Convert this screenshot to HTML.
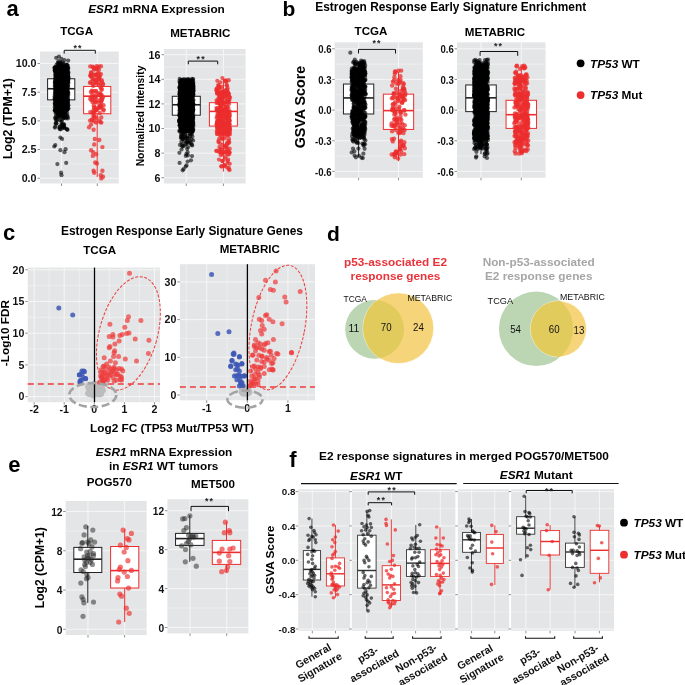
<!DOCTYPE html>
<html><head><meta charset="utf-8"><style>
html,body{margin:0;padding:0;background:#fff;width:685px;height:685px;overflow:hidden}
svg{display:block;filter:blur(0.35px);font-family:"Liberation Sans", sans-serif}
</style></head><body>
<svg width="685" height="685" viewBox="0 0 685 685" font-family="Liberation Sans, sans-serif">
<text x="12.7" y="15.9" font-size="22" font-weight="bold" text-anchor="middle" fill="#000" >a</text>
<text x="156.5" y="13" font-size="11.8" font-weight="bold" text-anchor="middle" fill="#000" ><tspan font-style="italic">ESR1</tspan> mRNA Expression</text>
<text x="76.6" y="35.3" font-size="11.6" font-weight="bold" text-anchor="middle" fill="#000" >TCGA</text>
<text x="200.3" y="37.4" font-size="11.6" font-weight="bold" text-anchor="middle" fill="#000" >METABRIC</text>
<rect x="40" y="51.5" width="78.8" height="132" fill="#e4e5e6"/>
<line x1="40" x2="118.8" y1="163.86" y2="163.86" stroke="#f6f6f6" stroke-width="0.5"/>
<line x1="40" x2="118.8" y1="135.19" y2="135.19" stroke="#f6f6f6" stroke-width="0.5"/>
<line x1="40" x2="118.8" y1="106.51" y2="106.51" stroke="#f6f6f6" stroke-width="0.5"/>
<line x1="40" x2="118.8" y1="77.84" y2="77.84" stroke="#f6f6f6" stroke-width="0.5"/>
<line x1="40" x2="118.8" y1="178.20" y2="178.20" stroke="#f6f6f6" stroke-width="1"/>
<line x1="40" x2="118.8" y1="149.52" y2="149.52" stroke="#f6f6f6" stroke-width="1"/>
<line x1="40" x2="118.8" y1="120.85" y2="120.85" stroke="#f6f6f6" stroke-width="1"/>
<line x1="40" x2="118.8" y1="92.17" y2="92.17" stroke="#f6f6f6" stroke-width="1"/>
<line x1="40" x2="118.8" y1="63.50" y2="63.50" stroke="#f6f6f6" stroke-width="1"/>
<line y1="51.5" y2="183.5" x1="61.50" x2="61.50" stroke="#f6f6f6" stroke-width="1"/>
<line y1="51.5" y2="183.5" x1="97.30" x2="97.30" stroke="#f6f6f6" stroke-width="1"/>
<line x1="37.5" x2="40" y1="178.20" y2="178.20" stroke="#444" stroke-width="0.6"/>
<line x1="37.5" x2="40" y1="149.52" y2="149.52" stroke="#444" stroke-width="0.6"/>
<line x1="37.5" x2="40" y1="120.85" y2="120.85" stroke="#444" stroke-width="0.6"/>
<line x1="37.5" x2="40" y1="92.17" y2="92.17" stroke="#444" stroke-width="0.6"/>
<line x1="37.5" x2="40" y1="63.50" y2="63.50" stroke="#444" stroke-width="0.6"/>
<line y1="183.5" y2="186" x1="61.50" x2="61.50" stroke="#444" stroke-width="0.6"/>
<line y1="183.5" y2="186" x1="97.30" x2="97.30" stroke="#444" stroke-width="0.6"/>
<text x="36.5" y="182.1" font-size="10.7" font-weight="bold" text-anchor="end" fill="#111" >0.0</text>
<text x="36.5" y="153.4" font-size="10.7" font-weight="bold" text-anchor="end" fill="#111" >2.5</text>
<text x="36.5" y="124.7" font-size="10.7" font-weight="bold" text-anchor="end" fill="#111" >5.0</text>
<text x="36.5" y="96" font-size="10.7" font-weight="bold" text-anchor="end" fill="#111" >7.5</text>
<text x="36.5" y="67.4" font-size="10.7" font-weight="bold" text-anchor="end" fill="#111" >10.0</text>
<text transform="translate(11.6 118.6) rotate(-90)" font-size="12.3" font-weight="bold" text-anchor="middle">Log2 (TPM+1)</text>
<path d="M64.2 53.6V50.3H95.3V53.6" fill="none" stroke="#111" stroke-width="1"/>
<text x="78.0" y="51.2" font-size="8.8" font-weight="bold" text-anchor="middle" letter-spacing="1.2" fill="#222">**</text>
<line x1="61.20" x2="61.20" y1="60.06" y2="78.76" stroke="#222" stroke-width="1.0"/>
<line x1="61.20" x2="61.20" y1="99.86" y2="128.88" stroke="#222" stroke-width="1.0"/>
<rect x="47.60" y="78.76" width="27.20" height="21.10" fill="#fff" stroke="#222" stroke-width="1.0"/>
<line x1="47.60" x2="74.80" y1="88.73" y2="88.73" stroke="#222" stroke-width="1.6"/>
<line x1="97.20" x2="97.20" y1="65.79" y2="86.44" stroke="#ec2e2e" stroke-width="1.0"/>
<line x1="97.20" x2="97.20" y1="113.74" y2="177.05" stroke="#ec2e2e" stroke-width="1.0"/>
<rect x="83.60" y="86.44" width="27.20" height="27.30" fill="#fff" stroke="#ec2e2e" stroke-width="1.0"/>
<line x1="83.60" x2="110.80" y1="96.19" y2="96.19" stroke="#ec2e2e" stroke-width="1.6"/>
<g fill="#000" fill-opacity="0.6"><circle cx="66.6" cy="83.0" r="2.1"/><circle cx="54.7" cy="70.5" r="2.1"/><circle cx="61.8" cy="76.1" r="2.1"/><circle cx="59.7" cy="101.3" r="2.1"/><circle cx="65.1" cy="97.9" r="2.1"/><circle cx="55.6" cy="71.6" r="2.1"/><circle cx="58.3" cy="111.4" r="2.1"/><circle cx="65.8" cy="74.0" r="2.1"/><circle cx="61.1" cy="75.1" r="2.1"/><circle cx="60.9" cy="90.2" r="2.1"/><circle cx="68.0" cy="97.8" r="2.1"/><circle cx="59.0" cy="98.9" r="2.1"/><circle cx="55.2" cy="100.0" r="2.1"/><circle cx="60.0" cy="91.3" r="2.1"/><circle cx="56.7" cy="88.5" r="2.1"/><circle cx="55.7" cy="86.3" r="2.1"/><circle cx="62.4" cy="66.0" r="2.1"/><circle cx="67.8" cy="75.3" r="2.1"/><circle cx="62.6" cy="83.1" r="2.1"/><circle cx="63.5" cy="66.3" r="2.1"/><circle cx="59.1" cy="101.8" r="2.1"/><circle cx="62.5" cy="104.3" r="2.1"/><circle cx="65.0" cy="83.6" r="2.1"/><circle cx="62.7" cy="109.7" r="2.1"/><circle cx="65.7" cy="110.0" r="2.1"/><circle cx="62.2" cy="88.1" r="2.1"/><circle cx="57.3" cy="90.3" r="2.1"/><circle cx="62.6" cy="69.6" r="2.1"/><circle cx="61.4" cy="82.8" r="2.1"/><circle cx="56.9" cy="88.1" r="2.1"/><circle cx="63.1" cy="88.9" r="2.1"/><circle cx="65.9" cy="100.3" r="2.1"/><circle cx="56.5" cy="111.1" r="2.1"/><circle cx="62.1" cy="102.8" r="2.1"/><circle cx="64.7" cy="79.9" r="2.1"/><circle cx="60.2" cy="102.5" r="2.1"/><circle cx="58.3" cy="94.7" r="2.1"/><circle cx="59.7" cy="111.5" r="2.1"/><circle cx="62.1" cy="73.6" r="2.1"/><circle cx="64.1" cy="104.6" r="2.1"/><circle cx="62.3" cy="99.4" r="2.1"/><circle cx="56.1" cy="71.3" r="2.1"/><circle cx="65.9" cy="88.3" r="2.1"/><circle cx="67.3" cy="72.8" r="2.1"/><circle cx="56.0" cy="82.3" r="2.1"/><circle cx="58.0" cy="77.6" r="2.1"/><circle cx="57.0" cy="107.5" r="2.1"/><circle cx="66.3" cy="86.8" r="2.1"/><circle cx="67.2" cy="88.4" r="2.1"/><circle cx="55.2" cy="71.7" r="2.1"/><circle cx="59.2" cy="95.1" r="2.1"/><circle cx="57.3" cy="84.2" r="2.1"/><circle cx="61.1" cy="109.0" r="2.1"/><circle cx="67.3" cy="93.9" r="2.1"/><circle cx="55.6" cy="96.9" r="2.1"/><circle cx="57.0" cy="104.8" r="2.1"/><circle cx="61.3" cy="74.2" r="2.1"/><circle cx="61.8" cy="94.3" r="2.1"/><circle cx="64.9" cy="66.8" r="2.1"/><circle cx="60.6" cy="84.6" r="2.1"/><circle cx="56.5" cy="83.9" r="2.1"/><circle cx="59.5" cy="82.4" r="2.1"/><circle cx="68.2" cy="80.6" r="2.1"/><circle cx="65.0" cy="104.8" r="2.1"/><circle cx="56.2" cy="91.5" r="2.1"/><circle cx="65.8" cy="100.7" r="2.1"/><circle cx="58.9" cy="93.2" r="2.1"/><circle cx="65.4" cy="107.2" r="2.1"/><circle cx="54.8" cy="67.3" r="2.1"/><circle cx="66.6" cy="101.8" r="2.1"/><circle cx="56.8" cy="80.9" r="2.1"/><circle cx="60.9" cy="97.9" r="2.1"/><circle cx="63.7" cy="71.6" r="2.1"/><circle cx="61.6" cy="81.3" r="2.1"/><circle cx="56.9" cy="105.6" r="2.1"/><circle cx="56.5" cy="72.9" r="2.1"/><circle cx="58.5" cy="68.3" r="2.1"/><circle cx="55.3" cy="70.2" r="2.1"/><circle cx="57.6" cy="85.5" r="2.1"/><circle cx="56.4" cy="105.0" r="2.1"/><circle cx="61.0" cy="102.8" r="2.1"/><circle cx="59.5" cy="69.1" r="2.1"/><circle cx="62.7" cy="86.3" r="2.1"/><circle cx="58.5" cy="103.4" r="2.1"/><circle cx="55.1" cy="71.1" r="2.1"/><circle cx="59.2" cy="82.2" r="2.1"/><circle cx="65.0" cy="85.5" r="2.1"/><circle cx="58.1" cy="94.4" r="2.1"/><circle cx="60.2" cy="92.8" r="2.1"/><circle cx="65.0" cy="100.7" r="2.1"/><circle cx="60.2" cy="109.9" r="2.1"/><circle cx="66.8" cy="71.5" r="2.1"/><circle cx="67.3" cy="90.2" r="2.1"/><circle cx="58.9" cy="86.5" r="2.1"/><circle cx="64.8" cy="96.9" r="2.1"/><circle cx="58.1" cy="77.2" r="2.1"/><circle cx="56.5" cy="110.5" r="2.1"/><circle cx="60.6" cy="94.6" r="2.1"/><circle cx="62.9" cy="110.3" r="2.1"/><circle cx="67.5" cy="106.0" r="2.1"/><circle cx="56.6" cy="67.3" r="2.1"/><circle cx="64.4" cy="81.5" r="2.1"/><circle cx="61.2" cy="92.0" r="2.1"/><circle cx="56.4" cy="87.6" r="2.1"/><circle cx="68.0" cy="71.6" r="2.1"/><circle cx="64.2" cy="95.9" r="2.1"/><circle cx="56.4" cy="84.6" r="2.1"/><circle cx="67.1" cy="80.3" r="2.1"/><circle cx="56.0" cy="95.4" r="2.1"/><circle cx="55.9" cy="87.9" r="2.1"/><circle cx="59.2" cy="76.6" r="2.1"/><circle cx="67.5" cy="70.0" r="2.1"/><circle cx="55.1" cy="104.7" r="2.1"/><circle cx="67.3" cy="68.8" r="2.1"/><circle cx="63.0" cy="111.4" r="2.1"/><circle cx="55.5" cy="77.1" r="2.1"/><circle cx="62.4" cy="74.5" r="2.1"/><circle cx="60.9" cy="105.4" r="2.1"/><circle cx="62.4" cy="92.5" r="2.1"/><circle cx="64.8" cy="74.3" r="2.1"/><circle cx="64.0" cy="111.0" r="2.1"/><circle cx="68.4" cy="82.8" r="2.1"/><circle cx="56.8" cy="75.3" r="2.1"/><circle cx="65.8" cy="88.1" r="2.1"/><circle cx="60.3" cy="78.4" r="2.1"/><circle cx="65.4" cy="101.3" r="2.1"/><circle cx="66.9" cy="102.6" r="2.1"/><circle cx="68.3" cy="95.0" r="2.1"/><circle cx="58.3" cy="103.4" r="2.1"/><circle cx="60.9" cy="95.8" r="2.1"/><circle cx="67.6" cy="68.2" r="2.1"/><circle cx="67.7" cy="85.4" r="2.1"/><circle cx="59.7" cy="96.1" r="2.1"/><circle cx="67.6" cy="99.2" r="2.1"/><circle cx="60.2" cy="68.0" r="2.1"/><circle cx="59.8" cy="91.3" r="2.1"/><circle cx="65.0" cy="66.7" r="2.1"/><circle cx="61.1" cy="88.0" r="2.1"/><circle cx="60.8" cy="87.8" r="2.1"/><circle cx="59.9" cy="70.5" r="2.1"/><circle cx="60.6" cy="77.6" r="2.1"/><circle cx="56.5" cy="85.0" r="2.1"/><circle cx="55.4" cy="92.1" r="2.1"/><circle cx="65.0" cy="71.4" r="2.1"/><circle cx="62.4" cy="92.8" r="2.1"/><circle cx="63.9" cy="69.3" r="2.1"/><circle cx="65.7" cy="108.5" r="2.1"/><circle cx="57.8" cy="91.9" r="2.1"/><circle cx="57.8" cy="87.8" r="2.1"/><circle cx="58.4" cy="68.0" r="2.1"/><circle cx="58.8" cy="100.2" r="2.1"/><circle cx="65.1" cy="74.7" r="2.1"/><circle cx="59.8" cy="80.6" r="2.1"/><circle cx="59.1" cy="78.8" r="2.1"/><circle cx="63.4" cy="82.8" r="2.1"/><circle cx="57.2" cy="67.1" r="2.1"/><circle cx="56.1" cy="96.4" r="2.1"/><circle cx="64.2" cy="93.4" r="2.1"/><circle cx="65.0" cy="102.4" r="2.1"/><circle cx="58.7" cy="109.3" r="2.1"/><circle cx="63.4" cy="101.9" r="2.1"/><circle cx="55.1" cy="69.7" r="2.1"/><circle cx="60.2" cy="73.1" r="2.1"/><circle cx="62.6" cy="106.5" r="2.1"/><circle cx="58.1" cy="84.0" r="2.1"/><circle cx="59.4" cy="89.7" r="2.1"/><circle cx="63.0" cy="84.4" r="2.1"/><circle cx="62.7" cy="81.4" r="2.1"/><circle cx="56.7" cy="97.6" r="2.1"/><circle cx="64.4" cy="67.6" r="2.1"/><circle cx="55.7" cy="90.3" r="2.1"/><circle cx="68.0" cy="82.9" r="2.1"/><circle cx="57.4" cy="82.5" r="2.1"/><circle cx="58.1" cy="103.2" r="2.1"/><circle cx="57.4" cy="108.8" r="2.1"/><circle cx="68.3" cy="92.8" r="2.1"/><circle cx="58.6" cy="76.6" r="2.1"/><circle cx="63.0" cy="74.3" r="2.1"/><circle cx="68.3" cy="78.2" r="2.1"/><circle cx="67.7" cy="106.5" r="2.1"/><circle cx="55.2" cy="69.8" r="2.1"/><circle cx="61.8" cy="74.9" r="2.1"/><circle cx="62.9" cy="71.4" r="2.1"/><circle cx="64.3" cy="87.7" r="2.1"/><circle cx="59.2" cy="69.7" r="2.1"/><circle cx="59.1" cy="109.5" r="2.1"/><circle cx="54.7" cy="110.3" r="2.1"/><circle cx="55.1" cy="110.7" r="2.1"/><circle cx="62.2" cy="100.1" r="2.1"/><circle cx="55.6" cy="100.3" r="2.1"/><circle cx="57.4" cy="103.1" r="2.1"/><circle cx="59.2" cy="85.7" r="2.1"/><circle cx="55.6" cy="109.9" r="2.1"/><circle cx="55.0" cy="84.6" r="2.1"/><circle cx="67.4" cy="104.1" r="2.1"/><circle cx="60.6" cy="80.6" r="2.1"/><circle cx="57.4" cy="110.7" r="2.1"/><circle cx="64.4" cy="97.4" r="2.1"/><circle cx="54.7" cy="68.6" r="2.1"/><circle cx="58.0" cy="87.0" r="2.1"/><circle cx="67.9" cy="74.4" r="2.1"/><circle cx="67.0" cy="81.5" r="2.1"/><circle cx="63.4" cy="83.7" r="2.1"/><circle cx="55.9" cy="102.9" r="2.1"/><circle cx="59.0" cy="85.3" r="2.1"/><circle cx="55.0" cy="109.9" r="2.1"/><circle cx="57.6" cy="74.9" r="2.1"/><circle cx="55.0" cy="67.6" r="2.1"/><circle cx="56.3" cy="72.5" r="2.1"/><circle cx="63.3" cy="109.3" r="2.1"/><circle cx="56.0" cy="96.1" r="2.1"/><circle cx="56.7" cy="97.1" r="2.1"/><circle cx="67.1" cy="106.5" r="2.1"/><circle cx="59.2" cy="82.9" r="2.1"/><circle cx="59.2" cy="75.1" r="2.1"/><circle cx="55.8" cy="97.3" r="2.1"/><circle cx="65.6" cy="72.1" r="2.1"/><circle cx="63.9" cy="75.1" r="2.1"/><circle cx="62.2" cy="105.7" r="2.1"/><circle cx="63.1" cy="76.5" r="2.1"/><circle cx="56.0" cy="71.2" r="2.1"/><circle cx="58.2" cy="102.6" r="2.1"/><circle cx="62.7" cy="85.4" r="2.1"/><circle cx="67.7" cy="82.4" r="2.1"/><circle cx="65.9" cy="83.7" r="2.1"/><circle cx="63.4" cy="107.3" r="2.1"/><circle cx="61.8" cy="81.3" r="2.1"/><circle cx="54.8" cy="82.7" r="2.1"/><circle cx="66.9" cy="73.9" r="2.1"/><circle cx="55.5" cy="74.8" r="2.1"/><circle cx="56.4" cy="96.7" r="2.1"/><circle cx="64.2" cy="78.5" r="2.1"/><circle cx="65.8" cy="71.9" r="2.1"/><circle cx="65.5" cy="70.7" r="2.1"/><circle cx="60.8" cy="104.3" r="2.1"/><circle cx="57.0" cy="110.4" r="2.1"/><circle cx="55.1" cy="81.8" r="2.1"/><circle cx="66.3" cy="101.8" r="2.1"/><circle cx="68.1" cy="85.8" r="2.1"/><circle cx="58.0" cy="68.3" r="2.1"/><circle cx="66.6" cy="94.3" r="2.1"/><circle cx="60.2" cy="100.1" r="2.1"/><circle cx="58.9" cy="90.7" r="2.1"/><circle cx="61.6" cy="81.5" r="2.1"/><circle cx="54.7" cy="107.0" r="2.1"/><circle cx="60.7" cy="94.2" r="2.1"/><circle cx="57.4" cy="105.5" r="2.1"/><circle cx="64.4" cy="81.3" r="2.1"/><circle cx="61.5" cy="73.6" r="2.1"/><circle cx="66.6" cy="94.4" r="2.1"/><circle cx="67.0" cy="94.6" r="2.1"/><circle cx="59.0" cy="86.9" r="2.1"/><circle cx="58.5" cy="101.8" r="2.1"/><circle cx="67.6" cy="100.3" r="2.1"/><circle cx="61.6" cy="96.5" r="2.1"/><circle cx="55.9" cy="90.7" r="2.1"/><circle cx="55.2" cy="107.9" r="2.1"/><circle cx="68.3" cy="77.1" r="2.1"/><circle cx="62.6" cy="85.1" r="2.1"/><circle cx="55.4" cy="97.9" r="2.1"/><circle cx="61.7" cy="108.1" r="2.1"/><circle cx="61.6" cy="76.7" r="2.1"/><circle cx="60.6" cy="105.7" r="2.1"/><circle cx="67.7" cy="105.6" r="2.1"/><circle cx="67.7" cy="105.7" r="2.1"/><circle cx="56.3" cy="107.9" r="2.1"/><circle cx="56.7" cy="70.1" r="2.1"/><circle cx="60.2" cy="99.3" r="2.1"/><circle cx="66.1" cy="97.6" r="2.1"/><circle cx="63.2" cy="73.5" r="2.1"/><circle cx="64.7" cy="83.2" r="2.1"/><circle cx="62.5" cy="103.1" r="2.1"/><circle cx="57.5" cy="91.7" r="2.1"/><circle cx="65.9" cy="71.1" r="2.1"/><circle cx="54.8" cy="94.5" r="2.1"/><circle cx="64.2" cy="79.1" r="2.1"/><circle cx="57.3" cy="107.2" r="2.1"/><circle cx="61.1" cy="78.3" r="2.1"/><circle cx="68.1" cy="76.0" r="2.1"/><circle cx="62.0" cy="73.8" r="2.1"/><circle cx="55.4" cy="80.7" r="2.1"/><circle cx="60.5" cy="94.7" r="2.1"/><circle cx="63.7" cy="108.7" r="2.1"/><circle cx="55.4" cy="87.9" r="2.1"/><circle cx="58.1" cy="76.9" r="2.1"/><circle cx="54.9" cy="102.9" r="2.1"/><circle cx="62.1" cy="99.5" r="2.1"/><circle cx="59.9" cy="87.1" r="2.1"/><circle cx="61.6" cy="77.3" r="2.1"/><circle cx="58.7" cy="70.5" r="2.1"/><circle cx="63.7" cy="105.9" r="2.1"/><circle cx="57.0" cy="103.2" r="2.1"/><circle cx="67.1" cy="75.0" r="2.1"/><circle cx="67.8" cy="82.1" r="2.1"/><circle cx="61.4" cy="78.6" r="2.1"/><circle cx="61.0" cy="65.9" r="2.1"/><circle cx="66.5" cy="68.6" r="2.1"/><circle cx="58.6" cy="73.0" r="2.1"/><circle cx="65.7" cy="76.0" r="2.1"/><circle cx="58.6" cy="93.6" r="2.1"/><circle cx="64.5" cy="82.3" r="2.1"/><circle cx="59.2" cy="103.2" r="2.1"/><circle cx="62.9" cy="76.8" r="2.1"/><circle cx="67.4" cy="76.9" r="2.1"/><circle cx="55.3" cy="78.6" r="2.1"/><circle cx="65.7" cy="91.3" r="2.1"/><circle cx="62.1" cy="94.3" r="2.1"/><circle cx="59.8" cy="92.4" r="2.1"/><circle cx="59.4" cy="110.1" r="2.1"/><circle cx="55.6" cy="72.9" r="2.1"/><circle cx="58.2" cy="86.8" r="2.1"/><circle cx="63.2" cy="93.9" r="2.1"/><circle cx="55.9" cy="86.5" r="2.1"/><circle cx="63.8" cy="78.6" r="2.1"/><circle cx="67.9" cy="94.2" r="2.1"/><circle cx="68.1" cy="73.6" r="2.1"/><circle cx="66.9" cy="69.5" r="2.1"/><circle cx="65.7" cy="93.9" r="2.1"/><circle cx="57.1" cy="105.4" r="2.1"/><circle cx="68.0" cy="76.8" r="2.1"/><circle cx="57.4" cy="66.1" r="2.1"/><circle cx="66.6" cy="104.9" r="2.1"/><circle cx="66.7" cy="79.0" r="2.1"/><circle cx="63.2" cy="73.8" r="2.1"/><circle cx="61.8" cy="69.4" r="2.1"/><circle cx="57.4" cy="106.0" r="2.1"/><circle cx="61.8" cy="107.5" r="2.1"/><circle cx="58.6" cy="66.4" r="2.1"/><circle cx="56.3" cy="106.3" r="2.1"/><circle cx="56.4" cy="103.6" r="2.1"/><circle cx="65.7" cy="85.3" r="2.1"/><circle cx="67.3" cy="91.2" r="2.1"/><circle cx="56.6" cy="77.2" r="2.1"/><circle cx="54.8" cy="102.9" r="2.1"/><circle cx="58.2" cy="69.7" r="2.1"/><circle cx="56.5" cy="101.7" r="2.1"/><circle cx="57.2" cy="76.4" r="2.1"/><circle cx="62.6" cy="108.6" r="2.1"/><circle cx="60.4" cy="90.0" r="2.1"/><circle cx="60.5" cy="110.2" r="2.1"/><circle cx="57.4" cy="97.3" r="2.1"/><circle cx="63.8" cy="97.3" r="2.1"/><circle cx="58.6" cy="78.7" r="2.1"/><circle cx="60.1" cy="90.8" r="2.1"/><circle cx="61.0" cy="109.1" r="2.1"/><circle cx="67.1" cy="66.0" r="2.1"/><circle cx="58.0" cy="70.9" r="2.1"/><circle cx="64.5" cy="69.6" r="2.1"/><circle cx="58.9" cy="100.4" r="2.1"/><circle cx="66.9" cy="93.6" r="2.1"/><circle cx="60.0" cy="101.3" r="2.1"/><circle cx="61.6" cy="105.9" r="2.1"/><circle cx="66.7" cy="110.2" r="2.1"/><circle cx="63.9" cy="88.6" r="2.1"/><circle cx="55.9" cy="106.0" r="2.1"/><circle cx="56.5" cy="103.6" r="2.1"/><circle cx="68.3" cy="72.2" r="2.1"/><circle cx="55.0" cy="89.5" r="2.1"/><circle cx="58.8" cy="103.2" r="2.1"/><circle cx="67.8" cy="80.9" r="2.1"/><circle cx="54.8" cy="99.5" r="2.1"/><circle cx="56.8" cy="87.5" r="2.1"/><circle cx="57.5" cy="98.7" r="2.1"/><circle cx="55.8" cy="88.0" r="2.1"/><circle cx="61.1" cy="82.8" r="2.1"/><circle cx="62.8" cy="87.1" r="2.1"/><circle cx="59.0" cy="93.5" r="2.1"/><circle cx="56.1" cy="75.4" r="2.1"/><circle cx="65.8" cy="71.6" r="2.1"/><circle cx="65.7" cy="103.4" r="2.1"/><circle cx="62.4" cy="105.4" r="2.1"/><circle cx="56.5" cy="106.5" r="2.1"/><circle cx="62.1" cy="66.7" r="2.1"/><circle cx="63.3" cy="68.5" r="2.1"/><circle cx="60.5" cy="101.1" r="2.1"/><circle cx="66.5" cy="67.2" r="2.1"/><circle cx="60.0" cy="102.1" r="2.1"/><circle cx="61.7" cy="88.4" r="2.1"/><circle cx="56.2" cy="88.9" r="2.1"/><circle cx="62.4" cy="69.7" r="2.1"/><circle cx="65.2" cy="109.8" r="2.1"/><circle cx="64.7" cy="97.2" r="2.1"/><circle cx="58.1" cy="84.1" r="2.1"/><circle cx="68.3" cy="108.6" r="2.1"/><circle cx="64.5" cy="100.8" r="2.1"/><circle cx="60.4" cy="90.3" r="2.1"/><circle cx="60.3" cy="71.3" r="2.1"/><circle cx="65.4" cy="76.8" r="2.1"/><circle cx="57.0" cy="73.6" r="2.1"/><circle cx="63.4" cy="76.8" r="2.1"/><circle cx="64.5" cy="79.2" r="2.1"/><circle cx="61.7" cy="72.7" r="2.1"/><circle cx="66.7" cy="80.4" r="2.1"/><circle cx="61.1" cy="77.9" r="2.1"/><circle cx="61.0" cy="97.8" r="2.1"/><circle cx="58.5" cy="104.0" r="2.1"/><circle cx="67.3" cy="77.0" r="2.1"/><circle cx="59.0" cy="104.1" r="2.1"/><circle cx="64.2" cy="69.5" r="2.1"/><circle cx="60.2" cy="84.3" r="2.1"/><circle cx="67.5" cy="96.6" r="2.1"/><circle cx="67.7" cy="68.7" r="2.1"/><circle cx="55.0" cy="104.6" r="2.1"/><circle cx="68.3" cy="88.1" r="2.1"/><circle cx="62.9" cy="107.5" r="2.1"/><circle cx="55.6" cy="67.4" r="2.1"/><circle cx="61.5" cy="85.3" r="2.1"/><circle cx="55.3" cy="74.8" r="2.1"/><circle cx="62.2" cy="98.7" r="2.1"/><circle cx="57.2" cy="74.9" r="2.1"/><circle cx="59.7" cy="79.4" r="2.1"/><circle cx="58.8" cy="82.1" r="2.1"/><circle cx="62.9" cy="68.1" r="2.1"/><circle cx="65.9" cy="91.8" r="2.1"/><circle cx="67.5" cy="92.6" r="2.1"/><circle cx="59.1" cy="79.9" r="2.1"/><circle cx="62.5" cy="73.4" r="2.1"/><circle cx="54.7" cy="96.3" r="2.1"/><circle cx="59.7" cy="81.0" r="2.1"/><circle cx="67.9" cy="102.1" r="2.1"/><circle cx="56.2" cy="86.4" r="2.1"/><circle cx="66.6" cy="76.4" r="2.1"/><circle cx="63.6" cy="108.7" r="2.1"/><circle cx="58.7" cy="78.3" r="2.1"/><circle cx="65.3" cy="111.0" r="2.1"/><circle cx="58.6" cy="67.7" r="2.1"/><circle cx="66.9" cy="90.2" r="2.1"/><circle cx="55.7" cy="92.9" r="2.1"/><circle cx="56.2" cy="78.6" r="2.1"/><circle cx="65.0" cy="87.7" r="2.1"/><circle cx="60.8" cy="78.1" r="2.1"/><circle cx="56.6" cy="107.8" r="2.1"/><circle cx="61.7" cy="85.9" r="2.1"/><circle cx="58.7" cy="86.1" r="2.1"/><circle cx="62.2" cy="68.9" r="2.1"/><circle cx="64.9" cy="109.9" r="2.1"/><circle cx="66.4" cy="90.9" r="2.1"/><circle cx="55.4" cy="82.7" r="2.1"/><circle cx="62.8" cy="86.4" r="2.1"/><circle cx="68.2" cy="108.3" r="2.1"/><circle cx="60.9" cy="84.5" r="2.1"/><circle cx="65.2" cy="101.5" r="2.1"/><circle cx="55.9" cy="102.7" r="2.1"/><circle cx="66.7" cy="71.4" r="2.1"/><circle cx="62.6" cy="102.6" r="2.1"/><circle cx="66.9" cy="90.8" r="2.1"/><circle cx="65.5" cy="77.3" r="2.1"/><circle cx="66.6" cy="79.2" r="2.1"/><circle cx="55.4" cy="86.3" r="2.1"/><circle cx="64.5" cy="74.6" r="2.1"/><circle cx="57.3" cy="90.3" r="2.1"/><circle cx="58.3" cy="83.2" r="2.1"/><circle cx="59.1" cy="74.1" r="2.1"/><circle cx="62.8" cy="80.6" r="2.1"/><circle cx="63.3" cy="82.2" r="2.1"/><circle cx="67.5" cy="93.0" r="2.1"/><circle cx="54.8" cy="86.1" r="2.1"/><circle cx="57.3" cy="93.5" r="2.1"/><circle cx="59.6" cy="77.5" r="2.1"/><circle cx="65.9" cy="94.2" r="2.1"/><circle cx="62.2" cy="90.3" r="2.1"/><circle cx="61.7" cy="77.0" r="2.1"/><circle cx="65.1" cy="88.6" r="2.1"/><circle cx="63.6" cy="96.2" r="2.1"/><circle cx="58.6" cy="73.7" r="2.1"/><circle cx="55.8" cy="94.2" r="2.1"/><circle cx="61.0" cy="72.9" r="2.1"/><circle cx="66.7" cy="75.6" r="2.1"/><circle cx="62.9" cy="91.2" r="2.1"/><circle cx="55.3" cy="79.0" r="2.1"/><circle cx="60.7" cy="110.1" r="2.1"/><circle cx="59.9" cy="93.8" r="2.1"/><circle cx="62.6" cy="72.2" r="2.1"/><circle cx="62.7" cy="85.1" r="2.1"/><circle cx="67.7" cy="86.1" r="2.1"/><circle cx="59.3" cy="81.2" r="2.1"/><circle cx="60.2" cy="80.6" r="2.1"/><circle cx="63.1" cy="84.9" r="2.1"/><circle cx="66.8" cy="92.4" r="2.1"/><circle cx="64.3" cy="103.3" r="2.1"/><circle cx="61.1" cy="98.2" r="2.1"/><circle cx="65.8" cy="98.2" r="2.1"/><circle cx="61.3" cy="91.9" r="2.1"/><circle cx="67.9" cy="65.8" r="2.1"/><circle cx="58.5" cy="95.5" r="2.1"/><circle cx="56.4" cy="91.1" r="2.1"/><circle cx="66.1" cy="94.6" r="2.1"/><circle cx="58.7" cy="85.0" r="2.1"/><circle cx="66.3" cy="68.2" r="2.1"/><circle cx="63.0" cy="70.9" r="2.1"/><circle cx="61.6" cy="94.4" r="2.1"/><circle cx="55.8" cy="99.4" r="2.1"/><circle cx="65.5" cy="71.1" r="2.1"/><circle cx="55.5" cy="89.0" r="2.1"/><circle cx="67.9" cy="80.2" r="2.1"/><circle cx="66.7" cy="108.3" r="2.1"/><circle cx="58.8" cy="71.9" r="2.1"/><circle cx="56.4" cy="97.3" r="2.1"/><circle cx="66.8" cy="89.0" r="2.1"/><circle cx="61.2" cy="102.6" r="2.1"/><circle cx="56.3" cy="92.4" r="2.1"/><circle cx="61.5" cy="73.7" r="2.1"/><circle cx="58.0" cy="73.7" r="2.1"/><circle cx="60.2" cy="89.9" r="2.1"/><circle cx="63.4" cy="76.4" r="2.1"/><circle cx="67.2" cy="90.7" r="2.1"/><circle cx="65.7" cy="94.5" r="2.1"/><circle cx="56.8" cy="86.6" r="2.1"/><circle cx="61.2" cy="102.4" r="2.1"/><circle cx="61.4" cy="97.2" r="2.1"/><circle cx="68.3" cy="79.3" r="2.1"/><circle cx="55.8" cy="76.3" r="2.1"/><circle cx="61.6" cy="109.1" r="2.1"/><circle cx="67.2" cy="78.1" r="2.1"/><circle cx="60.1" cy="74.2" r="2.1"/><circle cx="58.2" cy="91.2" r="2.1"/><circle cx="62.3" cy="108.8" r="2.1"/><circle cx="59.0" cy="80.3" r="2.1"/><circle cx="67.4" cy="100.4" r="2.1"/><circle cx="55.8" cy="82.2" r="2.1"/><circle cx="57.5" cy="94.4" r="2.1"/><circle cx="55.8" cy="82.4" r="2.1"/><circle cx="64.4" cy="99.8" r="2.1"/><circle cx="58.6" cy="89.8" r="2.1"/><circle cx="67.0" cy="87.6" r="2.1"/><circle cx="66.9" cy="82.7" r="2.1"/><circle cx="67.5" cy="102.4" r="2.1"/><circle cx="58.1" cy="67.5" r="2.1"/><circle cx="54.6" cy="98.4" r="2.1"/><circle cx="59.9" cy="97.6" r="2.1"/><circle cx="67.9" cy="99.9" r="2.1"/><circle cx="65.1" cy="108.6" r="2.1"/><circle cx="55.4" cy="92.3" r="2.1"/><circle cx="64.3" cy="76.3" r="2.1"/><circle cx="67.3" cy="79.1" r="2.1"/><circle cx="68.0" cy="102.7" r="2.1"/><circle cx="64.5" cy="105.4" r="2.1"/><circle cx="66.5" cy="96.9" r="2.1"/><circle cx="66.2" cy="76.4" r="2.1"/><circle cx="59.5" cy="89.3" r="2.1"/><circle cx="56.0" cy="69.3" r="2.1"/><circle cx="64.6" cy="81.6" r="2.1"/><circle cx="56.5" cy="83.2" r="2.1"/><circle cx="59.9" cy="76.5" r="2.1"/><circle cx="68.3" cy="77.3" r="2.1"/><circle cx="62.3" cy="95.9" r="2.1"/><circle cx="61.8" cy="99.9" r="2.1"/><circle cx="67.7" cy="91.6" r="2.1"/><circle cx="58.5" cy="89.2" r="2.1"/><circle cx="68.4" cy="105.2" r="2.1"/><circle cx="67.2" cy="91.4" r="2.1"/><circle cx="59.6" cy="82.3" r="2.1"/><circle cx="59.1" cy="105.4" r="2.1"/><circle cx="56.3" cy="105.3" r="2.1"/><circle cx="67.2" cy="103.7" r="2.1"/><circle cx="57.2" cy="98.7" r="2.1"/><circle cx="54.7" cy="67.6" r="2.1"/><circle cx="66.9" cy="110.5" r="2.1"/><circle cx="62.9" cy="103.2" r="2.1"/><circle cx="63.9" cy="104.1" r="2.1"/><circle cx="64.7" cy="89.9" r="2.1"/><circle cx="55.2" cy="111.0" r="2.1"/><circle cx="55.9" cy="90.7" r="2.1"/><circle cx="61.5" cy="104.2" r="2.1"/><circle cx="55.3" cy="99.3" r="2.1"/><circle cx="61.6" cy="75.3" r="2.1"/><circle cx="64.8" cy="103.2" r="2.1"/><circle cx="63.7" cy="83.4" r="2.1"/><circle cx="63.1" cy="93.0" r="2.1"/><circle cx="55.2" cy="92.5" r="2.1"/><circle cx="57.9" cy="74.2" r="2.1"/><circle cx="67.0" cy="104.3" r="2.1"/><circle cx="56.3" cy="69.3" r="2.1"/><circle cx="62.0" cy="70.7" r="2.1"/><circle cx="55.3" cy="81.0" r="2.1"/><circle cx="67.6" cy="109.4" r="2.1"/><circle cx="57.0" cy="81.2" r="2.1"/><circle cx="60.3" cy="84.1" r="2.1"/><circle cx="62.1" cy="76.2" r="2.1"/><circle cx="64.5" cy="101.9" r="2.1"/><circle cx="67.5" cy="67.9" r="2.1"/><circle cx="64.8" cy="71.0" r="2.1"/><circle cx="59.4" cy="106.4" r="2.1"/><circle cx="55.6" cy="97.2" r="2.1"/><circle cx="64.4" cy="110.2" r="2.1"/><circle cx="68.0" cy="73.6" r="2.1"/><circle cx="54.8" cy="69.7" r="2.1"/><circle cx="65.3" cy="66.3" r="2.1"/><circle cx="57.0" cy="83.6" r="2.1"/><circle cx="60.9" cy="81.1" r="2.1"/><circle cx="61.8" cy="80.5" r="2.1"/><circle cx="63.1" cy="85.5" r="2.1"/><circle cx="68.3" cy="68.0" r="2.1"/><circle cx="64.1" cy="83.8" r="2.1"/><circle cx="60.0" cy="96.3" r="2.1"/><circle cx="64.5" cy="88.1" r="2.1"/><circle cx="61.0" cy="110.8" r="2.1"/><circle cx="60.3" cy="78.5" r="2.1"/><circle cx="59.6" cy="79.8" r="2.1"/><circle cx="61.4" cy="92.4" r="2.1"/><circle cx="58.5" cy="62.9" r="2.1"/><circle cx="57.9" cy="63.2" r="2.1"/><circle cx="56.6" cy="64.6" r="2.1"/><circle cx="60.7" cy="65.5" r="2.1"/><circle cx="58.6" cy="65.3" r="2.1"/><circle cx="66.1" cy="65.2" r="2.1"/><circle cx="66.3" cy="64.7" r="2.1"/><circle cx="59.3" cy="64.3" r="2.1"/><circle cx="63.1" cy="62.6" r="2.1"/><circle cx="67.1" cy="64.8" r="2.1"/><circle cx="59.6" cy="62.7" r="2.1"/><circle cx="62.3" cy="63.5" r="2.1"/><circle cx="60.7" cy="62.9" r="2.1"/><circle cx="63.6" cy="64.4" r="2.1"/><circle cx="67.8" cy="118.5" r="2.1"/><circle cx="56.5" cy="113.1" r="2.1"/><circle cx="67.9" cy="116.9" r="2.1"/><circle cx="63.8" cy="117.6" r="2.1"/><circle cx="65.6" cy="113.1" r="2.1"/><circle cx="63.4" cy="113.8" r="2.1"/><circle cx="66.6" cy="117.1" r="2.1"/><circle cx="59.1" cy="116.7" r="2.1"/><circle cx="64.4" cy="112.1" r="2.1"/><circle cx="58.2" cy="116.7" r="2.1"/><circle cx="61.6" cy="113.7" r="2.1"/><circle cx="64.0" cy="117.7" r="2.1"/><circle cx="57.4" cy="112.9" r="2.1"/><circle cx="55.4" cy="117.7" r="2.1"/><circle cx="65.5" cy="115.0" r="2.1"/><circle cx="65.8" cy="118.3" r="2.1"/><circle cx="63.8" cy="114.8" r="2.1"/><circle cx="59.0" cy="112.7" r="2.1"/><circle cx="63.7" cy="118.0" r="2.1"/><circle cx="55.8" cy="116.7" r="2.1"/><circle cx="63.7" cy="113.3" r="2.1"/><circle cx="62.6" cy="114.4" r="2.1"/><circle cx="63.1" cy="116.4" r="2.1"/><circle cx="60.8" cy="114.2" r="2.1"/><circle cx="57.7" cy="115.4" r="2.1"/><circle cx="64.6" cy="112.6" r="2.1"/><circle cx="61.0" cy="116.5" r="2.1"/><circle cx="64.9" cy="113.3" r="2.1"/><circle cx="59.6" cy="114.2" r="2.1"/><circle cx="55.8" cy="113.5" r="2.1"/><circle cx="62.1" cy="116.0" r="2.1"/><circle cx="63.2" cy="113.6" r="2.1"/><circle cx="67.3" cy="113.7" r="2.1"/><circle cx="66.9" cy="115.9" r="2.1"/><circle cx="55.4" cy="118.4" r="2.1"/><circle cx="65.3" cy="111.9" r="2.1"/><circle cx="58.2" cy="113.6" r="2.1"/><circle cx="64.2" cy="117.1" r="2.1"/><circle cx="59.8" cy="113.5" r="2.1"/><circle cx="59.0" cy="116.6" r="2.1"/><circle cx="61.3" cy="124.6" r="2.1"/><circle cx="61.9" cy="120.2" r="2.1"/><circle cx="64.2" cy="124.9" r="2.1"/><circle cx="63.4" cy="126.7" r="2.1"/><circle cx="64.0" cy="126.5" r="2.1"/><circle cx="59.9" cy="129.1" r="2.1"/><circle cx="63.9" cy="127.5" r="2.1"/><circle cx="59.4" cy="126.9" r="2.1"/><circle cx="63.0" cy="128.0" r="2.1"/><circle cx="60.9" cy="129.3" r="2.1"/><circle cx="62.4" cy="124.7" r="2.1"/><circle cx="54.8" cy="127.6" r="2.1"/><circle cx="61.5" cy="121.6" r="2.1"/><circle cx="57.6" cy="119.4" r="2.1"/><circle cx="59.9" cy="126.9" r="2.1"/><circle cx="55.6" cy="123.5" r="2.1"/><circle cx="63.7" cy="124.2" r="2.1"/><circle cx="66.9" cy="129.2" r="2.1"/><circle cx="59.5" cy="128.6" r="2.1"/><circle cx="56.0" cy="119.9" r="2.1"/><circle cx="63.2" cy="124.6" r="2.1"/><circle cx="56.4" cy="120.8" r="2.1"/><circle cx="66.9" cy="129.3" r="2.1"/><circle cx="56.3" cy="123.2" r="2.1"/><circle cx="59.6" cy="120.1" r="2.1"/><circle cx="61.4" cy="58.9" r="2.1"/><circle cx="56.2" cy="57.8" r="2.1"/><circle cx="59.0" cy="56.6" r="2.1"/><circle cx="58.4" cy="61.2" r="2.1"/><circle cx="64.4" cy="60.1" r="2.1"/><circle cx="68.2" cy="60.6" r="2.1"/></g>
<g fill="#000" fill-opacity="0.6"><circle cx="60.4" cy="137.5" r="2.1"/><circle cx="62.1" cy="139.0" r="2.1"/><circle cx="55.3" cy="145.1" r="2.1"/><circle cx="54.3" cy="146.5" r="2.1"/><circle cx="60.4" cy="150.2" r="2.1"/><circle cx="65.6" cy="149.2" r="2.1"/><circle cx="64.5" cy="152.2" r="2.1"/><circle cx="57.4" cy="164.1" r="2.1"/><circle cx="66.2" cy="162.9" r="2.1"/><circle cx="61.1" cy="172.7" r="2.1"/><circle cx="61.5" cy="175.2" r="2.1"/><circle cx="67.6" cy="129.8" r="2.1"/><circle cx="64.5" cy="127.7" r="2.1"/><circle cx="55.3" cy="126.7" r="2.1"/><circle cx="56.4" cy="123.6" r="2.1"/></g>
<g fill="#ec2e2e" fill-opacity="0.75"><circle cx="90.2" cy="98.7" r="2.2"/><circle cx="99.7" cy="76.6" r="2.2"/><circle cx="93.5" cy="110.2" r="2.2"/><circle cx="100.6" cy="87.5" r="2.2"/><circle cx="96.6" cy="95.1" r="2.2"/><circle cx="97.3" cy="102.5" r="2.2"/><circle cx="96.2" cy="75.0" r="2.2"/><circle cx="99.2" cy="78.9" r="2.2"/><circle cx="103.5" cy="110.5" r="2.2"/><circle cx="100.9" cy="102.3" r="2.2"/><circle cx="90.9" cy="75.1" r="2.2"/><circle cx="96.7" cy="66.2" r="2.2"/><circle cx="93.2" cy="85.8" r="2.2"/><circle cx="91.4" cy="72.4" r="2.2"/><circle cx="92.7" cy="66.6" r="2.2"/><circle cx="93.4" cy="79.2" r="2.2"/><circle cx="103.1" cy="84.1" r="2.2"/><circle cx="100.1" cy="106.0" r="2.2"/><circle cx="101.6" cy="98.3" r="2.2"/><circle cx="99.5" cy="85.2" r="2.2"/><circle cx="94.3" cy="69.6" r="2.2"/><circle cx="95.3" cy="101.8" r="2.2"/><circle cx="96.0" cy="97.0" r="2.2"/><circle cx="94.0" cy="116.3" r="2.2"/><circle cx="95.7" cy="81.4" r="2.2"/><circle cx="100.5" cy="94.5" r="2.2"/><circle cx="91.0" cy="76.2" r="2.2"/><circle cx="93.8" cy="105.3" r="2.2"/><circle cx="96.5" cy="83.4" r="2.2"/><circle cx="99.2" cy="82.7" r="2.2"/><circle cx="98.8" cy="93.4" r="2.2"/><circle cx="99.9" cy="107.7" r="2.2"/><circle cx="91.4" cy="96.6" r="2.2"/><circle cx="92.5" cy="79.0" r="2.2"/><circle cx="94.2" cy="107.6" r="2.2"/><circle cx="93.8" cy="112.8" r="2.2"/><circle cx="100.3" cy="93.5" r="2.2"/><circle cx="103.5" cy="105.3" r="2.2"/><circle cx="99.3" cy="76.1" r="2.2"/><circle cx="90.4" cy="75.2" r="2.2"/><circle cx="94.0" cy="68.6" r="2.2"/><circle cx="100.9" cy="74.1" r="2.2"/><circle cx="102.6" cy="84.0" r="2.2"/><circle cx="98.1" cy="107.8" r="2.2"/><circle cx="94.7" cy="74.9" r="2.2"/><circle cx="94.8" cy="79.8" r="2.2"/><circle cx="98.6" cy="78.9" r="2.2"/><circle cx="101.8" cy="81.4" r="2.2"/><circle cx="94.6" cy="74.6" r="2.2"/><circle cx="92.6" cy="102.0" r="2.2"/><circle cx="90.0" cy="82.7" r="2.2"/><circle cx="91.9" cy="90.7" r="2.2"/><circle cx="101.6" cy="100.0" r="2.2"/><circle cx="98.5" cy="100.5" r="2.2"/><circle cx="103.5" cy="109.4" r="2.2"/><circle cx="90.9" cy="92.0" r="2.2"/><circle cx="95.0" cy="98.4" r="2.2"/><circle cx="100.8" cy="95.7" r="2.2"/><circle cx="99.0" cy="73.5" r="2.2"/><circle cx="90.9" cy="82.2" r="2.2"/><circle cx="95.5" cy="82.3" r="2.2"/><circle cx="98.7" cy="66.6" r="2.2"/><circle cx="99.4" cy="106.2" r="2.2"/><circle cx="96.1" cy="91.2" r="2.2"/><circle cx="92.6" cy="112.6" r="2.2"/><circle cx="103.1" cy="97.1" r="2.2"/><circle cx="96.3" cy="68.4" r="2.2"/><circle cx="99.8" cy="113.0" r="2.2"/><circle cx="97.3" cy="78.3" r="2.2"/><circle cx="91.1" cy="72.7" r="2.2"/><circle cx="93.2" cy="91.1" r="2.2"/><circle cx="90.9" cy="76.2" r="2.2"/><circle cx="92.6" cy="94.6" r="2.2"/><circle cx="92.7" cy="99.2" r="2.2"/><circle cx="95.6" cy="91.3" r="2.2"/><circle cx="94.4" cy="107.4" r="2.2"/><circle cx="94.9" cy="101.5" r="2.2"/><circle cx="101.1" cy="101.6" r="2.2"/><circle cx="90.3" cy="66.4" r="2.2"/><circle cx="91.4" cy="100.1" r="2.2"/><circle cx="101.0" cy="105.6" r="2.2"/><circle cx="97.3" cy="68.9" r="2.2"/><circle cx="96.0" cy="110.3" r="2.2"/><circle cx="93.6" cy="67.6" r="2.2"/><circle cx="97.4" cy="73.4" r="2.2"/><circle cx="93.0" cy="84.0" r="2.2"/><circle cx="101.7" cy="95.3" r="2.2"/><circle cx="101.2" cy="107.2" r="2.2"/><circle cx="94.4" cy="111.9" r="2.2"/><circle cx="90.3" cy="112.1" r="2.2"/><circle cx="102.1" cy="99.4" r="2.2"/><circle cx="94.1" cy="96.4" r="2.2"/><circle cx="98.9" cy="69.7" r="2.2"/><circle cx="101.7" cy="89.7" r="2.2"/><circle cx="100.9" cy="66.3" r="2.2"/><circle cx="101.7" cy="80.2" r="2.2"/><circle cx="96.7" cy="109.9" r="2.2"/><circle cx="101.5" cy="88.8" r="2.2"/><circle cx="96.3" cy="109.2" r="2.2"/><circle cx="93.6" cy="115.4" r="2.2"/><circle cx="96.5" cy="117.7" r="2.2"/><circle cx="94.6" cy="121.2" r="2.2"/><circle cx="100.4" cy="122.1" r="2.2"/><circle cx="101.3" cy="122.6" r="2.2"/><circle cx="91.9" cy="119.4" r="2.2"/><circle cx="92.2" cy="120.5" r="2.2"/></g>
<g fill="#ec2e2e" fill-opacity="0.75"><circle cx="94.8" cy="139.0" r="2.2"/><circle cx="99.3" cy="140.0" r="2.2"/><circle cx="94.2" cy="144.5" r="2.2"/><circle cx="102.4" cy="147.1" r="2.2"/><circle cx="91.1" cy="150.2" r="2.2"/><circle cx="93.2" cy="152.2" r="2.2"/><circle cx="96.2" cy="154.3" r="2.2"/><circle cx="92.8" cy="155.9" r="2.2"/><circle cx="95.2" cy="162.5" r="2.2"/><circle cx="96.9" cy="163.5" r="2.2"/><circle cx="93.6" cy="170.7" r="2.2"/><circle cx="102.4" cy="170.7" r="2.2"/><circle cx="94.2" cy="172.7" r="2.2"/><circle cx="100.9" cy="175.2" r="2.2"/><circle cx="103.0" cy="176.8" r="2.2"/><circle cx="101.3" cy="178.4" r="2.2"/><circle cx="89.1" cy="127.3" r="2.2"/><circle cx="91.1" cy="124.6" r="2.2"/><circle cx="93.6" cy="129.8" r="2.2"/><circle cx="96.2" cy="122.6" r="2.2"/><circle cx="99.3" cy="120.6" r="2.2"/><circle cx="101.3" cy="117.5" r="2.2"/><circle cx="94.2" cy="117.5" r="2.2"/><circle cx="90.1" cy="120.6" r="2.2"/></g>
<rect x="164" y="49" width="81.6" height="134.5" fill="#e4e5e6"/>
<line x1="164" x2="245.6" y1="165.40" y2="165.40" stroke="#f6f6f6" stroke-width="0.5"/>
<line x1="164" x2="245.6" y1="140.80" y2="140.80" stroke="#f6f6f6" stroke-width="0.5"/>
<line x1="164" x2="245.6" y1="116.20" y2="116.20" stroke="#f6f6f6" stroke-width="0.5"/>
<line x1="164" x2="245.6" y1="91.60" y2="91.60" stroke="#f6f6f6" stroke-width="0.5"/>
<line x1="164" x2="245.6" y1="67.00" y2="67.00" stroke="#f6f6f6" stroke-width="0.5"/>
<line x1="164" x2="245.6" y1="177.70" y2="177.70" stroke="#f6f6f6" stroke-width="1"/>
<line x1="164" x2="245.6" y1="153.10" y2="153.10" stroke="#f6f6f6" stroke-width="1"/>
<line x1="164" x2="245.6" y1="128.50" y2="128.50" stroke="#f6f6f6" stroke-width="1"/>
<line x1="164" x2="245.6" y1="103.90" y2="103.90" stroke="#f6f6f6" stroke-width="1"/>
<line x1="164" x2="245.6" y1="79.30" y2="79.30" stroke="#f6f6f6" stroke-width="1"/>
<line x1="164" x2="245.6" y1="54.70" y2="54.70" stroke="#f6f6f6" stroke-width="1"/>
<line y1="49" y2="183.5" x1="186.30" x2="186.30" stroke="#f6f6f6" stroke-width="1"/>
<line y1="49" y2="183.5" x1="223.40" x2="223.40" stroke="#f6f6f6" stroke-width="1"/>
<line x1="161.5" x2="164" y1="177.70" y2="177.70" stroke="#444" stroke-width="0.6"/>
<line x1="161.5" x2="164" y1="153.10" y2="153.10" stroke="#444" stroke-width="0.6"/>
<line x1="161.5" x2="164" y1="128.50" y2="128.50" stroke="#444" stroke-width="0.6"/>
<line x1="161.5" x2="164" y1="103.90" y2="103.90" stroke="#444" stroke-width="0.6"/>
<line x1="161.5" x2="164" y1="79.30" y2="79.30" stroke="#444" stroke-width="0.6"/>
<line x1="161.5" x2="164" y1="54.70" y2="54.70" stroke="#444" stroke-width="0.6"/>
<line y1="183.5" y2="186" x1="186.30" x2="186.30" stroke="#444" stroke-width="0.6"/>
<line y1="183.5" y2="186" x1="223.40" x2="223.40" stroke="#444" stroke-width="0.6"/>
<text x="160.5" y="181.6" font-size="10.7" font-weight="bold" text-anchor="end" fill="#111" >6</text>
<text x="160.5" y="157" font-size="10.7" font-weight="bold" text-anchor="end" fill="#111" >8</text>
<text x="160.5" y="132.4" font-size="10.7" font-weight="bold" text-anchor="end" fill="#111" >10</text>
<text x="160.5" y="107.8" font-size="10.7" font-weight="bold" text-anchor="end" fill="#111" >12</text>
<text x="160.5" y="83.2" font-size="10.7" font-weight="bold" text-anchor="end" fill="#111" >14</text>
<text x="160.5" y="58.6" font-size="10.7" font-weight="bold" text-anchor="end" fill="#111" >16</text>
<text transform="translate(143.5 116) rotate(-90)" font-size="10.3" font-weight="bold" text-anchor="middle">Normalized Intensity</text>
<path d="M188.3 64.3V61.1H217.7V64.3" fill="none" stroke="#111" stroke-width="1"/>
<text x="201.2" y="62.0" font-size="8.8" font-weight="bold" text-anchor="middle" letter-spacing="1.2" fill="#222">**</text>
<line x1="186.30" x2="186.30" y1="79.30" y2="96.27" stroke="#222" stroke-width="1.0"/>
<line x1="186.30" x2="186.30" y1="115.22" y2="145.72" stroke="#222" stroke-width="1.0"/>
<rect x="172.30" y="96.27" width="28.00" height="18.94" fill="#fff" stroke="#222" stroke-width="1.0"/>
<line x1="172.30" x2="200.30" y1="104.76" y2="104.76" stroke="#222" stroke-width="1.6"/>
<line x1="223.40" x2="223.40" y1="79.30" y2="102.67" stroke="#ec2e2e" stroke-width="1.0"/>
<line x1="223.40" x2="223.40" y1="126.04" y2="171.55" stroke="#ec2e2e" stroke-width="1.0"/>
<rect x="209.40" y="102.67" width="28.00" height="23.37" fill="#fff" stroke="#ec2e2e" stroke-width="1.0"/>
<line x1="209.40" x2="237.40" y1="111.40" y2="111.40" stroke="#ec2e2e" stroke-width="1.6"/>
<g fill="#000" fill-opacity="0.6"><circle cx="185.0" cy="108.6" r="2.1"/><circle cx="185.6" cy="105.0" r="2.1"/><circle cx="188.2" cy="82.5" r="2.1"/><circle cx="181.0" cy="83.2" r="2.1"/><circle cx="186.8" cy="82.0" r="2.1"/><circle cx="180.7" cy="92.8" r="2.1"/><circle cx="182.5" cy="95.2" r="2.1"/><circle cx="188.1" cy="113.7" r="2.1"/><circle cx="193.0" cy="109.1" r="2.1"/><circle cx="193.4" cy="125.9" r="2.1"/><circle cx="183.0" cy="88.1" r="2.1"/><circle cx="181.4" cy="113.5" r="2.1"/><circle cx="186.7" cy="122.4" r="2.1"/><circle cx="185.6" cy="111.7" r="2.1"/><circle cx="184.7" cy="111.3" r="2.1"/><circle cx="190.2" cy="93.1" r="2.1"/><circle cx="189.3" cy="125.8" r="2.1"/><circle cx="187.3" cy="115.6" r="2.1"/><circle cx="188.1" cy="85.2" r="2.1"/><circle cx="187.5" cy="87.1" r="2.1"/><circle cx="188.9" cy="97.4" r="2.1"/><circle cx="192.4" cy="100.6" r="2.1"/><circle cx="192.7" cy="115.9" r="2.1"/><circle cx="193.1" cy="86.2" r="2.1"/><circle cx="191.4" cy="91.4" r="2.1"/><circle cx="180.9" cy="102.7" r="2.1"/><circle cx="185.7" cy="118.7" r="2.1"/><circle cx="190.3" cy="116.2" r="2.1"/><circle cx="183.5" cy="108.8" r="2.1"/><circle cx="187.9" cy="111.0" r="2.1"/><circle cx="180.2" cy="123.3" r="2.1"/><circle cx="182.3" cy="107.5" r="2.1"/><circle cx="185.0" cy="105.6" r="2.1"/><circle cx="180.4" cy="113.0" r="2.1"/><circle cx="185.3" cy="108.6" r="2.1"/><circle cx="182.6" cy="110.9" r="2.1"/><circle cx="191.5" cy="108.9" r="2.1"/><circle cx="183.9" cy="97.9" r="2.1"/><circle cx="184.7" cy="103.4" r="2.1"/><circle cx="190.6" cy="117.0" r="2.1"/><circle cx="187.2" cy="89.8" r="2.1"/><circle cx="180.1" cy="102.7" r="2.1"/><circle cx="182.4" cy="105.2" r="2.1"/><circle cx="188.0" cy="93.6" r="2.1"/><circle cx="182.2" cy="91.8" r="2.1"/><circle cx="182.9" cy="87.4" r="2.1"/><circle cx="188.1" cy="89.1" r="2.1"/><circle cx="186.3" cy="95.6" r="2.1"/><circle cx="183.2" cy="93.2" r="2.1"/><circle cx="187.2" cy="118.9" r="2.1"/><circle cx="188.3" cy="94.2" r="2.1"/><circle cx="180.0" cy="114.5" r="2.1"/><circle cx="183.2" cy="114.3" r="2.1"/><circle cx="183.7" cy="120.6" r="2.1"/><circle cx="191.7" cy="108.0" r="2.1"/><circle cx="180.1" cy="125.1" r="2.1"/><circle cx="184.3" cy="96.1" r="2.1"/><circle cx="182.1" cy="92.0" r="2.1"/><circle cx="189.1" cy="90.7" r="2.1"/><circle cx="190.8" cy="120.2" r="2.1"/><circle cx="180.2" cy="96.9" r="2.1"/><circle cx="191.5" cy="87.9" r="2.1"/><circle cx="189.1" cy="124.4" r="2.1"/><circle cx="182.4" cy="117.2" r="2.1"/><circle cx="192.2" cy="113.9" r="2.1"/><circle cx="183.5" cy="105.0" r="2.1"/><circle cx="190.4" cy="118.2" r="2.1"/><circle cx="180.4" cy="101.5" r="2.1"/><circle cx="185.8" cy="110.4" r="2.1"/><circle cx="186.5" cy="96.2" r="2.1"/><circle cx="192.0" cy="101.9" r="2.1"/><circle cx="191.1" cy="94.8" r="2.1"/><circle cx="187.0" cy="114.8" r="2.1"/><circle cx="180.1" cy="93.9" r="2.1"/><circle cx="185.4" cy="92.6" r="2.1"/><circle cx="184.7" cy="93.2" r="2.1"/><circle cx="193.3" cy="122.9" r="2.1"/><circle cx="188.9" cy="83.0" r="2.1"/><circle cx="185.1" cy="99.8" r="2.1"/><circle cx="184.5" cy="113.6" r="2.1"/><circle cx="190.1" cy="106.3" r="2.1"/><circle cx="180.7" cy="102.5" r="2.1"/><circle cx="190.8" cy="102.5" r="2.1"/><circle cx="188.8" cy="114.8" r="2.1"/><circle cx="185.5" cy="114.0" r="2.1"/><circle cx="189.3" cy="109.5" r="2.1"/><circle cx="185.0" cy="90.5" r="2.1"/><circle cx="181.4" cy="106.1" r="2.1"/><circle cx="185.2" cy="124.3" r="2.1"/><circle cx="180.1" cy="105.5" r="2.1"/><circle cx="180.6" cy="116.9" r="2.1"/><circle cx="185.5" cy="125.5" r="2.1"/><circle cx="191.0" cy="81.6" r="2.1"/><circle cx="182.3" cy="112.7" r="2.1"/><circle cx="186.4" cy="101.6" r="2.1"/><circle cx="193.1" cy="109.7" r="2.1"/><circle cx="191.0" cy="123.6" r="2.1"/><circle cx="192.0" cy="85.0" r="2.1"/><circle cx="188.8" cy="83.5" r="2.1"/><circle cx="187.6" cy="117.6" r="2.1"/><circle cx="187.5" cy="107.0" r="2.1"/><circle cx="187.8" cy="109.0" r="2.1"/><circle cx="185.9" cy="118.4" r="2.1"/><circle cx="184.4" cy="95.9" r="2.1"/><circle cx="182.7" cy="90.5" r="2.1"/><circle cx="180.3" cy="91.5" r="2.1"/><circle cx="184.6" cy="95.3" r="2.1"/><circle cx="190.2" cy="125.2" r="2.1"/><circle cx="187.1" cy="115.6" r="2.1"/><circle cx="181.7" cy="102.6" r="2.1"/><circle cx="190.8" cy="94.1" r="2.1"/><circle cx="180.0" cy="108.5" r="2.1"/><circle cx="192.4" cy="105.6" r="2.1"/><circle cx="188.5" cy="87.8" r="2.1"/><circle cx="187.2" cy="125.0" r="2.1"/><circle cx="185.2" cy="113.8" r="2.1"/><circle cx="191.0" cy="112.8" r="2.1"/><circle cx="179.5" cy="80.9" r="2.1"/><circle cx="179.6" cy="115.7" r="2.1"/><circle cx="186.7" cy="123.9" r="2.1"/><circle cx="183.6" cy="107.1" r="2.1"/><circle cx="185.0" cy="96.5" r="2.1"/><circle cx="186.9" cy="119.1" r="2.1"/><circle cx="180.0" cy="87.8" r="2.1"/><circle cx="193.2" cy="117.1" r="2.1"/><circle cx="188.9" cy="94.0" r="2.1"/><circle cx="180.8" cy="118.7" r="2.1"/><circle cx="189.7" cy="85.9" r="2.1"/><circle cx="186.9" cy="116.9" r="2.1"/><circle cx="189.0" cy="92.8" r="2.1"/><circle cx="189.7" cy="87.9" r="2.1"/><circle cx="193.3" cy="114.4" r="2.1"/><circle cx="181.1" cy="121.8" r="2.1"/><circle cx="193.3" cy="99.4" r="2.1"/><circle cx="186.1" cy="103.3" r="2.1"/><circle cx="182.2" cy="104.2" r="2.1"/><circle cx="184.6" cy="90.5" r="2.1"/><circle cx="184.5" cy="105.0" r="2.1"/><circle cx="191.9" cy="103.4" r="2.1"/><circle cx="186.7" cy="103.9" r="2.1"/><circle cx="180.3" cy="105.4" r="2.1"/><circle cx="189.4" cy="107.6" r="2.1"/><circle cx="186.4" cy="118.7" r="2.1"/><circle cx="190.8" cy="112.6" r="2.1"/><circle cx="180.1" cy="114.0" r="2.1"/><circle cx="191.5" cy="114.7" r="2.1"/><circle cx="191.9" cy="90.4" r="2.1"/><circle cx="179.5" cy="120.9" r="2.1"/><circle cx="186.1" cy="116.7" r="2.1"/><circle cx="181.1" cy="102.1" r="2.1"/><circle cx="186.8" cy="111.8" r="2.1"/><circle cx="180.6" cy="115.1" r="2.1"/><circle cx="191.8" cy="109.0" r="2.1"/><circle cx="182.0" cy="103.2" r="2.1"/><circle cx="188.8" cy="95.4" r="2.1"/><circle cx="188.6" cy="81.8" r="2.1"/><circle cx="183.9" cy="87.2" r="2.1"/><circle cx="182.4" cy="106.5" r="2.1"/><circle cx="192.2" cy="105.5" r="2.1"/><circle cx="180.0" cy="107.1" r="2.1"/><circle cx="183.0" cy="115.2" r="2.1"/><circle cx="184.0" cy="82.7" r="2.1"/><circle cx="187.6" cy="122.9" r="2.1"/><circle cx="184.6" cy="116.7" r="2.1"/><circle cx="181.0" cy="95.9" r="2.1"/><circle cx="187.4" cy="99.2" r="2.1"/><circle cx="189.5" cy="113.4" r="2.1"/><circle cx="189.3" cy="83.4" r="2.1"/><circle cx="186.3" cy="107.4" r="2.1"/><circle cx="183.7" cy="98.9" r="2.1"/><circle cx="179.5" cy="121.9" r="2.1"/><circle cx="186.9" cy="85.5" r="2.1"/><circle cx="188.2" cy="121.4" r="2.1"/><circle cx="185.6" cy="108.1" r="2.1"/><circle cx="192.8" cy="85.7" r="2.1"/><circle cx="182.2" cy="83.0" r="2.1"/><circle cx="190.8" cy="84.9" r="2.1"/><circle cx="189.5" cy="88.4" r="2.1"/><circle cx="192.0" cy="115.4" r="2.1"/><circle cx="192.3" cy="124.6" r="2.1"/><circle cx="182.7" cy="105.5" r="2.1"/><circle cx="192.3" cy="123.2" r="2.1"/><circle cx="185.0" cy="82.3" r="2.1"/><circle cx="188.9" cy="125.7" r="2.1"/><circle cx="192.7" cy="111.2" r="2.1"/><circle cx="187.7" cy="116.8" r="2.1"/><circle cx="187.6" cy="125.4" r="2.1"/><circle cx="180.4" cy="103.3" r="2.1"/><circle cx="187.8" cy="122.6" r="2.1"/><circle cx="182.8" cy="85.1" r="2.1"/><circle cx="184.8" cy="94.7" r="2.1"/><circle cx="184.7" cy="109.2" r="2.1"/><circle cx="193.0" cy="87.7" r="2.1"/><circle cx="188.3" cy="89.8" r="2.1"/><circle cx="189.5" cy="111.2" r="2.1"/><circle cx="181.8" cy="87.5" r="2.1"/><circle cx="183.7" cy="83.7" r="2.1"/><circle cx="191.7" cy="97.8" r="2.1"/><circle cx="181.1" cy="110.0" r="2.1"/><circle cx="192.7" cy="85.1" r="2.1"/><circle cx="185.4" cy="83.1" r="2.1"/><circle cx="184.9" cy="110.2" r="2.1"/><circle cx="186.6" cy="122.1" r="2.1"/><circle cx="185.6" cy="86.5" r="2.1"/><circle cx="186.0" cy="95.8" r="2.1"/><circle cx="185.3" cy="115.5" r="2.1"/><circle cx="189.2" cy="100.2" r="2.1"/><circle cx="183.3" cy="112.0" r="2.1"/><circle cx="181.7" cy="84.2" r="2.1"/><circle cx="185.5" cy="110.5" r="2.1"/><circle cx="180.6" cy="117.1" r="2.1"/><circle cx="185.7" cy="124.1" r="2.1"/><circle cx="186.3" cy="110.5" r="2.1"/><circle cx="190.4" cy="81.0" r="2.1"/><circle cx="180.9" cy="116.1" r="2.1"/><circle cx="185.0" cy="105.2" r="2.1"/><circle cx="190.3" cy="81.8" r="2.1"/><circle cx="184.1" cy="125.7" r="2.1"/><circle cx="191.1" cy="112.6" r="2.1"/><circle cx="189.5" cy="88.7" r="2.1"/><circle cx="180.0" cy="121.7" r="2.1"/><circle cx="184.8" cy="83.8" r="2.1"/><circle cx="190.1" cy="88.1" r="2.1"/><circle cx="186.8" cy="119.5" r="2.1"/><circle cx="188.8" cy="99.1" r="2.1"/><circle cx="193.3" cy="100.8" r="2.1"/><circle cx="188.9" cy="94.5" r="2.1"/><circle cx="187.0" cy="112.1" r="2.1"/><circle cx="191.2" cy="108.6" r="2.1"/><circle cx="185.4" cy="115.1" r="2.1"/><circle cx="179.5" cy="112.8" r="2.1"/><circle cx="183.2" cy="118.0" r="2.1"/><circle cx="187.7" cy="84.9" r="2.1"/><circle cx="192.7" cy="85.7" r="2.1"/><circle cx="187.9" cy="109.7" r="2.1"/><circle cx="183.4" cy="94.5" r="2.1"/><circle cx="193.3" cy="103.7" r="2.1"/><circle cx="185.0" cy="113.3" r="2.1"/><circle cx="182.6" cy="110.1" r="2.1"/><circle cx="187.1" cy="82.1" r="2.1"/><circle cx="184.2" cy="110.5" r="2.1"/><circle cx="181.0" cy="99.7" r="2.1"/><circle cx="189.4" cy="83.0" r="2.1"/><circle cx="189.1" cy="112.5" r="2.1"/><circle cx="193.0" cy="89.2" r="2.1"/><circle cx="181.3" cy="120.8" r="2.1"/><circle cx="192.1" cy="92.7" r="2.1"/><circle cx="190.6" cy="89.3" r="2.1"/><circle cx="182.9" cy="87.9" r="2.1"/><circle cx="186.1" cy="81.7" r="2.1"/><circle cx="188.2" cy="93.7" r="2.1"/><circle cx="183.8" cy="81.6" r="2.1"/><circle cx="180.9" cy="113.4" r="2.1"/><circle cx="191.1" cy="102.3" r="2.1"/><circle cx="181.7" cy="116.3" r="2.1"/><circle cx="186.3" cy="122.2" r="2.1"/><circle cx="185.5" cy="106.1" r="2.1"/><circle cx="192.0" cy="93.3" r="2.1"/><circle cx="187.2" cy="90.6" r="2.1"/><circle cx="185.3" cy="125.3" r="2.1"/><circle cx="193.1" cy="83.2" r="2.1"/><circle cx="184.3" cy="114.8" r="2.1"/><circle cx="189.6" cy="112.7" r="2.1"/><circle cx="182.7" cy="88.2" r="2.1"/><circle cx="190.0" cy="85.3" r="2.1"/><circle cx="189.9" cy="92.5" r="2.1"/><circle cx="191.0" cy="110.9" r="2.1"/><circle cx="186.2" cy="105.0" r="2.1"/><circle cx="182.5" cy="88.1" r="2.1"/><circle cx="188.2" cy="109.8" r="2.1"/><circle cx="192.1" cy="89.4" r="2.1"/><circle cx="183.7" cy="90.5" r="2.1"/><circle cx="179.7" cy="104.7" r="2.1"/><circle cx="182.0" cy="85.2" r="2.1"/><circle cx="192.5" cy="108.5" r="2.1"/><circle cx="179.5" cy="91.9" r="2.1"/><circle cx="180.2" cy="96.9" r="2.1"/><circle cx="180.8" cy="111.0" r="2.1"/><circle cx="191.9" cy="101.8" r="2.1"/><circle cx="184.8" cy="98.5" r="2.1"/><circle cx="189.1" cy="101.6" r="2.1"/><circle cx="189.3" cy="121.0" r="2.1"/><circle cx="185.5" cy="80.9" r="2.1"/><circle cx="189.7" cy="82.0" r="2.1"/><circle cx="185.9" cy="124.3" r="2.1"/><circle cx="187.0" cy="83.1" r="2.1"/><circle cx="183.7" cy="101.9" r="2.1"/><circle cx="179.4" cy="120.3" r="2.1"/><circle cx="187.7" cy="88.7" r="2.1"/><circle cx="183.1" cy="106.3" r="2.1"/><circle cx="183.3" cy="93.6" r="2.1"/><circle cx="191.7" cy="88.4" r="2.1"/><circle cx="184.5" cy="101.6" r="2.1"/><circle cx="180.8" cy="123.8" r="2.1"/><circle cx="188.2" cy="88.6" r="2.1"/><circle cx="186.9" cy="94.5" r="2.1"/><circle cx="180.2" cy="84.6" r="2.1"/><circle cx="184.3" cy="113.7" r="2.1"/><circle cx="188.0" cy="90.3" r="2.1"/><circle cx="183.3" cy="86.3" r="2.1"/><circle cx="193.2" cy="109.9" r="2.1"/><circle cx="190.6" cy="107.4" r="2.1"/><circle cx="186.5" cy="110.8" r="2.1"/><circle cx="192.2" cy="125.8" r="2.1"/><circle cx="179.9" cy="115.5" r="2.1"/><circle cx="182.5" cy="111.0" r="2.1"/><circle cx="192.2" cy="121.1" r="2.1"/><circle cx="186.5" cy="91.2" r="2.1"/><circle cx="181.8" cy="106.6" r="2.1"/><circle cx="187.4" cy="100.2" r="2.1"/><circle cx="189.6" cy="113.1" r="2.1"/><circle cx="187.8" cy="109.6" r="2.1"/><circle cx="180.0" cy="91.8" r="2.1"/><circle cx="179.9" cy="104.7" r="2.1"/><circle cx="185.1" cy="98.9" r="2.1"/><circle cx="179.6" cy="106.8" r="2.1"/><circle cx="180.6" cy="100.7" r="2.1"/><circle cx="188.4" cy="85.2" r="2.1"/><circle cx="185.5" cy="113.9" r="2.1"/><circle cx="180.6" cy="102.4" r="2.1"/><circle cx="191.7" cy="94.8" r="2.1"/><circle cx="184.6" cy="122.1" r="2.1"/><circle cx="191.8" cy="82.3" r="2.1"/><circle cx="187.9" cy="103.3" r="2.1"/><circle cx="188.1" cy="114.9" r="2.1"/><circle cx="185.3" cy="91.4" r="2.1"/><circle cx="188.8" cy="88.9" r="2.1"/><circle cx="182.8" cy="97.3" r="2.1"/><circle cx="183.0" cy="84.3" r="2.1"/><circle cx="191.6" cy="122.0" r="2.1"/><circle cx="182.3" cy="102.0" r="2.1"/><circle cx="184.8" cy="92.2" r="2.1"/><circle cx="189.8" cy="84.3" r="2.1"/><circle cx="184.0" cy="96.8" r="2.1"/><circle cx="184.5" cy="98.6" r="2.1"/><circle cx="192.1" cy="108.4" r="2.1"/><circle cx="182.3" cy="100.0" r="2.1"/><circle cx="182.8" cy="100.8" r="2.1"/><circle cx="191.8" cy="84.9" r="2.1"/><circle cx="183.3" cy="88.4" r="2.1"/><circle cx="184.0" cy="92.5" r="2.1"/><circle cx="191.7" cy="84.0" r="2.1"/><circle cx="183.9" cy="123.0" r="2.1"/><circle cx="193.4" cy="91.0" r="2.1"/><circle cx="190.9" cy="104.9" r="2.1"/><circle cx="191.3" cy="91.8" r="2.1"/><circle cx="182.6" cy="112.6" r="2.1"/><circle cx="182.4" cy="104.8" r="2.1"/><circle cx="189.9" cy="88.5" r="2.1"/><circle cx="191.0" cy="124.4" r="2.1"/><circle cx="182.5" cy="112.8" r="2.1"/><circle cx="182.3" cy="103.8" r="2.1"/><circle cx="182.8" cy="87.3" r="2.1"/><circle cx="181.3" cy="113.8" r="2.1"/><circle cx="185.3" cy="88.6" r="2.1"/><circle cx="186.4" cy="114.9" r="2.1"/><circle cx="188.2" cy="112.2" r="2.1"/><circle cx="180.2" cy="100.8" r="2.1"/><circle cx="182.1" cy="96.3" r="2.1"/><circle cx="181.0" cy="86.0" r="2.1"/><circle cx="183.2" cy="86.0" r="2.1"/><circle cx="182.0" cy="114.7" r="2.1"/><circle cx="192.5" cy="92.1" r="2.1"/><circle cx="184.6" cy="97.1" r="2.1"/><circle cx="181.3" cy="108.5" r="2.1"/><circle cx="188.7" cy="90.7" r="2.1"/><circle cx="193.0" cy="85.2" r="2.1"/><circle cx="190.5" cy="104.2" r="2.1"/><circle cx="188.5" cy="84.3" r="2.1"/><circle cx="184.7" cy="120.2" r="2.1"/><circle cx="185.0" cy="118.5" r="2.1"/><circle cx="183.6" cy="91.3" r="2.1"/><circle cx="190.7" cy="112.1" r="2.1"/><circle cx="190.6" cy="99.4" r="2.1"/><circle cx="186.3" cy="103.4" r="2.1"/><circle cx="191.5" cy="119.4" r="2.1"/><circle cx="188.5" cy="91.7" r="2.1"/><circle cx="189.0" cy="92.3" r="2.1"/><circle cx="183.2" cy="119.4" r="2.1"/><circle cx="182.8" cy="114.2" r="2.1"/><circle cx="182.6" cy="89.6" r="2.1"/><circle cx="192.2" cy="84.5" r="2.1"/><circle cx="190.6" cy="86.4" r="2.1"/><circle cx="192.0" cy="103.2" r="2.1"/><circle cx="190.9" cy="109.3" r="2.1"/><circle cx="190.7" cy="105.8" r="2.1"/><circle cx="185.5" cy="118.0" r="2.1"/><circle cx="190.1" cy="103.5" r="2.1"/><circle cx="181.7" cy="115.5" r="2.1"/><circle cx="188.6" cy="118.7" r="2.1"/><circle cx="180.0" cy="108.7" r="2.1"/><circle cx="192.9" cy="123.1" r="2.1"/><circle cx="191.7" cy="104.6" r="2.1"/><circle cx="181.7" cy="94.4" r="2.1"/><circle cx="190.2" cy="96.4" r="2.1"/><circle cx="190.9" cy="81.7" r="2.1"/><circle cx="180.0" cy="85.7" r="2.1"/><circle cx="187.3" cy="97.2" r="2.1"/><circle cx="185.3" cy="85.2" r="2.1"/><circle cx="188.1" cy="105.8" r="2.1"/><circle cx="191.8" cy="89.7" r="2.1"/><circle cx="189.5" cy="113.1" r="2.1"/><circle cx="182.4" cy="102.1" r="2.1"/><circle cx="187.2" cy="81.4" r="2.1"/><circle cx="187.3" cy="98.8" r="2.1"/><circle cx="179.6" cy="103.0" r="2.1"/><circle cx="181.2" cy="90.2" r="2.1"/><circle cx="184.4" cy="111.8" r="2.1"/><circle cx="181.9" cy="88.2" r="2.1"/><circle cx="182.7" cy="125.2" r="2.1"/><circle cx="188.9" cy="115.2" r="2.1"/><circle cx="192.9" cy="118.0" r="2.1"/><circle cx="185.8" cy="114.3" r="2.1"/><circle cx="188.4" cy="83.0" r="2.1"/><circle cx="190.1" cy="125.0" r="2.1"/><circle cx="188.8" cy="112.4" r="2.1"/><circle cx="188.6" cy="99.9" r="2.1"/><circle cx="179.4" cy="94.0" r="2.1"/><circle cx="191.6" cy="90.8" r="2.1"/><circle cx="181.7" cy="108.6" r="2.1"/><circle cx="181.9" cy="116.0" r="2.1"/><circle cx="186.5" cy="87.2" r="2.1"/><circle cx="187.6" cy="120.5" r="2.1"/><circle cx="190.0" cy="123.1" r="2.1"/><circle cx="183.5" cy="115.5" r="2.1"/><circle cx="192.6" cy="103.6" r="2.1"/><circle cx="188.2" cy="83.2" r="2.1"/><circle cx="191.2" cy="92.9" r="2.1"/><circle cx="186.1" cy="100.4" r="2.1"/><circle cx="180.4" cy="102.3" r="2.1"/><circle cx="179.6" cy="94.5" r="2.1"/><circle cx="188.4" cy="97.5" r="2.1"/><circle cx="185.4" cy="110.7" r="2.1"/><circle cx="185.6" cy="121.8" r="2.1"/><circle cx="184.0" cy="116.9" r="2.1"/><circle cx="181.9" cy="90.4" r="2.1"/><circle cx="186.0" cy="97.2" r="2.1"/><circle cx="183.0" cy="89.8" r="2.1"/><circle cx="191.9" cy="124.0" r="2.1"/><circle cx="181.9" cy="85.0" r="2.1"/><circle cx="192.9" cy="108.6" r="2.1"/><circle cx="191.4" cy="83.9" r="2.1"/><circle cx="184.8" cy="99.0" r="2.1"/><circle cx="190.2" cy="101.1" r="2.1"/><circle cx="187.5" cy="88.8" r="2.1"/><circle cx="185.9" cy="97.6" r="2.1"/><circle cx="190.8" cy="95.3" r="2.1"/><circle cx="191.0" cy="118.9" r="2.1"/><circle cx="182.2" cy="98.5" r="2.1"/><circle cx="192.1" cy="109.8" r="2.1"/><circle cx="179.8" cy="122.6" r="2.1"/><circle cx="179.5" cy="120.0" r="2.1"/><circle cx="186.2" cy="104.2" r="2.1"/><circle cx="183.6" cy="114.1" r="2.1"/><circle cx="185.3" cy="91.2" r="2.1"/><circle cx="186.1" cy="120.5" r="2.1"/><circle cx="186.0" cy="125.4" r="2.1"/><circle cx="192.1" cy="80.7" r="2.1"/><circle cx="192.3" cy="111.8" r="2.1"/><circle cx="184.2" cy="102.8" r="2.1"/><circle cx="183.4" cy="116.5" r="2.1"/><circle cx="188.6" cy="116.5" r="2.1"/><circle cx="182.2" cy="107.7" r="2.1"/><circle cx="185.0" cy="90.1" r="2.1"/><circle cx="189.5" cy="124.3" r="2.1"/><circle cx="179.5" cy="87.9" r="2.1"/><circle cx="190.2" cy="81.0" r="2.1"/><circle cx="189.7" cy="100.6" r="2.1"/><circle cx="184.8" cy="109.7" r="2.1"/><circle cx="182.9" cy="115.4" r="2.1"/><circle cx="187.0" cy="117.7" r="2.1"/><circle cx="183.5" cy="111.3" r="2.1"/><circle cx="190.9" cy="87.3" r="2.1"/><circle cx="187.7" cy="125.9" r="2.1"/><circle cx="183.7" cy="90.3" r="2.1"/><circle cx="190.7" cy="95.7" r="2.1"/><circle cx="187.9" cy="125.2" r="2.1"/><circle cx="181.2" cy="122.9" r="2.1"/><circle cx="185.2" cy="92.6" r="2.1"/><circle cx="186.3" cy="95.4" r="2.1"/><circle cx="192.6" cy="111.8" r="2.1"/><circle cx="183.9" cy="86.8" r="2.1"/><circle cx="185.7" cy="116.5" r="2.1"/><circle cx="193.1" cy="106.6" r="2.1"/><circle cx="185.4" cy="120.8" r="2.1"/><circle cx="191.0" cy="96.7" r="2.1"/><circle cx="180.8" cy="122.1" r="2.1"/><circle cx="184.9" cy="117.9" r="2.1"/><circle cx="182.0" cy="91.2" r="2.1"/><circle cx="191.8" cy="103.3" r="2.1"/><circle cx="187.1" cy="95.9" r="2.1"/><circle cx="182.5" cy="92.6" r="2.1"/><circle cx="180.7" cy="98.4" r="2.1"/><circle cx="185.3" cy="117.0" r="2.1"/><circle cx="180.7" cy="94.3" r="2.1"/><circle cx="186.2" cy="120.8" r="2.1"/><circle cx="189.6" cy="113.8" r="2.1"/><circle cx="183.7" cy="105.6" r="2.1"/><circle cx="181.7" cy="120.8" r="2.1"/><circle cx="184.5" cy="121.2" r="2.1"/><circle cx="181.7" cy="96.4" r="2.1"/><circle cx="191.2" cy="92.3" r="2.1"/><circle cx="180.7" cy="109.2" r="2.1"/><circle cx="189.8" cy="108.3" r="2.1"/><circle cx="184.1" cy="116.6" r="2.1"/><circle cx="189.6" cy="102.3" r="2.1"/><circle cx="190.2" cy="99.6" r="2.1"/><circle cx="181.3" cy="83.6" r="2.1"/><circle cx="190.0" cy="124.2" r="2.1"/><circle cx="192.6" cy="84.7" r="2.1"/><circle cx="187.3" cy="81.0" r="2.1"/><circle cx="188.4" cy="110.3" r="2.1"/><circle cx="183.9" cy="93.0" r="2.1"/><circle cx="181.8" cy="88.5" r="2.1"/><circle cx="189.8" cy="96.4" r="2.1"/><circle cx="190.9" cy="112.9" r="2.1"/><circle cx="182.3" cy="97.7" r="2.1"/><circle cx="181.0" cy="86.1" r="2.1"/><circle cx="184.3" cy="121.2" r="2.1"/><circle cx="188.2" cy="104.2" r="2.1"/><circle cx="184.5" cy="125.0" r="2.1"/><circle cx="192.9" cy="87.6" r="2.1"/><circle cx="190.5" cy="90.6" r="2.1"/><circle cx="192.2" cy="123.9" r="2.1"/><circle cx="187.8" cy="92.1" r="2.1"/><circle cx="190.0" cy="94.6" r="2.1"/><circle cx="192.7" cy="120.3" r="2.1"/><circle cx="179.9" cy="102.1" r="2.1"/><circle cx="187.4" cy="94.7" r="2.1"/><circle cx="182.0" cy="110.8" r="2.1"/><circle cx="190.5" cy="103.1" r="2.1"/><circle cx="182.7" cy="81.6" r="2.1"/><circle cx="189.8" cy="97.1" r="2.1"/><circle cx="184.1" cy="103.2" r="2.1"/><circle cx="188.5" cy="123.0" r="2.1"/><circle cx="188.9" cy="120.5" r="2.1"/><circle cx="192.1" cy="87.3" r="2.1"/><circle cx="191.6" cy="92.2" r="2.1"/><circle cx="185.5" cy="88.0" r="2.1"/><circle cx="189.0" cy="99.7" r="2.1"/><circle cx="182.0" cy="99.8" r="2.1"/><circle cx="180.8" cy="101.9" r="2.1"/><circle cx="189.4" cy="92.6" r="2.1"/><circle cx="192.1" cy="111.0" r="2.1"/><circle cx="189.9" cy="103.4" r="2.1"/><circle cx="186.6" cy="104.7" r="2.1"/><circle cx="188.2" cy="95.9" r="2.1"/><circle cx="189.6" cy="116.2" r="2.1"/><circle cx="187.4" cy="124.9" r="2.1"/><circle cx="184.5" cy="122.0" r="2.1"/><circle cx="191.3" cy="117.9" r="2.1"/><circle cx="184.6" cy="87.0" r="2.1"/><circle cx="192.1" cy="93.4" r="2.1"/><circle cx="190.6" cy="91.9" r="2.1"/><circle cx="190.5" cy="105.8" r="2.1"/><circle cx="191.1" cy="121.4" r="2.1"/><circle cx="193.2" cy="104.9" r="2.1"/><circle cx="193.3" cy="86.8" r="2.1"/><circle cx="186.4" cy="102.9" r="2.1"/><circle cx="184.7" cy="97.3" r="2.1"/><circle cx="189.7" cy="109.0" r="2.1"/><circle cx="193.0" cy="119.2" r="2.1"/><circle cx="188.2" cy="97.5" r="2.1"/><circle cx="179.8" cy="104.0" r="2.1"/><circle cx="179.9" cy="110.3" r="2.1"/><circle cx="185.9" cy="114.3" r="2.1"/><circle cx="190.4" cy="94.4" r="2.1"/><circle cx="191.8" cy="111.6" r="2.1"/><circle cx="184.7" cy="99.8" r="2.1"/><circle cx="186.6" cy="114.2" r="2.1"/><circle cx="186.6" cy="91.8" r="2.1"/><circle cx="180.7" cy="109.0" r="2.1"/><circle cx="179.4" cy="104.3" r="2.1"/><circle cx="186.7" cy="83.8" r="2.1"/><circle cx="186.5" cy="93.3" r="2.1"/><circle cx="191.5" cy="92.5" r="2.1"/><circle cx="181.9" cy="110.6" r="2.1"/><circle cx="191.3" cy="87.8" r="2.1"/><circle cx="183.2" cy="108.5" r="2.1"/><circle cx="186.9" cy="81.1" r="2.1"/><circle cx="189.3" cy="85.3" r="2.1"/><circle cx="181.4" cy="96.0" r="2.1"/><circle cx="192.6" cy="88.2" r="2.1"/><circle cx="192.8" cy="101.3" r="2.1"/><circle cx="193.0" cy="92.7" r="2.1"/><circle cx="179.4" cy="120.4" r="2.1"/><circle cx="188.4" cy="81.0" r="2.1"/><circle cx="188.8" cy="89.6" r="2.1"/><circle cx="191.7" cy="119.6" r="2.1"/><circle cx="182.2" cy="115.0" r="2.1"/><circle cx="181.1" cy="99.9" r="2.1"/><circle cx="190.7" cy="91.3" r="2.1"/><circle cx="183.1" cy="119.3" r="2.1"/><circle cx="180.3" cy="82.3" r="2.1"/><circle cx="180.7" cy="110.3" r="2.1"/><circle cx="188.4" cy="80.8" r="2.1"/><circle cx="186.9" cy="91.8" r="2.1"/><circle cx="189.9" cy="103.9" r="2.1"/><circle cx="190.7" cy="109.5" r="2.1"/><circle cx="179.4" cy="121.6" r="2.1"/><circle cx="192.5" cy="122.0" r="2.1"/><circle cx="191.7" cy="97.4" r="2.1"/><circle cx="192.5" cy="90.8" r="2.1"/><circle cx="190.2" cy="84.7" r="2.1"/><circle cx="184.8" cy="109.4" r="2.1"/><circle cx="182.9" cy="83.4" r="2.1"/><circle cx="192.2" cy="112.5" r="2.1"/><circle cx="185.3" cy="83.3" r="2.1"/><circle cx="186.2" cy="84.2" r="2.1"/><circle cx="189.2" cy="119.0" r="2.1"/><circle cx="189.0" cy="86.9" r="2.1"/><circle cx="189.1" cy="94.0" r="2.1"/><circle cx="188.1" cy="94.1" r="2.1"/><circle cx="186.5" cy="87.8" r="2.1"/><circle cx="190.1" cy="101.6" r="2.1"/><circle cx="184.9" cy="103.0" r="2.1"/><circle cx="183.1" cy="109.3" r="2.1"/><circle cx="192.1" cy="86.7" r="2.1"/><circle cx="191.2" cy="85.0" r="2.1"/><circle cx="189.5" cy="118.7" r="2.1"/><circle cx="181.8" cy="90.9" r="2.1"/><circle cx="180.0" cy="113.5" r="2.1"/><circle cx="192.3" cy="117.7" r="2.1"/><circle cx="192.6" cy="117.1" r="2.1"/><circle cx="183.2" cy="99.9" r="2.1"/><circle cx="188.2" cy="113.3" r="2.1"/><circle cx="179.7" cy="115.0" r="2.1"/><circle cx="184.9" cy="121.6" r="2.1"/><circle cx="189.3" cy="111.3" r="2.1"/><circle cx="184.5" cy="90.8" r="2.1"/><circle cx="190.7" cy="125.1" r="2.1"/><circle cx="192.2" cy="104.1" r="2.1"/><circle cx="181.3" cy="98.6" r="2.1"/><circle cx="189.0" cy="123.8" r="2.1"/><circle cx="184.7" cy="112.7" r="2.1"/><circle cx="181.8" cy="84.8" r="2.1"/><circle cx="184.3" cy="80.8" r="2.1"/><circle cx="186.1" cy="87.3" r="2.1"/><circle cx="191.9" cy="118.3" r="2.1"/><circle cx="190.1" cy="91.3" r="2.1"/><circle cx="179.5" cy="105.5" r="2.1"/><circle cx="180.2" cy="118.3" r="2.1"/><circle cx="193.3" cy="104.2" r="2.1"/><circle cx="187.2" cy="84.0" r="2.1"/><circle cx="187.9" cy="86.1" r="2.1"/><circle cx="184.3" cy="108.2" r="2.1"/><circle cx="191.0" cy="123.2" r="2.1"/><circle cx="187.2" cy="85.1" r="2.1"/><circle cx="187.7" cy="81.2" r="2.1"/><circle cx="182.9" cy="102.8" r="2.1"/><circle cx="190.3" cy="115.8" r="2.1"/><circle cx="182.4" cy="101.3" r="2.1"/><circle cx="181.3" cy="94.4" r="2.1"/><circle cx="187.8" cy="104.1" r="2.1"/><circle cx="191.1" cy="110.0" r="2.1"/><circle cx="183.5" cy="114.8" r="2.1"/><circle cx="183.6" cy="112.5" r="2.1"/><circle cx="181.5" cy="123.8" r="2.1"/><circle cx="187.8" cy="114.4" r="2.1"/><circle cx="190.2" cy="82.7" r="2.1"/><circle cx="181.2" cy="125.7" r="2.1"/><circle cx="186.9" cy="92.9" r="2.1"/><circle cx="187.0" cy="90.1" r="2.1"/><circle cx="180.9" cy="107.6" r="2.1"/><circle cx="186.8" cy="99.0" r="2.1"/><circle cx="183.2" cy="116.0" r="2.1"/><circle cx="182.2" cy="95.6" r="2.1"/><circle cx="193.2" cy="93.8" r="2.1"/><circle cx="180.7" cy="92.6" r="2.1"/><circle cx="184.2" cy="103.7" r="2.1"/><circle cx="188.1" cy="81.9" r="2.1"/><circle cx="185.1" cy="86.6" r="2.1"/><circle cx="179.7" cy="100.0" r="2.1"/><circle cx="191.5" cy="95.0" r="2.1"/><circle cx="182.7" cy="113.5" r="2.1"/><circle cx="185.2" cy="83.1" r="2.1"/><circle cx="192.1" cy="96.7" r="2.1"/><circle cx="193.0" cy="85.3" r="2.1"/><circle cx="192.2" cy="112.9" r="2.1"/><circle cx="185.2" cy="81.3" r="2.1"/><circle cx="189.8" cy="121.2" r="2.1"/><circle cx="191.3" cy="101.9" r="2.1"/><circle cx="182.2" cy="121.0" r="2.1"/><circle cx="193.0" cy="117.4" r="2.1"/><circle cx="180.8" cy="91.3" r="2.1"/><circle cx="188.6" cy="123.0" r="2.1"/><circle cx="182.7" cy="108.6" r="2.1"/><circle cx="182.4" cy="117.3" r="2.1"/><circle cx="181.3" cy="87.3" r="2.1"/><circle cx="192.6" cy="122.3" r="2.1"/><circle cx="181.2" cy="110.7" r="2.1"/><circle cx="192.2" cy="87.1" r="2.1"/><circle cx="181.7" cy="94.8" r="2.1"/><circle cx="184.0" cy="94.0" r="2.1"/><circle cx="182.4" cy="80.9" r="2.1"/><circle cx="193.2" cy="125.0" r="2.1"/><circle cx="180.7" cy="95.8" r="2.1"/><circle cx="191.5" cy="92.1" r="2.1"/><circle cx="183.6" cy="92.0" r="2.1"/><circle cx="192.7" cy="93.5" r="2.1"/><circle cx="189.9" cy="122.8" r="2.1"/><circle cx="183.1" cy="122.2" r="2.1"/><circle cx="186.5" cy="90.9" r="2.1"/><circle cx="181.7" cy="98.2" r="2.1"/><circle cx="185.1" cy="114.1" r="2.1"/><circle cx="179.8" cy="125.6" r="2.1"/><circle cx="188.9" cy="101.8" r="2.1"/><circle cx="187.7" cy="121.9" r="2.1"/><circle cx="183.2" cy="92.0" r="2.1"/><circle cx="179.6" cy="110.5" r="2.1"/><circle cx="192.5" cy="89.3" r="2.1"/><circle cx="181.1" cy="121.7" r="2.1"/><circle cx="184.0" cy="103.6" r="2.1"/><circle cx="179.8" cy="121.5" r="2.1"/><circle cx="184.8" cy="90.5" r="2.1"/><circle cx="185.0" cy="100.6" r="2.1"/><circle cx="186.9" cy="115.4" r="2.1"/><circle cx="183.9" cy="82.2" r="2.1"/><circle cx="182.9" cy="95.0" r="2.1"/><circle cx="190.4" cy="110.7" r="2.1"/><circle cx="183.3" cy="87.1" r="2.1"/><circle cx="184.0" cy="108.7" r="2.1"/><circle cx="186.3" cy="83.1" r="2.1"/><circle cx="183.2" cy="112.5" r="2.1"/><circle cx="189.6" cy="81.2" r="2.1"/><circle cx="180.6" cy="123.2" r="2.1"/><circle cx="183.9" cy="92.6" r="2.1"/><circle cx="185.3" cy="112.8" r="2.1"/><circle cx="183.0" cy="106.7" r="2.1"/><circle cx="191.2" cy="97.1" r="2.1"/><circle cx="184.4" cy="124.0" r="2.1"/><circle cx="185.3" cy="115.9" r="2.1"/><circle cx="186.0" cy="121.3" r="2.1"/><circle cx="191.0" cy="92.4" r="2.1"/><circle cx="182.5" cy="116.0" r="2.1"/><circle cx="191.0" cy="103.4" r="2.1"/><circle cx="192.7" cy="111.1" r="2.1"/><circle cx="183.1" cy="115.3" r="2.1"/><circle cx="181.8" cy="83.5" r="2.1"/><circle cx="190.4" cy="102.9" r="2.1"/><circle cx="183.8" cy="96.4" r="2.1"/><circle cx="182.6" cy="94.0" r="2.1"/><circle cx="180.5" cy="88.7" r="2.1"/><circle cx="188.0" cy="114.1" r="2.1"/><circle cx="192.5" cy="122.5" r="2.1"/><circle cx="191.7" cy="104.8" r="2.1"/><circle cx="187.6" cy="118.3" r="2.1"/><circle cx="185.5" cy="125.1" r="2.1"/><circle cx="193.1" cy="84.2" r="2.1"/><circle cx="188.6" cy="97.5" r="2.1"/><circle cx="192.8" cy="107.2" r="2.1"/><circle cx="189.0" cy="119.8" r="2.1"/><circle cx="189.2" cy="91.4" r="2.1"/><circle cx="189.2" cy="101.8" r="2.1"/><circle cx="181.2" cy="118.1" r="2.1"/><circle cx="182.9" cy="81.3" r="2.1"/><circle cx="180.3" cy="82.8" r="2.1"/><circle cx="192.5" cy="83.8" r="2.1"/><circle cx="193.3" cy="88.4" r="2.1"/><circle cx="187.9" cy="101.8" r="2.1"/><circle cx="181.6" cy="112.4" r="2.1"/><circle cx="181.1" cy="96.4" r="2.1"/><circle cx="185.6" cy="119.2" r="2.1"/><circle cx="184.9" cy="98.0" r="2.1"/><circle cx="182.1" cy="123.0" r="2.1"/><circle cx="180.6" cy="125.4" r="2.1"/><circle cx="188.5" cy="93.5" r="2.1"/><circle cx="190.5" cy="110.4" r="2.1"/><circle cx="180.3" cy="94.3" r="2.1"/><circle cx="183.7" cy="90.5" r="2.1"/><circle cx="183.6" cy="88.0" r="2.1"/><circle cx="187.0" cy="98.0" r="2.1"/><circle cx="187.9" cy="87.5" r="2.1"/><circle cx="185.1" cy="96.1" r="2.1"/><circle cx="191.5" cy="83.8" r="2.1"/><circle cx="184.9" cy="85.2" r="2.1"/><circle cx="183.6" cy="124.1" r="2.1"/><circle cx="190.1" cy="113.9" r="2.1"/><circle cx="191.2" cy="108.3" r="2.1"/><circle cx="191.7" cy="114.6" r="2.1"/><circle cx="181.8" cy="118.0" r="2.1"/><circle cx="182.2" cy="86.3" r="2.1"/><circle cx="185.9" cy="124.9" r="2.1"/><circle cx="192.9" cy="117.8" r="2.1"/><circle cx="188.1" cy="91.4" r="2.1"/><circle cx="188.1" cy="115.9" r="2.1"/><circle cx="184.0" cy="114.3" r="2.1"/><circle cx="193.3" cy="82.0" r="2.1"/><circle cx="182.0" cy="91.3" r="2.1"/><circle cx="187.2" cy="105.6" r="2.1"/><circle cx="188.8" cy="119.8" r="2.1"/><circle cx="190.7" cy="113.8" r="2.1"/><circle cx="190.8" cy="81.4" r="2.1"/><circle cx="184.8" cy="90.0" r="2.1"/><circle cx="183.2" cy="122.9" r="2.1"/><circle cx="193.1" cy="93.9" r="2.1"/><circle cx="187.1" cy="108.9" r="2.1"/><circle cx="183.3" cy="93.3" r="2.1"/><circle cx="181.3" cy="112.6" r="2.1"/><circle cx="190.6" cy="120.1" r="2.1"/><circle cx="191.3" cy="125.1" r="2.1"/><circle cx="187.4" cy="112.6" r="2.1"/><circle cx="184.8" cy="86.9" r="2.1"/><circle cx="188.6" cy="85.5" r="2.1"/><circle cx="193.1" cy="94.9" r="2.1"/><circle cx="187.5" cy="92.0" r="2.1"/><circle cx="190.4" cy="117.2" r="2.1"/><circle cx="191.7" cy="109.9" r="2.1"/><circle cx="190.0" cy="85.1" r="2.1"/><circle cx="186.2" cy="81.2" r="2.1"/><circle cx="181.9" cy="105.9" r="2.1"/><circle cx="189.2" cy="90.7" r="2.1"/><circle cx="191.0" cy="83.6" r="2.1"/><circle cx="192.9" cy="80.7" r="2.1"/><circle cx="181.5" cy="112.6" r="2.1"/><circle cx="181.0" cy="96.3" r="2.1"/><circle cx="188.3" cy="108.3" r="2.1"/><circle cx="191.0" cy="104.9" r="2.1"/><circle cx="180.5" cy="105.0" r="2.1"/><circle cx="188.0" cy="113.4" r="2.1"/><circle cx="183.1" cy="125.2" r="2.1"/><circle cx="193.4" cy="91.2" r="2.1"/><circle cx="184.5" cy="94.4" r="2.1"/><circle cx="180.5" cy="87.8" r="2.1"/><circle cx="190.4" cy="119.1" r="2.1"/><circle cx="183.6" cy="115.3" r="2.1"/><circle cx="185.3" cy="98.9" r="2.1"/><circle cx="181.2" cy="83.4" r="2.1"/><circle cx="184.0" cy="104.6" r="2.1"/><circle cx="181.3" cy="116.9" r="2.1"/><circle cx="183.0" cy="99.0" r="2.1"/><circle cx="187.5" cy="82.5" r="2.1"/><circle cx="183.6" cy="86.5" r="2.1"/><circle cx="188.7" cy="85.1" r="2.1"/><circle cx="192.0" cy="107.4" r="2.1"/><circle cx="187.5" cy="114.1" r="2.1"/><circle cx="179.8" cy="86.4" r="2.1"/><circle cx="192.8" cy="90.2" r="2.1"/><circle cx="182.2" cy="87.3" r="2.1"/><circle cx="184.2" cy="108.2" r="2.1"/><circle cx="186.8" cy="113.0" r="2.1"/><circle cx="188.1" cy="115.1" r="2.1"/><circle cx="184.2" cy="86.4" r="2.1"/><circle cx="185.6" cy="84.2" r="2.1"/><circle cx="188.2" cy="109.3" r="2.1"/><circle cx="185.8" cy="86.2" r="2.1"/><circle cx="183.4" cy="108.7" r="2.1"/><circle cx="185.2" cy="105.7" r="2.1"/><circle cx="184.8" cy="100.3" r="2.1"/><circle cx="183.5" cy="116.0" r="2.1"/><circle cx="187.8" cy="113.9" r="2.1"/><circle cx="186.6" cy="113.9" r="2.1"/><circle cx="185.2" cy="114.2" r="2.1"/><circle cx="189.3" cy="102.6" r="2.1"/><circle cx="190.8" cy="121.5" r="2.1"/><circle cx="188.5" cy="90.5" r="2.1"/><circle cx="184.2" cy="118.1" r="2.1"/><circle cx="192.5" cy="105.8" r="2.1"/><circle cx="180.9" cy="96.8" r="2.1"/><circle cx="190.7" cy="119.8" r="2.1"/><circle cx="185.3" cy="107.4" r="2.1"/><circle cx="185.0" cy="100.4" r="2.1"/><circle cx="191.2" cy="101.0" r="2.1"/><circle cx="188.6" cy="85.4" r="2.1"/><circle cx="193.0" cy="90.3" r="2.1"/><circle cx="191.7" cy="120.5" r="2.1"/><circle cx="181.0" cy="88.1" r="2.1"/><circle cx="186.4" cy="101.0" r="2.1"/><circle cx="190.1" cy="95.2" r="2.1"/><circle cx="180.6" cy="118.8" r="2.1"/><circle cx="187.0" cy="104.6" r="2.1"/><circle cx="193.3" cy="94.2" r="2.1"/><circle cx="182.7" cy="89.7" r="2.1"/><circle cx="181.0" cy="89.4" r="2.1"/><circle cx="183.5" cy="116.2" r="2.1"/><circle cx="184.2" cy="88.1" r="2.1"/><circle cx="183.4" cy="100.2" r="2.1"/><circle cx="185.4" cy="95.6" r="2.1"/><circle cx="191.1" cy="87.3" r="2.1"/><circle cx="186.6" cy="107.6" r="2.1"/><circle cx="187.6" cy="84.2" r="2.1"/><circle cx="180.9" cy="85.9" r="2.1"/><circle cx="180.3" cy="89.3" r="2.1"/><circle cx="192.7" cy="108.7" r="2.1"/><circle cx="184.3" cy="102.0" r="2.1"/><circle cx="192.7" cy="118.2" r="2.1"/><circle cx="184.1" cy="91.5" r="2.1"/><circle cx="188.4" cy="85.5" r="2.1"/><circle cx="188.7" cy="118.7" r="2.1"/><circle cx="180.7" cy="92.1" r="2.1"/><circle cx="180.4" cy="94.4" r="2.1"/><circle cx="185.6" cy="124.4" r="2.1"/><circle cx="181.2" cy="84.3" r="2.1"/><circle cx="183.5" cy="104.2" r="2.1"/><circle cx="182.1" cy="113.8" r="2.1"/><circle cx="183.8" cy="124.7" r="2.1"/><circle cx="185.8" cy="90.5" r="2.1"/><circle cx="183.8" cy="110.7" r="2.1"/><circle cx="184.1" cy="102.7" r="2.1"/><circle cx="186.2" cy="117.2" r="2.1"/><circle cx="189.0" cy="98.4" r="2.1"/><circle cx="180.0" cy="108.0" r="2.1"/><circle cx="193.4" cy="89.3" r="2.1"/><circle cx="185.4" cy="95.7" r="2.1"/><circle cx="192.3" cy="93.2" r="2.1"/><circle cx="179.5" cy="114.6" r="2.1"/><circle cx="180.2" cy="123.1" r="2.1"/><circle cx="180.8" cy="86.0" r="2.1"/><circle cx="192.2" cy="83.5" r="2.1"/><circle cx="185.2" cy="96.8" r="2.1"/><circle cx="191.2" cy="84.1" r="2.1"/><circle cx="189.1" cy="93.9" r="2.1"/><circle cx="180.6" cy="98.5" r="2.1"/><circle cx="184.5" cy="107.0" r="2.1"/><circle cx="184.0" cy="109.9" r="2.1"/><circle cx="185.7" cy="103.8" r="2.1"/><circle cx="190.0" cy="115.9" r="2.1"/><circle cx="180.6" cy="106.6" r="2.1"/><circle cx="192.4" cy="102.9" r="2.1"/><circle cx="186.1" cy="124.6" r="2.1"/><circle cx="184.5" cy="108.1" r="2.1"/><circle cx="189.2" cy="113.1" r="2.1"/><circle cx="183.3" cy="97.2" r="2.1"/><circle cx="189.4" cy="89.1" r="2.1"/><circle cx="185.2" cy="98.1" r="2.1"/><circle cx="186.1" cy="95.8" r="2.1"/><circle cx="182.0" cy="98.1" r="2.1"/><circle cx="182.2" cy="114.4" r="2.1"/><circle cx="191.5" cy="108.9" r="2.1"/><circle cx="187.5" cy="87.6" r="2.1"/><circle cx="185.3" cy="83.0" r="2.1"/><circle cx="190.2" cy="117.8" r="2.1"/><circle cx="192.2" cy="125.6" r="2.1"/><circle cx="181.6" cy="82.3" r="2.1"/><circle cx="193.4" cy="86.9" r="2.1"/><circle cx="179.6" cy="98.4" r="2.1"/><circle cx="188.0" cy="88.9" r="2.1"/><circle cx="183.1" cy="99.0" r="2.1"/><circle cx="182.9" cy="84.9" r="2.1"/><circle cx="186.3" cy="115.0" r="2.1"/><circle cx="187.9" cy="105.8" r="2.1"/><circle cx="185.5" cy="95.5" r="2.1"/><circle cx="189.4" cy="116.2" r="2.1"/><circle cx="192.7" cy="93.5" r="2.1"/><circle cx="181.8" cy="114.1" r="2.1"/><circle cx="182.7" cy="93.7" r="2.1"/><circle cx="187.9" cy="89.4" r="2.1"/><circle cx="185.1" cy="106.7" r="2.1"/><circle cx="183.8" cy="81.0" r="2.1"/><circle cx="186.5" cy="97.3" r="2.1"/><circle cx="189.2" cy="91.6" r="2.1"/><circle cx="192.1" cy="125.1" r="2.1"/><circle cx="192.6" cy="120.9" r="2.1"/><circle cx="190.9" cy="93.7" r="2.1"/><circle cx="184.3" cy="83.1" r="2.1"/><circle cx="191.8" cy="97.4" r="2.1"/><circle cx="189.3" cy="84.5" r="2.1"/><circle cx="181.8" cy="123.3" r="2.1"/><circle cx="192.7" cy="85.5" r="2.1"/><circle cx="182.9" cy="86.1" r="2.1"/><circle cx="188.9" cy="97.4" r="2.1"/><circle cx="189.1" cy="106.5" r="2.1"/><circle cx="192.1" cy="94.0" r="2.1"/><circle cx="188.7" cy="114.9" r="2.1"/><circle cx="193.2" cy="95.7" r="2.1"/><circle cx="180.2" cy="94.4" r="2.1"/><circle cx="179.9" cy="101.5" r="2.1"/><circle cx="182.1" cy="114.2" r="2.1"/><circle cx="187.5" cy="125.9" r="2.1"/><circle cx="185.3" cy="117.1" r="2.1"/><circle cx="180.6" cy="88.1" r="2.1"/><circle cx="182.2" cy="116.4" r="2.1"/><circle cx="187.5" cy="122.7" r="2.1"/><circle cx="185.0" cy="114.8" r="2.1"/><circle cx="190.1" cy="102.4" r="2.1"/><circle cx="185.9" cy="99.4" r="2.1"/><circle cx="191.7" cy="86.1" r="2.1"/><circle cx="190.0" cy="87.1" r="2.1"/><circle cx="186.3" cy="82.0" r="2.1"/><circle cx="184.4" cy="85.8" r="2.1"/><circle cx="182.4" cy="105.5" r="2.1"/><circle cx="183.5" cy="119.6" r="2.1"/><circle cx="184.4" cy="82.5" r="2.1"/><circle cx="184.5" cy="115.6" r="2.1"/><circle cx="181.9" cy="97.7" r="2.1"/><circle cx="186.0" cy="114.0" r="2.1"/><circle cx="181.0" cy="88.9" r="2.1"/><circle cx="191.6" cy="116.9" r="2.1"/><circle cx="187.1" cy="106.9" r="2.1"/><circle cx="180.7" cy="116.0" r="2.1"/><circle cx="184.0" cy="86.9" r="2.1"/><circle cx="183.0" cy="97.9" r="2.1"/><circle cx="181.6" cy="97.3" r="2.1"/><circle cx="186.1" cy="111.7" r="2.1"/><circle cx="182.0" cy="118.0" r="2.1"/><circle cx="181.5" cy="87.0" r="2.1"/><circle cx="189.2" cy="91.2" r="2.1"/><circle cx="185.4" cy="92.6" r="2.1"/><circle cx="188.8" cy="80.7" r="2.1"/><circle cx="186.0" cy="100.6" r="2.1"/><circle cx="186.5" cy="117.9" r="2.1"/><circle cx="183.7" cy="98.3" r="2.1"/><circle cx="185.4" cy="113.0" r="2.1"/><circle cx="186.1" cy="102.7" r="2.1"/><circle cx="184.2" cy="105.1" r="2.1"/><circle cx="191.0" cy="100.4" r="2.1"/><circle cx="182.8" cy="84.1" r="2.1"/><circle cx="182.5" cy="89.2" r="2.1"/><circle cx="184.2" cy="107.1" r="2.1"/><circle cx="190.4" cy="88.8" r="2.1"/><circle cx="191.3" cy="86.9" r="2.1"/><circle cx="187.3" cy="90.8" r="2.1"/><circle cx="184.4" cy="100.9" r="2.1"/><circle cx="188.5" cy="85.1" r="2.1"/><circle cx="191.0" cy="103.7" r="2.1"/><circle cx="182.8" cy="121.2" r="2.1"/><circle cx="188.7" cy="113.7" r="2.1"/><circle cx="189.3" cy="96.1" r="2.1"/><circle cx="184.9" cy="108.8" r="2.1"/><circle cx="181.4" cy="106.8" r="2.1"/><circle cx="187.9" cy="107.7" r="2.1"/><circle cx="182.3" cy="117.3" r="2.1"/><circle cx="184.6" cy="121.8" r="2.1"/><circle cx="187.0" cy="123.8" r="2.1"/><circle cx="192.9" cy="95.4" r="2.1"/><circle cx="181.5" cy="111.3" r="2.1"/><circle cx="180.4" cy="105.2" r="2.1"/><circle cx="186.9" cy="83.5" r="2.1"/><circle cx="192.6" cy="97.5" r="2.1"/><circle cx="180.0" cy="89.1" r="2.1"/><circle cx="188.4" cy="91.3" r="2.1"/><circle cx="179.8" cy="82.6" r="2.1"/><circle cx="187.1" cy="123.0" r="2.1"/><circle cx="181.1" cy="108.6" r="2.1"/><circle cx="188.6" cy="82.8" r="2.1"/><circle cx="184.5" cy="104.9" r="2.1"/><circle cx="188.6" cy="82.9" r="2.1"/><circle cx="183.0" cy="117.6" r="2.1"/><circle cx="180.4" cy="123.3" r="2.1"/><circle cx="181.9" cy="85.3" r="2.1"/><circle cx="183.2" cy="107.3" r="2.1"/><circle cx="181.7" cy="102.9" r="2.1"/><circle cx="182.2" cy="83.4" r="2.1"/><circle cx="187.0" cy="116.1" r="2.1"/><circle cx="185.5" cy="82.0" r="2.1"/><circle cx="191.0" cy="108.0" r="2.1"/><circle cx="186.4" cy="114.8" r="2.1"/><circle cx="187.0" cy="115.4" r="2.1"/><circle cx="189.3" cy="102.4" r="2.1"/><circle cx="191.3" cy="104.8" r="2.1"/><circle cx="187.6" cy="85.7" r="2.1"/><circle cx="179.9" cy="123.7" r="2.1"/><circle cx="185.8" cy="124.0" r="2.1"/><circle cx="179.9" cy="119.1" r="2.1"/><circle cx="187.9" cy="98.5" r="2.1"/><circle cx="180.3" cy="90.5" r="2.1"/><circle cx="187.0" cy="104.2" r="2.1"/><circle cx="181.5" cy="98.1" r="2.1"/><circle cx="191.4" cy="96.8" r="2.1"/><circle cx="180.7" cy="125.2" r="2.1"/><circle cx="188.6" cy="114.8" r="2.1"/><circle cx="189.3" cy="80.6" r="2.1"/><circle cx="183.3" cy="111.0" r="2.1"/><circle cx="187.7" cy="83.0" r="2.1"/><circle cx="184.0" cy="103.6" r="2.1"/><circle cx="183.0" cy="115.9" r="2.1"/><circle cx="183.0" cy="125.9" r="2.1"/><circle cx="179.6" cy="116.1" r="2.1"/><circle cx="188.8" cy="111.4" r="2.1"/><circle cx="180.4" cy="106.0" r="2.1"/><circle cx="182.2" cy="105.7" r="2.1"/><circle cx="180.6" cy="101.1" r="2.1"/><circle cx="190.7" cy="104.5" r="2.1"/><circle cx="186.8" cy="124.5" r="2.1"/><circle cx="185.9" cy="113.9" r="2.1"/><circle cx="187.6" cy="82.3" r="2.1"/><circle cx="190.7" cy="124.8" r="2.1"/><circle cx="188.1" cy="92.6" r="2.1"/><circle cx="186.6" cy="104.4" r="2.1"/><circle cx="183.8" cy="93.9" r="2.1"/><circle cx="186.6" cy="110.9" r="2.1"/><circle cx="193.2" cy="109.2" r="2.1"/><circle cx="187.4" cy="102.5" r="2.1"/><circle cx="186.1" cy="84.6" r="2.1"/><circle cx="191.8" cy="111.1" r="2.1"/><circle cx="180.2" cy="122.1" r="2.1"/><circle cx="180.3" cy="124.3" r="2.1"/><circle cx="190.5" cy="85.9" r="2.1"/><circle cx="192.6" cy="111.8" r="2.1"/><circle cx="180.1" cy="120.6" r="2.1"/><circle cx="179.7" cy="98.9" r="2.1"/><circle cx="179.5" cy="87.6" r="2.1"/><circle cx="187.5" cy="98.8" r="2.1"/><circle cx="181.3" cy="119.1" r="2.1"/><circle cx="187.3" cy="107.6" r="2.1"/><circle cx="188.7" cy="113.9" r="2.1"/><circle cx="179.6" cy="125.3" r="2.1"/><circle cx="191.6" cy="82.1" r="2.1"/><circle cx="182.9" cy="105.1" r="2.1"/><circle cx="187.2" cy="119.9" r="2.1"/><circle cx="184.4" cy="126.7" r="2.1"/><circle cx="184.2" cy="126.1" r="2.1"/><circle cx="185.0" cy="127.2" r="2.1"/><circle cx="179.5" cy="130.6" r="2.1"/><circle cx="185.4" cy="131.0" r="2.1"/><circle cx="183.1" cy="129.0" r="2.1"/><circle cx="184.4" cy="128.6" r="2.1"/><circle cx="181.7" cy="126.8" r="2.1"/><circle cx="184.1" cy="126.2" r="2.1"/><circle cx="189.2" cy="126.6" r="2.1"/><circle cx="193.2" cy="130.1" r="2.1"/><circle cx="182.2" cy="128.6" r="2.1"/><circle cx="191.5" cy="131.4" r="2.1"/><circle cx="188.0" cy="129.0" r="2.1"/><circle cx="180.8" cy="131.8" r="2.1"/><circle cx="179.6" cy="131.5" r="2.1"/><circle cx="191.8" cy="131.4" r="2.1"/><circle cx="182.7" cy="130.3" r="2.1"/><circle cx="180.9" cy="130.3" r="2.1"/><circle cx="188.6" cy="127.9" r="2.1"/><circle cx="189.3" cy="131.7" r="2.1"/><circle cx="191.9" cy="131.5" r="2.1"/><circle cx="186.4" cy="128.2" r="2.1"/><circle cx="183.8" cy="128.1" r="2.1"/><circle cx="183.9" cy="127.8" r="2.1"/><circle cx="182.3" cy="127.8" r="2.1"/><circle cx="188.3" cy="128.1" r="2.1"/><circle cx="192.6" cy="128.8" r="2.1"/><circle cx="180.6" cy="127.6" r="2.1"/><circle cx="184.8" cy="131.7" r="2.1"/><circle cx="184.3" cy="130.9" r="2.1"/><circle cx="180.5" cy="127.6" r="2.1"/><circle cx="187.7" cy="131.0" r="2.1"/><circle cx="193.2" cy="128.9" r="2.1"/><circle cx="183.3" cy="130.6" r="2.1"/><circle cx="189.6" cy="129.5" r="2.1"/><circle cx="192.0" cy="127.1" r="2.1"/><circle cx="183.2" cy="128.1" r="2.1"/><circle cx="192.3" cy="129.5" r="2.1"/><circle cx="189.9" cy="130.5" r="2.1"/><circle cx="188.4" cy="127.2" r="2.1"/><circle cx="182.1" cy="128.1" r="2.1"/><circle cx="183.3" cy="129.5" r="2.1"/><circle cx="180.8" cy="126.8" r="2.1"/><circle cx="191.9" cy="127.9" r="2.1"/><circle cx="190.7" cy="126.2" r="2.1"/><circle cx="180.6" cy="128.1" r="2.1"/><circle cx="186.8" cy="126.7" r="2.1"/><circle cx="182.4" cy="128.8" r="2.1"/><circle cx="190.1" cy="127.8" r="2.1"/><circle cx="187.4" cy="127.0" r="2.1"/><circle cx="192.6" cy="131.6" r="2.1"/><circle cx="189.6" cy="129.3" r="2.1"/><circle cx="180.8" cy="128.5" r="2.1"/><circle cx="184.6" cy="131.8" r="2.1"/><circle cx="187.5" cy="127.3" r="2.1"/><circle cx="192.2" cy="127.8" r="2.1"/><circle cx="184.6" cy="126.4" r="2.1"/><circle cx="182.0" cy="129.9" r="2.1"/><circle cx="183.4" cy="129.3" r="2.1"/><circle cx="182.9" cy="126.6" r="2.1"/><circle cx="181.6" cy="129.7" r="2.1"/><circle cx="184.2" cy="127.1" r="2.1"/><circle cx="182.9" cy="129.6" r="2.1"/><circle cx="186.5" cy="130.1" r="2.1"/><circle cx="191.9" cy="130.5" r="2.1"/><circle cx="192.8" cy="130.9" r="2.1"/><circle cx="181.6" cy="129.5" r="2.1"/><circle cx="187.4" cy="131.2" r="2.1"/><circle cx="188.8" cy="127.1" r="2.1"/><circle cx="181.5" cy="126.2" r="2.1"/><circle cx="186.8" cy="131.6" r="2.1"/><circle cx="182.2" cy="131.9" r="2.1"/><circle cx="184.5" cy="132.2" r="2.1"/><circle cx="183.9" cy="126.5" r="2.1"/><circle cx="190.8" cy="131.7" r="2.1"/><circle cx="182.7" cy="128.0" r="2.1"/><circle cx="187.0" cy="130.3" r="2.1"/><circle cx="187.6" cy="131.0" r="2.1"/><circle cx="184.0" cy="130.7" r="2.1"/><circle cx="192.4" cy="136.4" r="2.1"/><circle cx="184.0" cy="145.5" r="2.1"/><circle cx="184.0" cy="134.0" r="2.1"/><circle cx="189.1" cy="138.0" r="2.1"/><circle cx="186.2" cy="142.5" r="2.1"/><circle cx="189.5" cy="142.9" r="2.1"/><circle cx="181.5" cy="136.9" r="2.1"/><circle cx="181.5" cy="137.2" r="2.1"/><circle cx="189.7" cy="141.4" r="2.1"/><circle cx="184.8" cy="141.2" r="2.1"/><circle cx="191.4" cy="139.4" r="2.1"/><circle cx="182.7" cy="133.4" r="2.1"/><circle cx="182.8" cy="138.4" r="2.1"/><circle cx="191.5" cy="134.4" r="2.1"/><circle cx="184.5" cy="137.0" r="2.1"/><circle cx="180.9" cy="138.1" r="2.1"/><circle cx="182.5" cy="139.1" r="2.1"/><circle cx="190.2" cy="136.5" r="2.1"/><circle cx="183.1" cy="139.1" r="2.1"/><circle cx="187.2" cy="135.9" r="2.1"/><circle cx="191.1" cy="143.3" r="2.1"/><circle cx="187.9" cy="141.4" r="2.1"/><circle cx="189.9" cy="133.9" r="2.1"/><circle cx="193.1" cy="140.4" r="2.1"/><circle cx="183.6" cy="134.3" r="2.1"/><circle cx="191.7" cy="133.0" r="2.1"/><circle cx="187.1" cy="137.9" r="2.1"/><circle cx="182.2" cy="144.3" r="2.1"/><circle cx="181.2" cy="135.5" r="2.1"/><circle cx="184.0" cy="136.7" r="2.1"/><circle cx="181.3" cy="141.8" r="2.1"/><circle cx="190.2" cy="134.0" r="2.1"/><circle cx="187.2" cy="139.2" r="2.1"/><circle cx="180.0" cy="144.9" r="2.1"/><circle cx="191.7" cy="144.8" r="2.1"/><circle cx="187.7" cy="142.6" r="2.1"/><circle cx="185.6" cy="137.5" r="2.1"/><circle cx="181.4" cy="134.7" r="2.1"/><circle cx="186.0" cy="144.4" r="2.1"/><circle cx="192.2" cy="145.4" r="2.1"/><circle cx="187.6" cy="152.2" r="2.1"/><circle cx="185.8" cy="155.9" r="2.1"/><circle cx="187.9" cy="155.3" r="2.1"/><circle cx="187.1" cy="148.8" r="2.1"/><circle cx="188.1" cy="147.1" r="2.1"/><circle cx="182.2" cy="146.3" r="2.1"/><circle cx="181.5" cy="149.5" r="2.1"/><circle cx="179.6" cy="162.9" r="2.1"/><circle cx="191.0" cy="160.3" r="2.1"/><circle cx="179.4" cy="152.8" r="2.1"/><circle cx="183.0" cy="146.5" r="2.1"/><circle cx="187.6" cy="161.5" r="2.1"/><circle cx="186.4" cy="154.1" r="2.1"/><circle cx="192.0" cy="156.1" r="2.1"/><circle cx="182.4" cy="79.8" r="2.1"/><circle cx="181.0" cy="80.0" r="2.1"/><circle cx="181.6" cy="80.0" r="2.1"/><circle cx="186.4" cy="80.1" r="2.1"/><circle cx="183.5" cy="80.3" r="2.1"/><circle cx="185.8" cy="79.5" r="2.1"/><circle cx="189.0" cy="79.7" r="2.1"/><circle cx="183.9" cy="79.2" r="2.1"/><circle cx="188.7" cy="79.3" r="2.1"/><circle cx="179.7" cy="78.8" r="2.1"/><circle cx="187.0" cy="79.9" r="2.1"/><circle cx="192.1" cy="78.9" r="2.1"/><circle cx="192.5" cy="79.8" r="2.1"/><circle cx="187.4" cy="79.3" r="2.1"/><circle cx="193.2" cy="79.0" r="2.1"/><circle cx="182.7" cy="170.3" r="2.1"/><circle cx="183.6" cy="169.1" r="2.1"/><circle cx="185.7" cy="166.6" r="2.1"/><circle cx="186.5" cy="165.4" r="2.1"/></g>
<g fill="#ec2e2e" fill-opacity="0.75"><circle cx="221.5" cy="96.3" r="2.1"/><circle cx="223.8" cy="113.7" r="2.1"/><circle cx="221.8" cy="132.4" r="2.1"/><circle cx="217.4" cy="101.9" r="2.1"/><circle cx="228.4" cy="124.2" r="2.1"/><circle cx="225.8" cy="93.4" r="2.1"/><circle cx="229.5" cy="124.7" r="2.1"/><circle cx="220.5" cy="120.8" r="2.1"/><circle cx="220.2" cy="128.2" r="2.1"/><circle cx="218.2" cy="120.5" r="2.1"/><circle cx="220.5" cy="106.6" r="2.1"/><circle cx="220.8" cy="122.2" r="2.1"/><circle cx="218.8" cy="132.4" r="2.1"/><circle cx="220.0" cy="107.2" r="2.1"/><circle cx="220.4" cy="100.3" r="2.1"/><circle cx="228.1" cy="129.6" r="2.1"/><circle cx="222.5" cy="114.8" r="2.1"/><circle cx="227.6" cy="131.5" r="2.1"/><circle cx="217.0" cy="133.9" r="2.1"/><circle cx="218.9" cy="117.1" r="2.1"/><circle cx="229.4" cy="121.3" r="2.1"/><circle cx="217.0" cy="93.7" r="2.1"/><circle cx="217.3" cy="134.0" r="2.1"/><circle cx="223.4" cy="104.4" r="2.1"/><circle cx="220.3" cy="100.4" r="2.1"/><circle cx="219.0" cy="115.2" r="2.1"/><circle cx="224.7" cy="111.2" r="2.1"/><circle cx="224.7" cy="123.1" r="2.1"/><circle cx="218.9" cy="122.9" r="2.1"/><circle cx="223.7" cy="132.2" r="2.1"/><circle cx="222.6" cy="92.3" r="2.1"/><circle cx="228.0" cy="133.3" r="2.1"/><circle cx="217.2" cy="128.2" r="2.1"/><circle cx="219.5" cy="100.8" r="2.1"/><circle cx="224.1" cy="113.3" r="2.1"/><circle cx="216.8" cy="110.7" r="2.1"/><circle cx="228.0" cy="120.9" r="2.1"/><circle cx="229.7" cy="127.1" r="2.1"/><circle cx="220.8" cy="97.3" r="2.1"/><circle cx="227.0" cy="128.9" r="2.1"/><circle cx="219.7" cy="120.8" r="2.1"/><circle cx="229.4" cy="99.5" r="2.1"/><circle cx="219.2" cy="120.7" r="2.1"/><circle cx="216.4" cy="90.2" r="2.1"/><circle cx="217.2" cy="126.5" r="2.1"/><circle cx="222.6" cy="110.0" r="2.1"/><circle cx="216.8" cy="109.5" r="2.1"/><circle cx="229.8" cy="111.3" r="2.1"/><circle cx="225.0" cy="98.5" r="2.1"/><circle cx="224.1" cy="132.5" r="2.1"/><circle cx="224.9" cy="109.1" r="2.1"/><circle cx="222.1" cy="97.7" r="2.1"/><circle cx="228.5" cy="132.3" r="2.1"/><circle cx="226.1" cy="109.1" r="2.1"/><circle cx="222.2" cy="114.1" r="2.1"/><circle cx="220.2" cy="115.7" r="2.1"/><circle cx="218.3" cy="109.5" r="2.1"/><circle cx="220.6" cy="105.5" r="2.1"/><circle cx="221.2" cy="101.8" r="2.1"/><circle cx="217.4" cy="92.7" r="2.1"/><circle cx="229.1" cy="104.0" r="2.1"/><circle cx="219.9" cy="88.0" r="2.1"/><circle cx="223.8" cy="103.6" r="2.1"/><circle cx="217.2" cy="122.1" r="2.1"/><circle cx="223.9" cy="127.8" r="2.1"/><circle cx="225.2" cy="131.3" r="2.1"/><circle cx="217.4" cy="122.1" r="2.1"/><circle cx="229.8" cy="129.1" r="2.1"/><circle cx="218.6" cy="102.7" r="2.1"/><circle cx="219.9" cy="102.4" r="2.1"/><circle cx="226.5" cy="106.0" r="2.1"/><circle cx="220.9" cy="116.8" r="2.1"/><circle cx="228.4" cy="113.0" r="2.1"/><circle cx="219.6" cy="122.5" r="2.1"/><circle cx="220.6" cy="91.7" r="2.1"/><circle cx="225.9" cy="133.9" r="2.1"/><circle cx="228.2" cy="119.7" r="2.1"/><circle cx="228.5" cy="107.9" r="2.1"/><circle cx="220.3" cy="126.2" r="2.1"/><circle cx="223.6" cy="94.7" r="2.1"/><circle cx="222.0" cy="112.2" r="2.1"/><circle cx="225.6" cy="117.3" r="2.1"/><circle cx="219.4" cy="131.7" r="2.1"/><circle cx="227.9" cy="121.5" r="2.1"/><circle cx="226.1" cy="107.1" r="2.1"/><circle cx="218.7" cy="121.5" r="2.1"/><circle cx="220.6" cy="132.5" r="2.1"/><circle cx="220.9" cy="107.6" r="2.1"/><circle cx="229.1" cy="120.4" r="2.1"/><circle cx="222.6" cy="95.1" r="2.1"/><circle cx="224.8" cy="102.3" r="2.1"/><circle cx="229.1" cy="100.9" r="2.1"/><circle cx="221.8" cy="93.0" r="2.1"/><circle cx="229.4" cy="96.8" r="2.1"/><circle cx="220.3" cy="119.3" r="2.1"/><circle cx="216.5" cy="108.1" r="2.1"/><circle cx="217.7" cy="122.6" r="2.1"/><circle cx="225.9" cy="125.2" r="2.1"/><circle cx="221.6" cy="125.0" r="2.1"/><circle cx="227.8" cy="129.5" r="2.1"/><circle cx="223.7" cy="123.5" r="2.1"/><circle cx="225.8" cy="124.1" r="2.1"/><circle cx="221.2" cy="103.2" r="2.1"/><circle cx="224.4" cy="122.9" r="2.1"/><circle cx="225.9" cy="132.5" r="2.1"/><circle cx="221.5" cy="114.9" r="2.1"/><circle cx="223.1" cy="125.3" r="2.1"/><circle cx="227.9" cy="102.4" r="2.1"/><circle cx="229.1" cy="124.3" r="2.1"/><circle cx="221.1" cy="108.6" r="2.1"/><circle cx="217.2" cy="126.4" r="2.1"/><circle cx="227.9" cy="112.1" r="2.1"/><circle cx="222.5" cy="94.1" r="2.1"/><circle cx="229.7" cy="120.5" r="2.1"/><circle cx="226.8" cy="110.0" r="2.1"/><circle cx="221.4" cy="114.1" r="2.1"/><circle cx="228.0" cy="131.4" r="2.1"/><circle cx="223.9" cy="133.7" r="2.1"/><circle cx="226.1" cy="95.3" r="2.1"/><circle cx="228.5" cy="118.7" r="2.1"/><circle cx="224.3" cy="102.6" r="2.1"/><circle cx="229.4" cy="115.4" r="2.1"/><circle cx="221.8" cy="95.5" r="2.1"/><circle cx="221.5" cy="125.5" r="2.1"/><circle cx="225.1" cy="112.0" r="2.1"/><circle cx="221.9" cy="109.0" r="2.1"/><circle cx="226.1" cy="97.6" r="2.1"/><circle cx="223.6" cy="133.3" r="2.1"/><circle cx="226.5" cy="117.7" r="2.1"/><circle cx="227.7" cy="112.4" r="2.1"/><circle cx="224.1" cy="107.1" r="2.1"/><circle cx="228.9" cy="128.0" r="2.1"/><circle cx="227.1" cy="109.2" r="2.1"/><circle cx="228.1" cy="102.2" r="2.1"/><circle cx="216.6" cy="100.4" r="2.1"/><circle cx="216.5" cy="124.2" r="2.1"/><circle cx="225.1" cy="114.0" r="2.1"/><circle cx="220.9" cy="120.7" r="2.1"/><circle cx="228.3" cy="116.5" r="2.1"/><circle cx="221.7" cy="117.7" r="2.1"/><circle cx="226.6" cy="90.5" r="2.1"/><circle cx="219.7" cy="134.0" r="2.1"/><circle cx="225.0" cy="90.4" r="2.1"/><circle cx="228.7" cy="133.1" r="2.1"/><circle cx="228.2" cy="131.0" r="2.1"/><circle cx="221.4" cy="125.0" r="2.1"/><circle cx="222.9" cy="121.2" r="2.1"/><circle cx="223.7" cy="94.6" r="2.1"/><circle cx="221.1" cy="95.3" r="2.1"/><circle cx="223.0" cy="91.0" r="2.1"/><circle cx="229.6" cy="116.4" r="2.1"/><circle cx="228.4" cy="133.9" r="2.1"/><circle cx="220.6" cy="105.4" r="2.1"/><circle cx="225.7" cy="92.6" r="2.1"/><circle cx="229.4" cy="129.6" r="2.1"/><circle cx="221.3" cy="96.0" r="2.1"/><circle cx="228.0" cy="134.6" r="2.1"/><circle cx="227.3" cy="100.4" r="2.1"/><circle cx="228.5" cy="111.6" r="2.1"/><circle cx="217.5" cy="92.2" r="2.1"/><circle cx="229.0" cy="93.8" r="2.1"/><circle cx="229.8" cy="132.5" r="2.1"/><circle cx="219.6" cy="111.4" r="2.1"/><circle cx="225.0" cy="123.3" r="2.1"/><circle cx="217.5" cy="114.1" r="2.1"/><circle cx="224.6" cy="131.6" r="2.1"/><circle cx="226.1" cy="117.8" r="2.1"/><circle cx="226.6" cy="115.6" r="2.1"/><circle cx="228.1" cy="134.5" r="2.1"/><circle cx="220.3" cy="112.5" r="2.1"/><circle cx="217.9" cy="92.8" r="2.1"/><circle cx="227.6" cy="131.8" r="2.1"/><circle cx="216.7" cy="90.5" r="2.1"/><circle cx="219.5" cy="111.8" r="2.1"/><circle cx="219.6" cy="124.8" r="2.1"/><circle cx="227.0" cy="89.4" r="2.1"/><circle cx="222.4" cy="112.5" r="2.1"/><circle cx="227.9" cy="114.2" r="2.1"/><circle cx="225.5" cy="117.1" r="2.1"/><circle cx="227.9" cy="93.5" r="2.1"/><circle cx="227.1" cy="128.6" r="2.1"/><circle cx="228.4" cy="124.8" r="2.1"/><circle cx="220.1" cy="121.4" r="2.1"/><circle cx="221.2" cy="131.7" r="2.1"/><circle cx="225.0" cy="95.2" r="2.1"/><circle cx="224.3" cy="111.8" r="2.1"/><circle cx="227.0" cy="106.5" r="2.1"/><circle cx="227.5" cy="93.3" r="2.1"/><circle cx="220.5" cy="111.5" r="2.1"/><circle cx="218.0" cy="121.7" r="2.1"/><circle cx="226.5" cy="109.8" r="2.1"/><circle cx="225.8" cy="111.3" r="2.1"/><circle cx="220.1" cy="120.7" r="2.1"/><circle cx="217.1" cy="123.8" r="2.1"/><circle cx="216.6" cy="117.9" r="2.1"/><circle cx="219.7" cy="100.3" r="2.1"/><circle cx="220.1" cy="126.9" r="2.1"/><circle cx="219.2" cy="88.1" r="2.1"/><circle cx="217.0" cy="123.7" r="2.1"/><circle cx="218.7" cy="121.9" r="2.1"/><circle cx="221.1" cy="128.9" r="2.1"/><circle cx="217.6" cy="116.3" r="2.1"/><circle cx="219.2" cy="117.3" r="2.1"/><circle cx="222.3" cy="102.8" r="2.1"/><circle cx="228.0" cy="92.8" r="2.1"/><circle cx="228.3" cy="123.1" r="2.1"/><circle cx="221.9" cy="96.8" r="2.1"/><circle cx="218.0" cy="120.2" r="2.1"/><circle cx="220.0" cy="115.6" r="2.1"/><circle cx="225.6" cy="128.7" r="2.1"/><circle cx="221.9" cy="92.9" r="2.1"/><circle cx="224.2" cy="117.2" r="2.1"/><circle cx="226.5" cy="101.9" r="2.1"/><circle cx="225.4" cy="133.4" r="2.1"/><circle cx="228.2" cy="102.1" r="2.1"/><circle cx="217.5" cy="124.1" r="2.1"/><circle cx="220.4" cy="113.5" r="2.1"/><circle cx="216.8" cy="103.2" r="2.1"/><circle cx="223.5" cy="126.7" r="2.1"/><circle cx="224.8" cy="110.0" r="2.1"/><circle cx="219.8" cy="95.6" r="2.1"/><circle cx="217.1" cy="127.0" r="2.1"/><circle cx="222.7" cy="112.8" r="2.1"/><circle cx="218.6" cy="126.0" r="2.1"/><circle cx="219.0" cy="128.0" r="2.1"/><circle cx="221.6" cy="111.7" r="2.1"/><circle cx="229.3" cy="113.3" r="2.1"/><circle cx="221.3" cy="104.6" r="2.1"/><circle cx="226.1" cy="94.6" r="2.1"/><circle cx="221.4" cy="101.6" r="2.1"/><circle cx="221.9" cy="118.9" r="2.1"/><circle cx="218.2" cy="111.9" r="2.1"/><circle cx="218.8" cy="103.2" r="2.1"/><circle cx="226.9" cy="95.4" r="2.1"/><circle cx="222.2" cy="102.7" r="2.1"/><circle cx="220.2" cy="111.2" r="2.1"/><circle cx="229.9" cy="128.4" r="2.1"/><circle cx="228.4" cy="94.1" r="2.1"/><circle cx="219.9" cy="121.5" r="2.1"/><circle cx="222.3" cy="115.7" r="2.1"/><circle cx="224.1" cy="93.3" r="2.1"/><circle cx="218.6" cy="125.0" r="2.1"/><circle cx="222.2" cy="91.9" r="2.1"/><circle cx="220.2" cy="123.9" r="2.1"/><circle cx="227.5" cy="130.6" r="2.1"/><circle cx="217.6" cy="110.6" r="2.1"/><circle cx="230.0" cy="97.5" r="2.1"/><circle cx="219.6" cy="115.8" r="2.1"/><circle cx="220.9" cy="95.3" r="2.1"/><circle cx="217.3" cy="116.1" r="2.1"/><circle cx="228.9" cy="96.6" r="2.1"/><circle cx="227.7" cy="129.4" r="2.1"/><circle cx="217.2" cy="121.4" r="2.1"/><circle cx="223.6" cy="128.9" r="2.1"/><circle cx="221.7" cy="100.1" r="2.1"/><circle cx="224.7" cy="112.7" r="2.1"/><circle cx="220.9" cy="104.0" r="2.1"/><circle cx="229.5" cy="123.5" r="2.1"/><circle cx="219.3" cy="100.3" r="2.1"/><circle cx="227.6" cy="88.2" r="2.1"/><circle cx="220.0" cy="131.0" r="2.1"/><circle cx="225.3" cy="119.7" r="2.1"/><circle cx="222.2" cy="94.0" r="2.1"/><circle cx="223.6" cy="94.8" r="2.1"/><circle cx="223.5" cy="93.9" r="2.1"/><circle cx="224.9" cy="124.1" r="2.1"/><circle cx="217.2" cy="108.3" r="2.1"/><circle cx="217.1" cy="130.6" r="2.1"/><circle cx="229.7" cy="114.5" r="2.1"/><circle cx="219.8" cy="107.7" r="2.1"/><circle cx="221.2" cy="122.6" r="2.1"/><circle cx="219.6" cy="114.9" r="2.1"/><circle cx="225.2" cy="117.5" r="2.1"/><circle cx="229.9" cy="130.7" r="2.1"/><circle cx="221.9" cy="131.4" r="2.1"/><circle cx="220.7" cy="98.1" r="2.1"/><circle cx="221.1" cy="134.5" r="2.1"/><circle cx="216.7" cy="88.6" r="2.1"/><circle cx="217.5" cy="92.7" r="2.1"/><circle cx="217.0" cy="88.5" r="2.1"/><circle cx="220.8" cy="97.9" r="2.1"/><circle cx="229.9" cy="134.5" r="2.1"/><circle cx="218.2" cy="129.2" r="2.1"/><circle cx="223.9" cy="119.8" r="2.1"/><circle cx="219.2" cy="126.2" r="2.1"/><circle cx="216.8" cy="131.8" r="2.1"/><circle cx="227.9" cy="91.8" r="2.1"/><circle cx="218.1" cy="92.1" r="2.1"/><circle cx="218.2" cy="98.8" r="2.1"/><circle cx="227.6" cy="122.8" r="2.1"/><circle cx="219.7" cy="94.8" r="2.1"/><circle cx="219.0" cy="96.4" r="2.1"/><circle cx="229.3" cy="119.5" r="2.1"/><circle cx="219.0" cy="128.7" r="2.1"/><circle cx="227.8" cy="128.3" r="2.1"/><circle cx="220.5" cy="115.5" r="2.1"/><circle cx="224.1" cy="95.8" r="2.1"/><circle cx="220.6" cy="131.1" r="2.1"/><circle cx="221.0" cy="114.6" r="2.1"/><circle cx="229.2" cy="118.1" r="2.1"/><circle cx="228.8" cy="80.2" r="2.1"/><circle cx="218.7" cy="86.6" r="2.1"/><circle cx="226.3" cy="82.3" r="2.1"/><circle cx="218.2" cy="85.1" r="2.1"/><circle cx="220.4" cy="82.3" r="2.1"/><circle cx="217.3" cy="80.8" r="2.1"/><circle cx="225.2" cy="80.8" r="2.1"/><circle cx="226.3" cy="80.6" r="2.1"/><circle cx="226.6" cy="85.4" r="2.1"/><circle cx="227.0" cy="85.5" r="2.1"/><circle cx="221.7" cy="86.9" r="2.1"/><circle cx="218.7" cy="85.7" r="2.1"/><circle cx="216.4" cy="150.9" r="2.1"/><circle cx="222.4" cy="138.6" r="2.1"/><circle cx="229.2" cy="152.2" r="2.1"/><circle cx="222.5" cy="149.6" r="2.1"/><circle cx="224.8" cy="138.5" r="2.1"/><circle cx="229.0" cy="138.9" r="2.1"/><circle cx="228.2" cy="135.1" r="2.1"/><circle cx="226.5" cy="146.0" r="2.1"/><circle cx="224.5" cy="152.3" r="2.1"/><circle cx="219.5" cy="138.2" r="2.1"/><circle cx="226.6" cy="147.8" r="2.1"/><circle cx="222.1" cy="138.8" r="2.1"/><circle cx="226.0" cy="152.7" r="2.1"/><circle cx="219.4" cy="152.5" r="2.1"/><circle cx="229.3" cy="142.1" r="2.1"/><circle cx="218.6" cy="140.5" r="2.1"/><circle cx="227.2" cy="142.7" r="2.1"/><circle cx="228.6" cy="143.3" r="2.1"/><circle cx="218.4" cy="142.1" r="2.1"/><circle cx="228.2" cy="150.7" r="2.1"/><circle cx="225.2" cy="151.9" r="2.1"/><circle cx="224.6" cy="146.7" r="2.1"/><circle cx="219.8" cy="143.0" r="2.1"/><circle cx="220.8" cy="148.5" r="2.1"/><circle cx="219.5" cy="149.8" r="2.1"/><circle cx="222.4" cy="144.9" r="2.1"/><circle cx="225.2" cy="145.5" r="2.1"/><circle cx="226.4" cy="148.1" r="2.1"/><circle cx="226.0" cy="136.0" r="2.1"/><circle cx="221.1" cy="135.7" r="2.1"/><circle cx="220.9" cy="152.2" r="2.1"/><circle cx="226.8" cy="144.2" r="2.1"/><circle cx="229.7" cy="148.7" r="2.1"/><circle cx="219.4" cy="146.9" r="2.1"/><circle cx="222.0" cy="152.6" r="2.1"/><circle cx="220.1" cy="151.6" r="2.1"/><circle cx="229.7" cy="152.5" r="2.1"/><circle cx="216.5" cy="150.8" r="2.1"/><circle cx="228.6" cy="141.1" r="2.1"/><circle cx="226.9" cy="151.7" r="2.1"/><circle cx="220.9" cy="155.2" r="2.1"/><circle cx="225.7" cy="156.7" r="2.1"/><circle cx="221.4" cy="166.6" r="2.1"/><circle cx="225.1" cy="158.8" r="2.1"/><circle cx="222.2" cy="154.0" r="2.1"/><circle cx="228.9" cy="169.4" r="2.1"/><circle cx="222.6" cy="161.2" r="2.1"/><circle cx="227.5" cy="163.0" r="2.1"/><circle cx="224.3" cy="165.8" r="2.1"/><circle cx="221.4" cy="166.2" r="2.1"/><circle cx="229.6" cy="170.0" r="2.1"/><circle cx="219.0" cy="159.6" r="2.1"/><circle cx="228.8" cy="167.9" r="2.1"/><circle cx="229.8" cy="163.8" r="2.1"/><circle cx="228.0" cy="154.4" r="2.1"/><circle cx="224.7" cy="165.1" r="2.1"/><circle cx="224.9" cy="165.7" r="2.1"/><circle cx="229.1" cy="154.3" r="2.1"/><circle cx="222.3" cy="160.8" r="2.1"/><circle cx="227.7" cy="161.0" r="2.1"/><circle cx="227.0" cy="167.4" r="2.1"/><circle cx="228.1" cy="159.7" r="2.1"/><circle cx="222.4" cy="78.1" r="2.1"/><circle cx="225.3" cy="80.5" r="2.1"/></g>
<text x="289" y="16" font-size="21" font-weight="bold" text-anchor="middle" fill="#000" >b</text>
<text x="315.3" y="10.8" font-size="11.9" font-weight="bold" text-anchor="start" fill="#000" >Estrogen Response Early Signature Enrichment</text>
<text x="371" y="34.5" font-size="11.6" font-weight="bold" text-anchor="middle" fill="#000" >TCGA</text>
<text x="495" y="36.2" font-size="11.6" font-weight="bold" text-anchor="middle" fill="#000" >METABRIC</text>
<rect x="334.7" y="42.3" width="88.1" height="135.5" fill="#e4e5e6"/>
<line x1="334.7" x2="422.8" y1="156.09" y2="156.09" stroke="#f6f6f6" stroke-width="0.5"/>
<line x1="334.7" x2="422.8" y1="125.43" y2="125.43" stroke="#f6f6f6" stroke-width="0.5"/>
<line x1="334.7" x2="422.8" y1="94.77" y2="94.77" stroke="#f6f6f6" stroke-width="0.5"/>
<line x1="334.7" x2="422.8" y1="64.11" y2="64.11" stroke="#f6f6f6" stroke-width="0.5"/>
<line x1="334.7" x2="422.8" y1="171.42" y2="171.42" stroke="#f6f6f6" stroke-width="1"/>
<line x1="334.7" x2="422.8" y1="140.76" y2="140.76" stroke="#f6f6f6" stroke-width="1"/>
<line x1="334.7" x2="422.8" y1="110.10" y2="110.10" stroke="#f6f6f6" stroke-width="1"/>
<line x1="334.7" x2="422.8" y1="79.44" y2="79.44" stroke="#f6f6f6" stroke-width="1"/>
<line x1="334.7" x2="422.8" y1="48.78" y2="48.78" stroke="#f6f6f6" stroke-width="1"/>
<line y1="42.3" y2="177.8" x1="358.60" x2="358.60" stroke="#f6f6f6" stroke-width="1"/>
<line y1="42.3" y2="177.8" x1="398.50" x2="398.50" stroke="#f6f6f6" stroke-width="1"/>
<line x1="332.2" x2="334.7" y1="171.42" y2="171.42" stroke="#444" stroke-width="0.6"/>
<line x1="332.2" x2="334.7" y1="140.76" y2="140.76" stroke="#444" stroke-width="0.6"/>
<line x1="332.2" x2="334.7" y1="110.10" y2="110.10" stroke="#444" stroke-width="0.6"/>
<line x1="332.2" x2="334.7" y1="79.44" y2="79.44" stroke="#444" stroke-width="0.6"/>
<line x1="332.2" x2="334.7" y1="48.78" y2="48.78" stroke="#444" stroke-width="0.6"/>
<line y1="177.8" y2="180.3" x1="358.60" x2="358.60" stroke="#444" stroke-width="0.6"/>
<line y1="177.8" y2="180.3" x1="398.50" x2="398.50" stroke="#444" stroke-width="0.6"/>
<text transform="translate(331.50 175.63) scale(0.82 1)" font-size="11.7" font-weight="bold" text-anchor="end" fill="#111">-0.6</text>
<text transform="translate(331.50 144.97) scale(0.82 1)" font-size="11.7" font-weight="bold" text-anchor="end" fill="#111">-0.3</text>
<text transform="translate(331.50 114.31) scale(0.82 1)" font-size="11.7" font-weight="bold" text-anchor="end" fill="#111">0.0</text>
<text transform="translate(331.50 83.65) scale(0.82 1)" font-size="11.7" font-weight="bold" text-anchor="end" fill="#111">0.3</text>
<text transform="translate(331.50 52.99) scale(0.82 1)" font-size="11.7" font-weight="bold" text-anchor="end" fill="#111">0.6</text>
<path d="M358.5 53.5V49.4H395.5V53.5" fill="none" stroke="#111" stroke-width="1"/>
<text x="377.0" y="46.3" font-size="8.8" font-weight="bold" text-anchor="middle" letter-spacing="1.2" fill="#222">**</text>
<line x1="358.60" x2="358.60" y1="62.07" y2="84.04" stroke="#222" stroke-width="1.0"/>
<line x1="358.60" x2="358.60" y1="113.98" y2="157.11" stroke="#222" stroke-width="1.0"/>
<rect x="343.45" y="84.04" width="30.30" height="29.94" fill="#fff" stroke="#222" stroke-width="1.0"/>
<line x1="343.45" x2="373.75" y1="97.94" y2="97.94" stroke="#222" stroke-width="1.6"/>
<line x1="398.50" x2="398.50" y1="72.29" y2="94.16" stroke="#ec2e2e" stroke-width="1.0"/>
<line x1="398.50" x2="398.50" y1="129.42" y2="161.20" stroke="#ec2e2e" stroke-width="1.0"/>
<rect x="383.35" y="94.16" width="30.30" height="35.26" fill="#fff" stroke="#ec2e2e" stroke-width="1.0"/>
<line x1="383.35" x2="413.65" y1="110.61" y2="110.61" stroke="#ec2e2e" stroke-width="1.6"/>
<g fill="#000" fill-opacity="0.6"><circle cx="353.8" cy="129.5" r="2.1"/><circle cx="359.9" cy="130.9" r="2.1"/><circle cx="364.8" cy="128.5" r="2.1"/><circle cx="364.8" cy="86.8" r="2.1"/><circle cx="359.4" cy="112.1" r="2.1"/><circle cx="354.6" cy="75.3" r="2.1"/><circle cx="358.6" cy="130.4" r="2.1"/><circle cx="355.7" cy="124.2" r="2.1"/><circle cx="356.0" cy="80.1" r="2.1"/><circle cx="356.0" cy="107.9" r="2.1"/><circle cx="354.4" cy="121.0" r="2.1"/><circle cx="352.1" cy="83.8" r="2.1"/><circle cx="362.1" cy="120.1" r="2.1"/><circle cx="351.8" cy="71.0" r="2.1"/><circle cx="359.6" cy="117.4" r="2.1"/><circle cx="356.7" cy="78.6" r="2.1"/><circle cx="360.7" cy="103.8" r="2.1"/><circle cx="359.7" cy="73.5" r="2.1"/><circle cx="358.3" cy="116.0" r="2.1"/><circle cx="362.5" cy="74.2" r="2.1"/><circle cx="359.6" cy="115.5" r="2.1"/><circle cx="364.2" cy="105.9" r="2.1"/><circle cx="359.8" cy="93.6" r="2.1"/><circle cx="363.9" cy="98.8" r="2.1"/><circle cx="363.7" cy="91.1" r="2.1"/><circle cx="361.5" cy="89.4" r="2.1"/><circle cx="356.2" cy="117.9" r="2.1"/><circle cx="358.4" cy="135.1" r="2.1"/><circle cx="352.7" cy="87.6" r="2.1"/><circle cx="361.8" cy="95.8" r="2.1"/><circle cx="360.6" cy="98.2" r="2.1"/><circle cx="363.1" cy="102.7" r="2.1"/><circle cx="352.8" cy="74.0" r="2.1"/><circle cx="353.4" cy="115.9" r="2.1"/><circle cx="360.6" cy="75.1" r="2.1"/><circle cx="361.9" cy="124.5" r="2.1"/><circle cx="352.6" cy="89.5" r="2.1"/><circle cx="352.0" cy="73.1" r="2.1"/><circle cx="356.1" cy="125.4" r="2.1"/><circle cx="356.4" cy="84.5" r="2.1"/><circle cx="352.3" cy="117.5" r="2.1"/><circle cx="353.0" cy="131.7" r="2.1"/><circle cx="354.5" cy="107.0" r="2.1"/><circle cx="351.8" cy="89.2" r="2.1"/><circle cx="353.7" cy="116.8" r="2.1"/><circle cx="352.0" cy="72.5" r="2.1"/><circle cx="356.8" cy="135.5" r="2.1"/><circle cx="362.1" cy="117.9" r="2.1"/><circle cx="360.9" cy="113.0" r="2.1"/><circle cx="360.1" cy="111.0" r="2.1"/><circle cx="358.1" cy="115.7" r="2.1"/><circle cx="354.2" cy="134.2" r="2.1"/><circle cx="352.3" cy="121.7" r="2.1"/><circle cx="354.2" cy="118.3" r="2.1"/><circle cx="364.9" cy="91.0" r="2.1"/><circle cx="363.0" cy="110.6" r="2.1"/><circle cx="359.6" cy="87.7" r="2.1"/><circle cx="360.2" cy="106.3" r="2.1"/><circle cx="362.0" cy="113.0" r="2.1"/><circle cx="363.1" cy="125.1" r="2.1"/><circle cx="355.0" cy="120.5" r="2.1"/><circle cx="362.8" cy="75.8" r="2.1"/><circle cx="360.7" cy="105.4" r="2.1"/><circle cx="355.5" cy="114.8" r="2.1"/><circle cx="355.6" cy="121.1" r="2.1"/><circle cx="354.0" cy="77.4" r="2.1"/><circle cx="359.3" cy="88.9" r="2.1"/><circle cx="365.2" cy="89.5" r="2.1"/><circle cx="362.7" cy="82.2" r="2.1"/><circle cx="353.9" cy="119.6" r="2.1"/><circle cx="353.3" cy="87.1" r="2.1"/><circle cx="355.5" cy="130.9" r="2.1"/><circle cx="353.9" cy="91.5" r="2.1"/><circle cx="353.6" cy="114.2" r="2.1"/><circle cx="361.8" cy="91.7" r="2.1"/><circle cx="356.0" cy="120.6" r="2.1"/><circle cx="359.5" cy="112.2" r="2.1"/><circle cx="356.0" cy="91.1" r="2.1"/><circle cx="365.4" cy="73.2" r="2.1"/><circle cx="359.9" cy="113.0" r="2.1"/><circle cx="353.6" cy="124.4" r="2.1"/><circle cx="362.5" cy="127.4" r="2.1"/><circle cx="355.7" cy="91.1" r="2.1"/><circle cx="358.0" cy="76.2" r="2.1"/><circle cx="355.6" cy="134.5" r="2.1"/><circle cx="358.5" cy="112.7" r="2.1"/><circle cx="355.9" cy="124.4" r="2.1"/><circle cx="356.1" cy="72.2" r="2.1"/><circle cx="353.8" cy="126.9" r="2.1"/><circle cx="365.0" cy="131.1" r="2.1"/><circle cx="354.5" cy="84.6" r="2.1"/><circle cx="355.6" cy="69.3" r="2.1"/><circle cx="357.3" cy="84.2" r="2.1"/><circle cx="353.3" cy="128.0" r="2.1"/><circle cx="354.8" cy="108.6" r="2.1"/><circle cx="357.3" cy="101.1" r="2.1"/><circle cx="359.8" cy="75.9" r="2.1"/><circle cx="359.1" cy="85.6" r="2.1"/><circle cx="356.8" cy="131.7" r="2.1"/><circle cx="361.1" cy="105.6" r="2.1"/><circle cx="362.0" cy="83.9" r="2.1"/><circle cx="355.3" cy="99.6" r="2.1"/><circle cx="355.0" cy="91.4" r="2.1"/><circle cx="360.4" cy="71.4" r="2.1"/><circle cx="357.4" cy="70.6" r="2.1"/><circle cx="363.2" cy="80.1" r="2.1"/><circle cx="351.7" cy="97.7" r="2.1"/><circle cx="359.2" cy="115.2" r="2.1"/><circle cx="356.5" cy="125.0" r="2.1"/><circle cx="354.6" cy="124.5" r="2.1"/><circle cx="363.8" cy="93.1" r="2.1"/><circle cx="354.6" cy="84.3" r="2.1"/><circle cx="362.6" cy="78.6" r="2.1"/><circle cx="363.6" cy="74.9" r="2.1"/><circle cx="365.1" cy="116.5" r="2.1"/><circle cx="353.2" cy="113.4" r="2.1"/><circle cx="353.8" cy="122.6" r="2.1"/><circle cx="352.8" cy="99.5" r="2.1"/><circle cx="356.1" cy="72.8" r="2.1"/><circle cx="364.3" cy="85.3" r="2.1"/><circle cx="360.6" cy="106.6" r="2.1"/><circle cx="353.8" cy="125.1" r="2.1"/><circle cx="353.1" cy="79.7" r="2.1"/><circle cx="362.1" cy="76.1" r="2.1"/><circle cx="360.3" cy="84.6" r="2.1"/><circle cx="351.6" cy="116.2" r="2.1"/><circle cx="359.8" cy="109.7" r="2.1"/><circle cx="354.3" cy="96.9" r="2.1"/><circle cx="355.7" cy="74.7" r="2.1"/><circle cx="353.0" cy="119.5" r="2.1"/><circle cx="365.5" cy="107.8" r="2.1"/><circle cx="358.0" cy="131.7" r="2.1"/><circle cx="360.2" cy="135.4" r="2.1"/><circle cx="354.5" cy="119.5" r="2.1"/><circle cx="356.9" cy="81.9" r="2.1"/><circle cx="360.7" cy="90.8" r="2.1"/><circle cx="362.1" cy="104.0" r="2.1"/><circle cx="364.3" cy="108.4" r="2.1"/><circle cx="355.1" cy="118.1" r="2.1"/><circle cx="355.0" cy="84.8" r="2.1"/><circle cx="357.2" cy="103.3" r="2.1"/><circle cx="355.9" cy="131.0" r="2.1"/><circle cx="363.1" cy="94.0" r="2.1"/><circle cx="356.8" cy="69.7" r="2.1"/><circle cx="356.8" cy="130.8" r="2.1"/><circle cx="358.6" cy="69.4" r="2.1"/><circle cx="359.5" cy="129.0" r="2.1"/><circle cx="356.5" cy="115.2" r="2.1"/><circle cx="351.7" cy="70.8" r="2.1"/><circle cx="361.9" cy="71.1" r="2.1"/><circle cx="353.2" cy="123.4" r="2.1"/><circle cx="363.6" cy="87.8" r="2.1"/><circle cx="355.1" cy="95.0" r="2.1"/><circle cx="355.2" cy="109.2" r="2.1"/><circle cx="359.1" cy="83.6" r="2.1"/><circle cx="364.3" cy="93.5" r="2.1"/><circle cx="356.9" cy="120.7" r="2.1"/><circle cx="358.3" cy="103.1" r="2.1"/><circle cx="357.4" cy="88.5" r="2.1"/><circle cx="353.2" cy="94.4" r="2.1"/><circle cx="355.6" cy="99.6" r="2.1"/><circle cx="364.4" cy="86.7" r="2.1"/><circle cx="364.8" cy="126.7" r="2.1"/><circle cx="355.2" cy="132.8" r="2.1"/><circle cx="364.5" cy="133.5" r="2.1"/><circle cx="351.8" cy="94.4" r="2.1"/><circle cx="361.7" cy="106.8" r="2.1"/><circle cx="352.0" cy="80.1" r="2.1"/><circle cx="357.6" cy="71.1" r="2.1"/><circle cx="357.4" cy="128.2" r="2.1"/><circle cx="357.7" cy="110.5" r="2.1"/><circle cx="364.8" cy="107.8" r="2.1"/><circle cx="356.5" cy="99.3" r="2.1"/><circle cx="351.9" cy="75.2" r="2.1"/><circle cx="353.1" cy="95.8" r="2.1"/><circle cx="362.1" cy="115.4" r="2.1"/><circle cx="353.4" cy="91.6" r="2.1"/><circle cx="352.4" cy="113.8" r="2.1"/><circle cx="354.3" cy="98.8" r="2.1"/><circle cx="365.3" cy="129.1" r="2.1"/><circle cx="357.8" cy="98.2" r="2.1"/><circle cx="353.7" cy="103.9" r="2.1"/><circle cx="360.8" cy="92.8" r="2.1"/><circle cx="356.9" cy="98.0" r="2.1"/><circle cx="359.3" cy="97.6" r="2.1"/><circle cx="365.5" cy="86.7" r="2.1"/><circle cx="361.4" cy="126.8" r="2.1"/><circle cx="359.1" cy="85.7" r="2.1"/><circle cx="365.6" cy="94.2" r="2.1"/><circle cx="358.7" cy="89.9" r="2.1"/><circle cx="357.9" cy="109.1" r="2.1"/><circle cx="363.5" cy="130.0" r="2.1"/><circle cx="365.0" cy="74.4" r="2.1"/><circle cx="361.7" cy="80.7" r="2.1"/><circle cx="356.7" cy="70.8" r="2.1"/><circle cx="357.2" cy="105.1" r="2.1"/><circle cx="351.7" cy="76.9" r="2.1"/><circle cx="355.0" cy="77.8" r="2.1"/><circle cx="362.5" cy="99.1" r="2.1"/><circle cx="358.4" cy="75.8" r="2.1"/><circle cx="363.6" cy="81.5" r="2.1"/><circle cx="361.0" cy="128.8" r="2.1"/><circle cx="359.5" cy="126.8" r="2.1"/><circle cx="362.9" cy="108.6" r="2.1"/><circle cx="358.6" cy="100.3" r="2.1"/><circle cx="360.9" cy="92.3" r="2.1"/><circle cx="358.5" cy="98.2" r="2.1"/><circle cx="356.5" cy="77.5" r="2.1"/><circle cx="362.3" cy="82.5" r="2.1"/><circle cx="352.6" cy="128.8" r="2.1"/><circle cx="365.3" cy="113.1" r="2.1"/><circle cx="365.1" cy="76.7" r="2.1"/><circle cx="363.2" cy="85.5" r="2.1"/><circle cx="358.1" cy="134.6" r="2.1"/><circle cx="357.9" cy="94.0" r="2.1"/><circle cx="357.2" cy="127.3" r="2.1"/><circle cx="358.0" cy="102.2" r="2.1"/><circle cx="354.7" cy="69.6" r="2.1"/><circle cx="362.8" cy="130.7" r="2.1"/><circle cx="363.9" cy="80.9" r="2.1"/><circle cx="358.6" cy="103.5" r="2.1"/><circle cx="363.5" cy="70.6" r="2.1"/><circle cx="355.7" cy="78.5" r="2.1"/><circle cx="363.6" cy="131.3" r="2.1"/><circle cx="365.2" cy="92.9" r="2.1"/><circle cx="361.0" cy="78.5" r="2.1"/><circle cx="365.1" cy="117.1" r="2.1"/><circle cx="361.8" cy="88.8" r="2.1"/><circle cx="361.3" cy="118.8" r="2.1"/><circle cx="358.2" cy="122.0" r="2.1"/><circle cx="352.4" cy="113.6" r="2.1"/><circle cx="353.4" cy="116.2" r="2.1"/><circle cx="363.2" cy="71.7" r="2.1"/><circle cx="354.1" cy="120.0" r="2.1"/><circle cx="361.2" cy="107.4" r="2.1"/><circle cx="353.8" cy="103.4" r="2.1"/><circle cx="362.2" cy="89.7" r="2.1"/><circle cx="365.0" cy="71.2" r="2.1"/><circle cx="360.3" cy="94.9" r="2.1"/><circle cx="352.1" cy="78.5" r="2.1"/><circle cx="361.9" cy="126.9" r="2.1"/><circle cx="358.3" cy="91.7" r="2.1"/><circle cx="363.7" cy="124.2" r="2.1"/><circle cx="353.7" cy="77.8" r="2.1"/><circle cx="355.5" cy="96.1" r="2.1"/><circle cx="364.5" cy="126.6" r="2.1"/><circle cx="363.3" cy="79.2" r="2.1"/><circle cx="364.3" cy="100.8" r="2.1"/><circle cx="358.9" cy="103.4" r="2.1"/><circle cx="361.0" cy="130.3" r="2.1"/><circle cx="364.7" cy="75.4" r="2.1"/><circle cx="360.8" cy="101.5" r="2.1"/><circle cx="352.8" cy="78.2" r="2.1"/><circle cx="353.8" cy="130.7" r="2.1"/><circle cx="351.6" cy="90.5" r="2.1"/><circle cx="353.2" cy="110.7" r="2.1"/><circle cx="352.0" cy="100.0" r="2.1"/><circle cx="357.0" cy="94.2" r="2.1"/><circle cx="360.2" cy="80.8" r="2.1"/><circle cx="363.7" cy="74.3" r="2.1"/><circle cx="357.3" cy="124.6" r="2.1"/><circle cx="353.9" cy="78.5" r="2.1"/><circle cx="364.3" cy="127.9" r="2.1"/><circle cx="364.4" cy="134.9" r="2.1"/><circle cx="365.3" cy="115.6" r="2.1"/><circle cx="351.9" cy="116.7" r="2.1"/><circle cx="359.9" cy="84.4" r="2.1"/><circle cx="360.4" cy="98.4" r="2.1"/><circle cx="359.1" cy="109.9" r="2.1"/><circle cx="354.2" cy="83.1" r="2.1"/><circle cx="364.5" cy="73.5" r="2.1"/><circle cx="359.1" cy="93.0" r="2.1"/><circle cx="352.1" cy="92.3" r="2.1"/><circle cx="356.4" cy="78.4" r="2.1"/><circle cx="361.8" cy="116.2" r="2.1"/><circle cx="354.4" cy="69.5" r="2.1"/><circle cx="362.5" cy="123.9" r="2.1"/><circle cx="354.5" cy="132.6" r="2.1"/><circle cx="357.7" cy="81.0" r="2.1"/><circle cx="355.7" cy="124.1" r="2.1"/><circle cx="353.4" cy="113.4" r="2.1"/><circle cx="364.0" cy="101.6" r="2.1"/><circle cx="356.4" cy="128.3" r="2.1"/><circle cx="362.1" cy="107.5" r="2.1"/><circle cx="364.1" cy="112.1" r="2.1"/><circle cx="355.6" cy="130.0" r="2.1"/><circle cx="351.7" cy="95.6" r="2.1"/><circle cx="359.0" cy="105.7" r="2.1"/><circle cx="354.9" cy="125.0" r="2.1"/><circle cx="363.8" cy="83.3" r="2.1"/><circle cx="353.9" cy="108.4" r="2.1"/><circle cx="361.7" cy="133.9" r="2.1"/><circle cx="352.0" cy="77.2" r="2.1"/><circle cx="355.4" cy="108.5" r="2.1"/><circle cx="354.4" cy="129.5" r="2.1"/><circle cx="363.5" cy="116.5" r="2.1"/><circle cx="360.0" cy="118.7" r="2.1"/><circle cx="360.8" cy="132.7" r="2.1"/><circle cx="352.8" cy="113.7" r="2.1"/><circle cx="355.9" cy="124.4" r="2.1"/><circle cx="364.1" cy="121.5" r="2.1"/><circle cx="360.2" cy="90.9" r="2.1"/><circle cx="362.2" cy="125.1" r="2.1"/><circle cx="358.6" cy="134.2" r="2.1"/><circle cx="354.5" cy="123.8" r="2.1"/><circle cx="364.4" cy="116.0" r="2.1"/><circle cx="355.3" cy="124.7" r="2.1"/><circle cx="354.0" cy="96.0" r="2.1"/><circle cx="360.7" cy="77.2" r="2.1"/><circle cx="352.8" cy="80.5" r="2.1"/><circle cx="362.3" cy="104.4" r="2.1"/><circle cx="361.6" cy="83.5" r="2.1"/><circle cx="357.0" cy="83.1" r="2.1"/><circle cx="358.8" cy="93.5" r="2.1"/><circle cx="358.4" cy="82.3" r="2.1"/><circle cx="352.6" cy="110.5" r="2.1"/><circle cx="352.7" cy="86.0" r="2.1"/><circle cx="356.5" cy="100.9" r="2.1"/><circle cx="351.7" cy="86.6" r="2.1"/><circle cx="354.2" cy="86.5" r="2.1"/><circle cx="356.7" cy="131.3" r="2.1"/><circle cx="360.4" cy="80.3" r="2.1"/><circle cx="358.8" cy="133.3" r="2.1"/><circle cx="354.0" cy="107.3" r="2.1"/><circle cx="362.2" cy="96.4" r="2.1"/><circle cx="362.7" cy="80.9" r="2.1"/><circle cx="360.9" cy="131.8" r="2.1"/><circle cx="361.2" cy="91.0" r="2.1"/><circle cx="355.1" cy="112.7" r="2.1"/><circle cx="363.3" cy="132.9" r="2.1"/><circle cx="359.8" cy="113.6" r="2.1"/><circle cx="354.1" cy="93.1" r="2.1"/><circle cx="361.2" cy="130.1" r="2.1"/><circle cx="360.4" cy="79.3" r="2.1"/><circle cx="359.6" cy="132.8" r="2.1"/><circle cx="358.2" cy="119.8" r="2.1"/><circle cx="362.3" cy="113.8" r="2.1"/><circle cx="361.8" cy="131.4" r="2.1"/><circle cx="359.8" cy="74.2" r="2.1"/><circle cx="352.5" cy="71.5" r="2.1"/><circle cx="354.8" cy="75.5" r="2.1"/><circle cx="365.3" cy="122.4" r="2.1"/><circle cx="357.2" cy="80.3" r="2.1"/><circle cx="360.5" cy="113.2" r="2.1"/><circle cx="353.4" cy="116.5" r="2.1"/><circle cx="359.6" cy="89.8" r="2.1"/><circle cx="360.1" cy="130.0" r="2.1"/><circle cx="362.3" cy="135.3" r="2.1"/><circle cx="365.2" cy="73.8" r="2.1"/><circle cx="358.0" cy="112.1" r="2.1"/><circle cx="356.0" cy="82.8" r="2.1"/><circle cx="353.8" cy="107.4" r="2.1"/><circle cx="356.3" cy="129.5" r="2.1"/><circle cx="357.8" cy="104.1" r="2.1"/><circle cx="365.1" cy="124.3" r="2.1"/><circle cx="358.8" cy="130.3" r="2.1"/><circle cx="361.1" cy="134.4" r="2.1"/><circle cx="361.9" cy="109.0" r="2.1"/><circle cx="351.8" cy="118.5" r="2.1"/><circle cx="354.9" cy="113.3" r="2.1"/><circle cx="359.2" cy="71.8" r="2.1"/><circle cx="352.4" cy="80.6" r="2.1"/><circle cx="353.7" cy="88.8" r="2.1"/><circle cx="362.1" cy="119.4" r="2.1"/><circle cx="361.0" cy="85.8" r="2.1"/><circle cx="353.5" cy="89.3" r="2.1"/><circle cx="353.3" cy="100.6" r="2.1"/><circle cx="363.4" cy="119.8" r="2.1"/><circle cx="358.2" cy="121.8" r="2.1"/><circle cx="356.0" cy="107.8" r="2.1"/><circle cx="361.7" cy="117.3" r="2.1"/><circle cx="361.0" cy="76.9" r="2.1"/><circle cx="365.5" cy="104.7" r="2.1"/><circle cx="353.0" cy="90.6" r="2.1"/><circle cx="362.4" cy="76.1" r="2.1"/><circle cx="358.0" cy="94.4" r="2.1"/><circle cx="355.1" cy="125.0" r="2.1"/><circle cx="358.6" cy="114.4" r="2.1"/><circle cx="351.9" cy="74.4" r="2.1"/><circle cx="353.3" cy="132.6" r="2.1"/><circle cx="353.1" cy="120.9" r="2.1"/><circle cx="361.3" cy="94.6" r="2.1"/><circle cx="361.5" cy="78.9" r="2.1"/><circle cx="355.0" cy="81.1" r="2.1"/><circle cx="355.9" cy="87.1" r="2.1"/><circle cx="362.4" cy="89.0" r="2.1"/><circle cx="357.0" cy="110.8" r="2.1"/><circle cx="356.5" cy="131.6" r="2.1"/><circle cx="364.8" cy="93.4" r="2.1"/><circle cx="359.2" cy="130.8" r="2.1"/><circle cx="359.1" cy="82.6" r="2.1"/><circle cx="360.1" cy="126.9" r="2.1"/><circle cx="352.2" cy="134.0" r="2.1"/><circle cx="357.2" cy="69.3" r="2.1"/><circle cx="362.6" cy="124.5" r="2.1"/><circle cx="360.7" cy="97.0" r="2.1"/><circle cx="364.1" cy="131.6" r="2.1"/><circle cx="355.9" cy="70.5" r="2.1"/><circle cx="358.3" cy="134.5" r="2.1"/><circle cx="354.9" cy="90.0" r="2.1"/><circle cx="354.2" cy="79.6" r="2.1"/><circle cx="352.9" cy="116.0" r="2.1"/><circle cx="354.4" cy="135.1" r="2.1"/><circle cx="353.9" cy="133.2" r="2.1"/><circle cx="357.7" cy="131.6" r="2.1"/><circle cx="357.4" cy="85.5" r="2.1"/><circle cx="362.3" cy="100.5" r="2.1"/><circle cx="362.5" cy="76.1" r="2.1"/><circle cx="359.2" cy="93.6" r="2.1"/><circle cx="360.8" cy="96.2" r="2.1"/><circle cx="358.2" cy="122.2" r="2.1"/><circle cx="355.9" cy="120.8" r="2.1"/><circle cx="358.6" cy="70.6" r="2.1"/><circle cx="360.4" cy="72.4" r="2.1"/><circle cx="365.0" cy="106.6" r="2.1"/><circle cx="363.0" cy="82.8" r="2.1"/><circle cx="352.5" cy="87.8" r="2.1"/><circle cx="360.6" cy="117.2" r="2.1"/><circle cx="352.9" cy="122.4" r="2.1"/><circle cx="360.3" cy="85.9" r="2.1"/><circle cx="363.5" cy="71.7" r="2.1"/><circle cx="361.4" cy="70.3" r="2.1"/><circle cx="353.3" cy="111.9" r="2.1"/><circle cx="357.5" cy="131.3" r="2.1"/><circle cx="354.3" cy="114.4" r="2.1"/><circle cx="360.8" cy="131.0" r="2.1"/><circle cx="361.5" cy="70.0" r="2.1"/><circle cx="361.9" cy="115.2" r="2.1"/><circle cx="356.6" cy="79.3" r="2.1"/><circle cx="360.0" cy="119.3" r="2.1"/><circle cx="354.5" cy="71.9" r="2.1"/><circle cx="364.6" cy="103.2" r="2.1"/><circle cx="364.7" cy="80.3" r="2.1"/><circle cx="352.0" cy="95.8" r="2.1"/><circle cx="359.5" cy="84.8" r="2.1"/><circle cx="361.7" cy="130.8" r="2.1"/><circle cx="354.8" cy="129.8" r="2.1"/><circle cx="352.1" cy="111.9" r="2.1"/><circle cx="351.6" cy="77.4" r="2.1"/><circle cx="361.5" cy="75.2" r="2.1"/><circle cx="351.8" cy="88.4" r="2.1"/><circle cx="357.0" cy="95.9" r="2.1"/><circle cx="362.8" cy="132.4" r="2.1"/><circle cx="352.3" cy="74.0" r="2.1"/><circle cx="361.5" cy="91.8" r="2.1"/><circle cx="357.6" cy="94.7" r="2.1"/><circle cx="357.1" cy="79.7" r="2.1"/><circle cx="358.4" cy="119.9" r="2.1"/><circle cx="356.5" cy="94.5" r="2.1"/><circle cx="363.7" cy="90.3" r="2.1"/><circle cx="361.0" cy="85.4" r="2.1"/><circle cx="357.0" cy="129.4" r="2.1"/><circle cx="353.3" cy="87.3" r="2.1"/><circle cx="358.7" cy="75.7" r="2.1"/><circle cx="365.6" cy="93.9" r="2.1"/><circle cx="364.1" cy="124.4" r="2.1"/><circle cx="352.6" cy="74.6" r="2.1"/><circle cx="356.6" cy="128.9" r="2.1"/><circle cx="358.2" cy="120.3" r="2.1"/><circle cx="357.3" cy="78.9" r="2.1"/><circle cx="353.2" cy="96.5" r="2.1"/><circle cx="354.2" cy="113.4" r="2.1"/><circle cx="359.1" cy="82.3" r="2.1"/><circle cx="361.7" cy="92.6" r="2.1"/><circle cx="361.6" cy="127.8" r="2.1"/><circle cx="361.0" cy="120.2" r="2.1"/><circle cx="361.0" cy="81.8" r="2.1"/><circle cx="351.7" cy="81.8" r="2.1"/><circle cx="354.7" cy="130.7" r="2.1"/><circle cx="356.3" cy="101.0" r="2.1"/><circle cx="355.2" cy="88.3" r="2.1"/><circle cx="357.0" cy="114.0" r="2.1"/><circle cx="357.2" cy="131.5" r="2.1"/><circle cx="356.4" cy="107.9" r="2.1"/><circle cx="351.7" cy="73.5" r="2.1"/><circle cx="363.7" cy="87.1" r="2.1"/><circle cx="365.0" cy="121.5" r="2.1"/><circle cx="360.2" cy="79.5" r="2.1"/><circle cx="355.4" cy="91.3" r="2.1"/><circle cx="357.9" cy="116.4" r="2.1"/><circle cx="364.4" cy="117.8" r="2.1"/><circle cx="360.0" cy="123.9" r="2.1"/><circle cx="361.4" cy="108.8" r="2.1"/><circle cx="361.4" cy="111.7" r="2.1"/><circle cx="365.3" cy="116.7" r="2.1"/><circle cx="360.8" cy="77.6" r="2.1"/><circle cx="353.1" cy="85.1" r="2.1"/><circle cx="358.7" cy="102.9" r="2.1"/><circle cx="364.5" cy="71.7" r="2.1"/><circle cx="353.4" cy="90.9" r="2.1"/><circle cx="352.3" cy="72.4" r="2.1"/><circle cx="352.3" cy="80.9" r="2.1"/><circle cx="352.6" cy="93.5" r="2.1"/><circle cx="353.9" cy="89.6" r="2.1"/><circle cx="362.4" cy="84.2" r="2.1"/><circle cx="360.0" cy="85.3" r="2.1"/><circle cx="361.8" cy="77.6" r="2.1"/><circle cx="359.4" cy="113.1" r="2.1"/><circle cx="356.6" cy="111.5" r="2.1"/><circle cx="362.6" cy="119.2" r="2.1"/><circle cx="354.0" cy="74.4" r="2.1"/><circle cx="356.6" cy="75.6" r="2.1"/><circle cx="357.4" cy="106.3" r="2.1"/><circle cx="361.1" cy="109.0" r="2.1"/><circle cx="362.3" cy="126.8" r="2.1"/><circle cx="359.5" cy="70.9" r="2.1"/><circle cx="360.1" cy="91.0" r="2.1"/><circle cx="355.5" cy="71.6" r="2.1"/><circle cx="359.9" cy="93.7" r="2.1"/><circle cx="363.4" cy="101.5" r="2.1"/><circle cx="357.8" cy="85.9" r="2.1"/><circle cx="362.1" cy="76.7" r="2.1"/><circle cx="358.7" cy="79.5" r="2.1"/><circle cx="358.8" cy="112.7" r="2.1"/><circle cx="360.1" cy="102.0" r="2.1"/><circle cx="353.6" cy="72.9" r="2.1"/><circle cx="354.6" cy="102.0" r="2.1"/><circle cx="354.1" cy="82.4" r="2.1"/><circle cx="359.1" cy="100.8" r="2.1"/><circle cx="361.0" cy="80.3" r="2.1"/><circle cx="361.5" cy="131.1" r="2.1"/><circle cx="354.5" cy="135.6" r="2.1"/><circle cx="356.3" cy="129.6" r="2.1"/><circle cx="353.6" cy="106.7" r="2.1"/><circle cx="360.8" cy="111.2" r="2.1"/><circle cx="357.5" cy="71.9" r="2.1"/><circle cx="355.4" cy="69.4" r="2.1"/><circle cx="354.7" cy="126.7" r="2.1"/><circle cx="364.9" cy="80.2" r="2.1"/><circle cx="358.3" cy="101.8" r="2.1"/><circle cx="365.5" cy="79.8" r="2.1"/><circle cx="356.1" cy="111.1" r="2.1"/><circle cx="354.6" cy="84.3" r="2.1"/><circle cx="361.6" cy="135.3" r="2.1"/><circle cx="364.4" cy="104.6" r="2.1"/><circle cx="353.9" cy="113.5" r="2.1"/><circle cx="363.7" cy="118.9" r="2.1"/><circle cx="359.8" cy="115.7" r="2.1"/><circle cx="364.3" cy="107.8" r="2.1"/><circle cx="364.8" cy="102.7" r="2.1"/><circle cx="357.6" cy="100.8" r="2.1"/><circle cx="364.8" cy="86.9" r="2.1"/><circle cx="354.1" cy="80.7" r="2.1"/><circle cx="357.8" cy="71.8" r="2.1"/><circle cx="357.8" cy="91.2" r="2.1"/><circle cx="355.0" cy="118.6" r="2.1"/><circle cx="358.4" cy="97.2" r="2.1"/><circle cx="362.1" cy="106.5" r="2.1"/><circle cx="353.1" cy="120.0" r="2.1"/><circle cx="358.3" cy="113.6" r="2.1"/><circle cx="359.0" cy="120.4" r="2.1"/><circle cx="354.4" cy="99.9" r="2.1"/><circle cx="360.6" cy="131.3" r="2.1"/><circle cx="355.1" cy="99.6" r="2.1"/><circle cx="359.6" cy="108.3" r="2.1"/><circle cx="359.6" cy="135.2" r="2.1"/><circle cx="362.1" cy="117.3" r="2.1"/><circle cx="364.7" cy="71.2" r="2.1"/><circle cx="364.6" cy="97.2" r="2.1"/><circle cx="358.6" cy="131.3" r="2.1"/><circle cx="355.3" cy="65.1" r="2.1"/><circle cx="355.0" cy="64.2" r="2.1"/><circle cx="362.6" cy="68.3" r="2.1"/><circle cx="362.2" cy="66.3" r="2.1"/><circle cx="362.7" cy="67.7" r="2.1"/><circle cx="363.3" cy="65.3" r="2.1"/><circle cx="359.5" cy="63.3" r="2.1"/><circle cx="364.2" cy="67.5" r="2.1"/><circle cx="360.8" cy="68.2" r="2.1"/><circle cx="360.4" cy="68.2" r="2.1"/><circle cx="363.3" cy="64.8" r="2.1"/><circle cx="360.7" cy="68.7" r="2.1"/><circle cx="362.4" cy="65.5" r="2.1"/><circle cx="364.6" cy="63.4" r="2.1"/><circle cx="357.1" cy="63.7" r="2.1"/><circle cx="362.1" cy="64.4" r="2.1"/><circle cx="355.8" cy="69.1" r="2.1"/><circle cx="358.4" cy="66.1" r="2.1"/><circle cx="363.8" cy="67.5" r="2.1"/><circle cx="365.2" cy="65.5" r="2.1"/><circle cx="364.9" cy="68.1" r="2.1"/><circle cx="362.2" cy="68.3" r="2.1"/><circle cx="363.5" cy="62.4" r="2.1"/><circle cx="364.0" cy="62.9" r="2.1"/><circle cx="360.1" cy="68.5" r="2.1"/><circle cx="355.0" cy="63.3" r="2.1"/><circle cx="351.8" cy="68.7" r="2.1"/><circle cx="362.3" cy="66.8" r="2.1"/><circle cx="362.2" cy="62.1" r="2.1"/><circle cx="361.8" cy="62.5" r="2.1"/><circle cx="359.7" cy="65.9" r="2.1"/><circle cx="360.8" cy="64.2" r="2.1"/><circle cx="361.7" cy="66.5" r="2.1"/><circle cx="359.0" cy="63.1" r="2.1"/><circle cx="360.8" cy="67.0" r="2.1"/><circle cx="354.7" cy="67.7" r="2.1"/><circle cx="359.1" cy="68.2" r="2.1"/><circle cx="360.4" cy="64.7" r="2.1"/><circle cx="359.6" cy="65.2" r="2.1"/><circle cx="355.2" cy="62.8" r="2.1"/><circle cx="353.4" cy="68.2" r="2.1"/><circle cx="360.8" cy="63.5" r="2.1"/><circle cx="353.2" cy="62.5" r="2.1"/><circle cx="362.7" cy="63.9" r="2.1"/><circle cx="354.1" cy="68.4" r="2.1"/><circle cx="362.4" cy="61.6" r="2.1"/><circle cx="356.6" cy="61.8" r="2.1"/><circle cx="364.2" cy="61.0" r="2.1"/><circle cx="354.8" cy="59.7" r="2.1"/><circle cx="353.8" cy="61.6" r="2.1"/><circle cx="361.1" cy="60.7" r="2.1"/><circle cx="362.4" cy="143.5" r="2.1"/><circle cx="356.5" cy="138.3" r="2.1"/><circle cx="358.2" cy="143.0" r="2.1"/><circle cx="360.9" cy="137.3" r="2.1"/><circle cx="355.7" cy="138.8" r="2.1"/><circle cx="357.0" cy="142.3" r="2.1"/><circle cx="359.5" cy="138.1" r="2.1"/><circle cx="355.8" cy="141.0" r="2.1"/><circle cx="353.6" cy="139.5" r="2.1"/><circle cx="364.3" cy="139.3" r="2.1"/><circle cx="353.3" cy="141.6" r="2.1"/><circle cx="365.4" cy="140.4" r="2.1"/><circle cx="363.4" cy="137.4" r="2.1"/><circle cx="357.9" cy="136.8" r="2.1"/><circle cx="363.6" cy="136.9" r="2.1"/><circle cx="352.5" cy="139.2" r="2.1"/><circle cx="359.5" cy="136.7" r="2.1"/><circle cx="356.5" cy="142.7" r="2.1"/><circle cx="355.8" cy="135.8" r="2.1"/><circle cx="364.1" cy="143.5" r="2.1"/><circle cx="352.1" cy="136.5" r="2.1"/><circle cx="363.7" cy="137.4" r="2.1"/><circle cx="352.7" cy="140.6" r="2.1"/><circle cx="361.1" cy="137.4" r="2.1"/><circle cx="355.6" cy="136.0" r="2.1"/><circle cx="359.0" cy="155.8" r="2.1"/><circle cx="364.6" cy="148.8" r="2.1"/><circle cx="362.8" cy="158.1" r="2.1"/><circle cx="353.0" cy="148.6" r="2.1"/><circle cx="355.9" cy="157.3" r="2.1"/><circle cx="358.4" cy="148.6" r="2.1"/><circle cx="361.6" cy="157.7" r="2.1"/><circle cx="351.7" cy="152.4" r="2.1"/><circle cx="363.7" cy="145.7" r="2.1"/><circle cx="363.4" cy="153.7" r="2.1"/><circle cx="365.0" cy="144.3" r="2.1"/><circle cx="354.4" cy="151.4" r="2.1"/><circle cx="354.6" cy="155.5" r="2.1"/><circle cx="363.3" cy="144.7" r="2.1"/></g>
<g fill="#000" fill-opacity="0.6"><circle cx="350.3" cy="52.7" r="2.1"/></g>
<g fill="#ec2e2e" fill-opacity="0.75"><circle cx="395.4" cy="104.2" r="2.2"/><circle cx="396.8" cy="118.0" r="2.2"/><circle cx="395.8" cy="129.7" r="2.2"/><circle cx="396.4" cy="119.5" r="2.2"/><circle cx="401.4" cy="96.0" r="2.2"/><circle cx="393.9" cy="93.1" r="2.2"/><circle cx="401.1" cy="112.4" r="2.2"/><circle cx="396.4" cy="83.6" r="2.2"/><circle cx="392.8" cy="104.5" r="2.2"/><circle cx="393.2" cy="104.1" r="2.2"/><circle cx="404.1" cy="110.4" r="2.2"/><circle cx="392.1" cy="109.9" r="2.2"/><circle cx="395.4" cy="112.2" r="2.2"/><circle cx="403.6" cy="88.4" r="2.2"/><circle cx="392.6" cy="108.0" r="2.2"/><circle cx="394.5" cy="118.7" r="2.2"/><circle cx="395.3" cy="108.3" r="2.2"/><circle cx="403.2" cy="83.2" r="2.2"/><circle cx="393.1" cy="97.9" r="2.2"/><circle cx="404.7" cy="125.2" r="2.2"/><circle cx="393.2" cy="109.1" r="2.2"/><circle cx="399.4" cy="106.7" r="2.2"/><circle cx="402.3" cy="129.8" r="2.2"/><circle cx="399.3" cy="81.4" r="2.2"/><circle cx="398.6" cy="83.7" r="2.2"/><circle cx="397.6" cy="125.4" r="2.2"/><circle cx="395.0" cy="102.3" r="2.2"/><circle cx="405.4" cy="114.6" r="2.2"/><circle cx="397.2" cy="119.7" r="2.2"/><circle cx="400.5" cy="116.5" r="2.2"/><circle cx="399.7" cy="127.8" r="2.2"/><circle cx="405.0" cy="95.4" r="2.2"/><circle cx="394.9" cy="111.8" r="2.2"/><circle cx="393.7" cy="94.8" r="2.2"/><circle cx="404.1" cy="88.9" r="2.2"/><circle cx="398.6" cy="101.3" r="2.2"/><circle cx="400.5" cy="113.0" r="2.2"/><circle cx="400.3" cy="123.4" r="2.2"/><circle cx="402.5" cy="97.3" r="2.2"/><circle cx="403.2" cy="96.1" r="2.2"/><circle cx="401.3" cy="90.6" r="2.2"/><circle cx="391.6" cy="123.5" r="2.2"/><circle cx="403.2" cy="128.2" r="2.2"/><circle cx="392.1" cy="85.6" r="2.2"/><circle cx="403.5" cy="99.6" r="2.2"/><circle cx="391.5" cy="125.7" r="2.2"/><circle cx="402.3" cy="94.3" r="2.2"/><circle cx="400.4" cy="127.7" r="2.2"/><circle cx="391.9" cy="98.2" r="2.2"/><circle cx="402.1" cy="102.2" r="2.2"/><circle cx="399.6" cy="94.0" r="2.2"/><circle cx="393.2" cy="125.7" r="2.2"/><circle cx="403.8" cy="84.1" r="2.2"/><circle cx="399.8" cy="82.5" r="2.2"/><circle cx="398.0" cy="80.2" r="2.2"/><circle cx="404.7" cy="91.4" r="2.2"/><circle cx="394.3" cy="114.6" r="2.2"/><circle cx="394.0" cy="80.5" r="2.2"/><circle cx="404.0" cy="99.2" r="2.2"/><circle cx="393.7" cy="93.8" r="2.2"/><circle cx="402.9" cy="96.7" r="2.2"/><circle cx="394.4" cy="120.0" r="2.2"/><circle cx="402.9" cy="86.9" r="2.2"/><circle cx="397.2" cy="97.5" r="2.2"/><circle cx="400.1" cy="119.3" r="2.2"/><circle cx="400.0" cy="111.2" r="2.2"/><circle cx="397.0" cy="123.2" r="2.2"/><circle cx="398.8" cy="108.4" r="2.2"/><circle cx="400.6" cy="80.0" r="2.2"/><circle cx="393.4" cy="110.9" r="2.2"/><circle cx="404.3" cy="110.3" r="2.2"/><circle cx="403.0" cy="89.5" r="2.2"/><circle cx="394.4" cy="126.3" r="2.2"/><circle cx="394.7" cy="124.4" r="2.2"/><circle cx="397.0" cy="92.4" r="2.2"/><circle cx="402.3" cy="123.9" r="2.2"/><circle cx="398.7" cy="99.3" r="2.2"/><circle cx="395.9" cy="88.8" r="2.2"/><circle cx="402.3" cy="101.8" r="2.2"/><circle cx="394.2" cy="126.4" r="2.2"/><circle cx="401.4" cy="120.0" r="2.2"/><circle cx="402.1" cy="102.9" r="2.2"/><circle cx="392.9" cy="81.8" r="2.2"/><circle cx="399.5" cy="97.1" r="2.2"/><circle cx="399.8" cy="94.9" r="2.2"/><circle cx="405.1" cy="100.1" r="2.2"/><circle cx="395.7" cy="113.9" r="2.2"/><circle cx="397.9" cy="99.5" r="2.2"/><circle cx="404.6" cy="130.1" r="2.2"/><circle cx="393.3" cy="109.4" r="2.2"/><circle cx="404.1" cy="89.1" r="2.2"/><circle cx="396.6" cy="120.1" r="2.2"/><circle cx="396.3" cy="97.4" r="2.2"/><circle cx="405.4" cy="93.7" r="2.2"/><circle cx="397.0" cy="122.5" r="2.2"/><circle cx="395.0" cy="71.5" r="2.2"/><circle cx="394.4" cy="77.2" r="2.2"/><circle cx="401.2" cy="70.6" r="2.2"/><circle cx="400.4" cy="76.3" r="2.2"/><circle cx="394.8" cy="73.8" r="2.2"/><circle cx="398.4" cy="70.7" r="2.2"/><circle cx="395.5" cy="71.9" r="2.2"/><circle cx="403.2" cy="145.3" r="2.2"/><circle cx="396.5" cy="153.6" r="2.2"/><circle cx="400.1" cy="141.6" r="2.2"/><circle cx="404.3" cy="142.3" r="2.2"/><circle cx="394.8" cy="157.3" r="2.2"/><circle cx="404.8" cy="148.2" r="2.2"/><circle cx="398.3" cy="132.8" r="2.2"/><circle cx="400.5" cy="144.1" r="2.2"/><circle cx="395.3" cy="154.0" r="2.2"/><circle cx="401.2" cy="140.7" r="2.2"/><circle cx="401.6" cy="146.2" r="2.2"/><circle cx="399.8" cy="133.0" r="2.2"/><circle cx="403.6" cy="145.1" r="2.2"/><circle cx="398.1" cy="158.4" r="2.2"/><circle cx="391.7" cy="154.5" r="2.2"/><circle cx="404.3" cy="154.1" r="2.2"/><circle cx="399.5" cy="131.9" r="2.2"/><circle cx="400.1" cy="148.9" r="2.2"/><circle cx="399.9" cy="149.2" r="2.2"/><circle cx="392.1" cy="131.2" r="2.2"/><circle cx="395.5" cy="153.3" r="2.2"/><circle cx="392.8" cy="141.4" r="2.2"/><circle cx="400.6" cy="132.0" r="2.2"/><circle cx="403.5" cy="133.1" r="2.2"/><circle cx="400.7" cy="154.6" r="2.2"/><circle cx="402.9" cy="145.7" r="2.2"/><circle cx="396.2" cy="151.9" r="2.2"/><circle cx="391.9" cy="139.1" r="2.2"/><circle cx="397.2" cy="152.1" r="2.2"/><circle cx="393.9" cy="154.1" r="2.2"/><circle cx="395.8" cy="151.4" r="2.2"/><circle cx="394.8" cy="155.4" r="2.2"/><circle cx="394.0" cy="138.7" r="2.2"/><circle cx="401.1" cy="151.2" r="2.2"/><circle cx="399.9" cy="147.7" r="2.2"/></g>
<rect x="457" y="42.3" width="88.5" height="135.5" fill="#e4e5e6"/>
<line x1="457" x2="545.5" y1="156.09" y2="156.09" stroke="#f6f6f6" stroke-width="0.5"/>
<line x1="457" x2="545.5" y1="125.43" y2="125.43" stroke="#f6f6f6" stroke-width="0.5"/>
<line x1="457" x2="545.5" y1="94.77" y2="94.77" stroke="#f6f6f6" stroke-width="0.5"/>
<line x1="457" x2="545.5" y1="64.11" y2="64.11" stroke="#f6f6f6" stroke-width="0.5"/>
<line x1="457" x2="545.5" y1="171.42" y2="171.42" stroke="#f6f6f6" stroke-width="1"/>
<line x1="457" x2="545.5" y1="140.76" y2="140.76" stroke="#f6f6f6" stroke-width="1"/>
<line x1="457" x2="545.5" y1="110.10" y2="110.10" stroke="#f6f6f6" stroke-width="1"/>
<line x1="457" x2="545.5" y1="79.44" y2="79.44" stroke="#f6f6f6" stroke-width="1"/>
<line x1="457" x2="545.5" y1="48.78" y2="48.78" stroke="#f6f6f6" stroke-width="1"/>
<line y1="42.3" y2="177.8" x1="481.00" x2="481.00" stroke="#f6f6f6" stroke-width="1"/>
<line y1="42.3" y2="177.8" x1="521.30" x2="521.30" stroke="#f6f6f6" stroke-width="1"/>
<line x1="454.5" x2="457" y1="171.42" y2="171.42" stroke="#444" stroke-width="0.6"/>
<line x1="454.5" x2="457" y1="140.76" y2="140.76" stroke="#444" stroke-width="0.6"/>
<line x1="454.5" x2="457" y1="110.10" y2="110.10" stroke="#444" stroke-width="0.6"/>
<line x1="454.5" x2="457" y1="79.44" y2="79.44" stroke="#444" stroke-width="0.6"/>
<line x1="454.5" x2="457" y1="48.78" y2="48.78" stroke="#444" stroke-width="0.6"/>
<line y1="177.8" y2="180.3" x1="481.00" x2="481.00" stroke="#444" stroke-width="0.6"/>
<line y1="177.8" y2="180.3" x1="521.30" x2="521.30" stroke="#444" stroke-width="0.6"/>
<text transform="translate(453.80 175.63) scale(0.82 1)" font-size="11.7" font-weight="bold" text-anchor="end" fill="#111">-0.6</text>
<text transform="translate(453.80 144.97) scale(0.82 1)" font-size="11.7" font-weight="bold" text-anchor="end" fill="#111">-0.3</text>
<text transform="translate(453.80 114.31) scale(0.82 1)" font-size="11.7" font-weight="bold" text-anchor="end" fill="#111">0.0</text>
<text transform="translate(453.80 83.65) scale(0.82 1)" font-size="11.7" font-weight="bold" text-anchor="end" fill="#111">0.3</text>
<text transform="translate(453.80 52.99) scale(0.82 1)" font-size="11.7" font-weight="bold" text-anchor="end" fill="#111">0.6</text>
<path d="M480.1 55.8V51.5H517.7V55.8" fill="none" stroke="#111" stroke-width="1"/>
<text x="498.6" y="48.7" font-size="8.8" font-weight="bold" text-anchor="middle" letter-spacing="1.2" fill="#222">**</text>
<line x1="481.00" x2="481.00" y1="62.07" y2="84.96" stroke="#222" stroke-width="1.0"/>
<line x1="481.00" x2="481.00" y1="111.63" y2="154.05" stroke="#222" stroke-width="1.0"/>
<rect x="465.75" y="84.96" width="30.50" height="26.67" fill="#fff" stroke="#222" stroke-width="1.0"/>
<line x1="465.75" x2="496.25" y1="97.84" y2="97.84" stroke="#222" stroke-width="1.6"/>
<line x1="521.30" x2="521.30" y1="66.66" y2="100.29" stroke="#ec2e2e" stroke-width="1.0"/>
<line x1="521.30" x2="521.30" y1="128.39" y2="154.05" stroke="#ec2e2e" stroke-width="1.0"/>
<rect x="506.05" y="100.29" width="30.50" height="28.11" fill="#fff" stroke="#ec2e2e" stroke-width="1.0"/>
<line x1="506.05" x2="536.55" y1="114.70" y2="114.70" stroke="#ec2e2e" stroke-width="1.6"/>
<g fill="#000" fill-opacity="0.6"><circle cx="483.3" cy="81.9" r="2.1"/><circle cx="479.3" cy="70.3" r="2.1"/><circle cx="485.2" cy="123.8" r="2.1"/><circle cx="485.1" cy="73.7" r="2.1"/><circle cx="483.8" cy="85.8" r="2.1"/><circle cx="477.3" cy="100.5" r="2.1"/><circle cx="475.3" cy="71.2" r="2.1"/><circle cx="486.0" cy="104.1" r="2.1"/><circle cx="486.4" cy="138.7" r="2.1"/><circle cx="478.8" cy="131.8" r="2.1"/><circle cx="479.4" cy="118.4" r="2.1"/><circle cx="479.6" cy="90.9" r="2.1"/><circle cx="477.9" cy="100.2" r="2.1"/><circle cx="487.1" cy="91.9" r="2.1"/><circle cx="481.4" cy="139.4" r="2.1"/><circle cx="483.9" cy="123.0" r="2.1"/><circle cx="482.5" cy="101.1" r="2.1"/><circle cx="475.3" cy="93.9" r="2.1"/><circle cx="475.0" cy="109.9" r="2.1"/><circle cx="476.1" cy="125.1" r="2.1"/><circle cx="481.0" cy="118.6" r="2.1"/><circle cx="482.8" cy="86.3" r="2.1"/><circle cx="487.9" cy="89.4" r="2.1"/><circle cx="486.6" cy="123.1" r="2.1"/><circle cx="484.3" cy="72.8" r="2.1"/><circle cx="479.4" cy="137.6" r="2.1"/><circle cx="478.8" cy="124.0" r="2.1"/><circle cx="483.8" cy="109.4" r="2.1"/><circle cx="478.8" cy="83.2" r="2.1"/><circle cx="484.7" cy="100.3" r="2.1"/><circle cx="484.2" cy="92.4" r="2.1"/><circle cx="475.7" cy="72.7" r="2.1"/><circle cx="485.3" cy="114.5" r="2.1"/><circle cx="475.3" cy="127.8" r="2.1"/><circle cx="478.4" cy="111.5" r="2.1"/><circle cx="487.7" cy="100.5" r="2.1"/><circle cx="483.1" cy="131.1" r="2.1"/><circle cx="486.0" cy="138.0" r="2.1"/><circle cx="487.0" cy="88.8" r="2.1"/><circle cx="477.7" cy="70.0" r="2.1"/><circle cx="485.1" cy="74.1" r="2.1"/><circle cx="479.2" cy="113.8" r="2.1"/><circle cx="474.9" cy="108.3" r="2.1"/><circle cx="475.5" cy="81.5" r="2.1"/><circle cx="475.8" cy="70.3" r="2.1"/><circle cx="482.8" cy="115.3" r="2.1"/><circle cx="483.0" cy="72.7" r="2.1"/><circle cx="485.9" cy="90.8" r="2.1"/><circle cx="478.1" cy="130.2" r="2.1"/><circle cx="484.7" cy="108.5" r="2.1"/><circle cx="477.7" cy="140.5" r="2.1"/><circle cx="478.4" cy="111.6" r="2.1"/><circle cx="483.2" cy="103.3" r="2.1"/><circle cx="479.5" cy="83.7" r="2.1"/><circle cx="488.0" cy="117.1" r="2.1"/><circle cx="478.4" cy="94.3" r="2.1"/><circle cx="477.3" cy="93.3" r="2.1"/><circle cx="486.3" cy="103.3" r="2.1"/><circle cx="486.2" cy="96.9" r="2.1"/><circle cx="476.3" cy="107.9" r="2.1"/><circle cx="478.7" cy="97.1" r="2.1"/><circle cx="481.1" cy="107.8" r="2.1"/><circle cx="474.9" cy="75.5" r="2.1"/><circle cx="479.2" cy="132.7" r="2.1"/><circle cx="484.8" cy="79.0" r="2.1"/><circle cx="484.8" cy="87.5" r="2.1"/><circle cx="476.1" cy="140.0" r="2.1"/><circle cx="478.2" cy="89.3" r="2.1"/><circle cx="477.8" cy="114.8" r="2.1"/><circle cx="483.6" cy="104.5" r="2.1"/><circle cx="475.8" cy="103.7" r="2.1"/><circle cx="487.8" cy="88.2" r="2.1"/><circle cx="475.6" cy="106.0" r="2.1"/><circle cx="481.4" cy="95.3" r="2.1"/><circle cx="483.8" cy="125.1" r="2.1"/><circle cx="487.3" cy="135.7" r="2.1"/><circle cx="482.6" cy="93.0" r="2.1"/><circle cx="486.0" cy="70.0" r="2.1"/><circle cx="481.4" cy="135.2" r="2.1"/><circle cx="477.1" cy="75.6" r="2.1"/><circle cx="479.9" cy="113.3" r="2.1"/><circle cx="482.5" cy="94.0" r="2.1"/><circle cx="481.4" cy="121.7" r="2.1"/><circle cx="485.0" cy="91.3" r="2.1"/><circle cx="481.6" cy="109.6" r="2.1"/><circle cx="479.4" cy="83.9" r="2.1"/><circle cx="481.2" cy="120.9" r="2.1"/><circle cx="481.3" cy="116.9" r="2.1"/><circle cx="474.1" cy="96.0" r="2.1"/><circle cx="478.6" cy="133.2" r="2.1"/><circle cx="482.0" cy="71.0" r="2.1"/><circle cx="484.0" cy="97.3" r="2.1"/><circle cx="480.0" cy="71.2" r="2.1"/><circle cx="484.4" cy="128.0" r="2.1"/><circle cx="481.0" cy="90.0" r="2.1"/><circle cx="479.2" cy="126.3" r="2.1"/><circle cx="477.4" cy="134.8" r="2.1"/><circle cx="485.2" cy="109.1" r="2.1"/><circle cx="486.9" cy="107.0" r="2.1"/><circle cx="484.2" cy="100.8" r="2.1"/><circle cx="477.1" cy="107.4" r="2.1"/><circle cx="483.9" cy="126.8" r="2.1"/><circle cx="481.1" cy="92.0" r="2.1"/><circle cx="486.9" cy="121.7" r="2.1"/><circle cx="474.1" cy="120.0" r="2.1"/><circle cx="484.8" cy="84.9" r="2.1"/><circle cx="480.5" cy="92.0" r="2.1"/><circle cx="486.0" cy="88.7" r="2.1"/><circle cx="482.5" cy="74.8" r="2.1"/><circle cx="474.1" cy="79.8" r="2.1"/><circle cx="483.7" cy="125.1" r="2.1"/><circle cx="481.5" cy="70.9" r="2.1"/><circle cx="477.3" cy="103.6" r="2.1"/><circle cx="475.7" cy="100.8" r="2.1"/><circle cx="479.6" cy="120.8" r="2.1"/><circle cx="481.9" cy="113.0" r="2.1"/><circle cx="480.7" cy="100.9" r="2.1"/><circle cx="474.2" cy="138.4" r="2.1"/><circle cx="476.1" cy="89.2" r="2.1"/><circle cx="483.5" cy="115.8" r="2.1"/><circle cx="481.6" cy="91.3" r="2.1"/><circle cx="484.4" cy="88.4" r="2.1"/><circle cx="479.8" cy="96.5" r="2.1"/><circle cx="477.6" cy="135.4" r="2.1"/><circle cx="485.2" cy="100.5" r="2.1"/><circle cx="477.1" cy="115.4" r="2.1"/><circle cx="474.8" cy="89.6" r="2.1"/><circle cx="479.2" cy="89.9" r="2.1"/><circle cx="480.3" cy="104.8" r="2.1"/><circle cx="476.9" cy="88.4" r="2.1"/><circle cx="487.4" cy="130.5" r="2.1"/><circle cx="477.2" cy="82.4" r="2.1"/><circle cx="475.7" cy="71.4" r="2.1"/><circle cx="483.3" cy="76.3" r="2.1"/><circle cx="476.0" cy="82.7" r="2.1"/><circle cx="477.9" cy="111.8" r="2.1"/><circle cx="479.8" cy="74.0" r="2.1"/><circle cx="477.8" cy="100.5" r="2.1"/><circle cx="483.2" cy="125.4" r="2.1"/><circle cx="476.0" cy="102.0" r="2.1"/><circle cx="483.0" cy="79.9" r="2.1"/><circle cx="475.6" cy="92.3" r="2.1"/><circle cx="482.1" cy="81.2" r="2.1"/><circle cx="487.7" cy="138.2" r="2.1"/><circle cx="485.0" cy="71.4" r="2.1"/><circle cx="487.2" cy="74.8" r="2.1"/><circle cx="481.6" cy="104.8" r="2.1"/><circle cx="476.2" cy="74.7" r="2.1"/><circle cx="479.2" cy="127.7" r="2.1"/><circle cx="484.9" cy="114.6" r="2.1"/><circle cx="475.8" cy="128.7" r="2.1"/><circle cx="483.3" cy="92.8" r="2.1"/><circle cx="478.5" cy="75.1" r="2.1"/><circle cx="486.8" cy="74.1" r="2.1"/><circle cx="478.9" cy="135.0" r="2.1"/><circle cx="478.5" cy="85.8" r="2.1"/><circle cx="477.8" cy="100.8" r="2.1"/><circle cx="481.6" cy="125.0" r="2.1"/><circle cx="487.3" cy="76.7" r="2.1"/><circle cx="481.6" cy="102.9" r="2.1"/><circle cx="484.4" cy="137.8" r="2.1"/><circle cx="481.3" cy="113.9" r="2.1"/><circle cx="475.2" cy="91.9" r="2.1"/><circle cx="482.2" cy="79.9" r="2.1"/><circle cx="482.3" cy="126.5" r="2.1"/><circle cx="482.3" cy="98.4" r="2.1"/><circle cx="478.2" cy="134.6" r="2.1"/><circle cx="477.7" cy="75.5" r="2.1"/><circle cx="478.6" cy="140.1" r="2.1"/><circle cx="474.4" cy="71.3" r="2.1"/><circle cx="476.3" cy="100.3" r="2.1"/><circle cx="478.0" cy="87.0" r="2.1"/><circle cx="481.2" cy="92.9" r="2.1"/><circle cx="486.8" cy="104.6" r="2.1"/><circle cx="483.8" cy="109.4" r="2.1"/><circle cx="481.2" cy="125.9" r="2.1"/><circle cx="484.0" cy="120.3" r="2.1"/><circle cx="480.2" cy="134.0" r="2.1"/><circle cx="474.7" cy="121.6" r="2.1"/><circle cx="483.6" cy="94.0" r="2.1"/><circle cx="483.9" cy="101.3" r="2.1"/><circle cx="483.2" cy="100.2" r="2.1"/><circle cx="485.9" cy="102.9" r="2.1"/><circle cx="484.9" cy="73.1" r="2.1"/><circle cx="485.6" cy="79.9" r="2.1"/><circle cx="474.6" cy="121.9" r="2.1"/><circle cx="488.0" cy="100.9" r="2.1"/><circle cx="482.2" cy="71.4" r="2.1"/><circle cx="482.3" cy="121.6" r="2.1"/><circle cx="482.6" cy="90.6" r="2.1"/><circle cx="477.8" cy="94.4" r="2.1"/><circle cx="478.2" cy="92.9" r="2.1"/><circle cx="486.3" cy="101.0" r="2.1"/><circle cx="482.4" cy="87.8" r="2.1"/><circle cx="487.4" cy="113.9" r="2.1"/><circle cx="476.9" cy="73.7" r="2.1"/><circle cx="482.2" cy="100.2" r="2.1"/><circle cx="482.4" cy="116.6" r="2.1"/><circle cx="474.5" cy="95.1" r="2.1"/><circle cx="482.8" cy="91.7" r="2.1"/><circle cx="479.4" cy="75.0" r="2.1"/><circle cx="480.0" cy="95.3" r="2.1"/><circle cx="476.6" cy="103.4" r="2.1"/><circle cx="482.3" cy="115.5" r="2.1"/><circle cx="483.4" cy="110.3" r="2.1"/><circle cx="486.5" cy="120.3" r="2.1"/><circle cx="485.8" cy="96.4" r="2.1"/><circle cx="487.7" cy="79.1" r="2.1"/><circle cx="487.7" cy="98.4" r="2.1"/><circle cx="483.8" cy="126.2" r="2.1"/><circle cx="477.9" cy="138.2" r="2.1"/><circle cx="481.6" cy="77.9" r="2.1"/><circle cx="475.2" cy="119.6" r="2.1"/><circle cx="481.9" cy="91.5" r="2.1"/><circle cx="478.3" cy="73.1" r="2.1"/><circle cx="481.5" cy="73.5" r="2.1"/><circle cx="484.5" cy="101.1" r="2.1"/><circle cx="474.8" cy="75.4" r="2.1"/><circle cx="486.3" cy="112.0" r="2.1"/><circle cx="474.5" cy="73.5" r="2.1"/><circle cx="480.9" cy="92.2" r="2.1"/><circle cx="477.1" cy="135.0" r="2.1"/><circle cx="474.5" cy="82.7" r="2.1"/><circle cx="480.7" cy="129.3" r="2.1"/><circle cx="477.7" cy="69.4" r="2.1"/><circle cx="475.1" cy="137.2" r="2.1"/><circle cx="485.5" cy="86.6" r="2.1"/><circle cx="477.4" cy="129.8" r="2.1"/><circle cx="487.1" cy="102.1" r="2.1"/><circle cx="482.5" cy="114.1" r="2.1"/><circle cx="479.0" cy="78.1" r="2.1"/><circle cx="474.8" cy="121.2" r="2.1"/><circle cx="486.0" cy="89.2" r="2.1"/><circle cx="475.5" cy="73.5" r="2.1"/><circle cx="484.9" cy="136.2" r="2.1"/><circle cx="481.4" cy="89.7" r="2.1"/><circle cx="480.4" cy="134.8" r="2.1"/><circle cx="475.1" cy="85.0" r="2.1"/><circle cx="479.9" cy="79.5" r="2.1"/><circle cx="474.2" cy="130.8" r="2.1"/><circle cx="484.7" cy="77.5" r="2.1"/><circle cx="483.9" cy="109.4" r="2.1"/><circle cx="475.9" cy="118.7" r="2.1"/><circle cx="481.1" cy="71.7" r="2.1"/><circle cx="476.5" cy="113.3" r="2.1"/><circle cx="484.0" cy="125.8" r="2.1"/><circle cx="476.6" cy="117.2" r="2.1"/><circle cx="476.4" cy="76.0" r="2.1"/><circle cx="478.0" cy="70.4" r="2.1"/><circle cx="487.6" cy="108.2" r="2.1"/><circle cx="485.5" cy="105.4" r="2.1"/><circle cx="479.6" cy="98.0" r="2.1"/><circle cx="485.1" cy="80.7" r="2.1"/><circle cx="479.1" cy="140.1" r="2.1"/><circle cx="476.6" cy="83.8" r="2.1"/><circle cx="486.6" cy="71.2" r="2.1"/><circle cx="474.5" cy="111.8" r="2.1"/><circle cx="485.1" cy="109.4" r="2.1"/><circle cx="487.4" cy="72.2" r="2.1"/><circle cx="475.2" cy="111.7" r="2.1"/><circle cx="486.0" cy="113.8" r="2.1"/><circle cx="484.9" cy="79.3" r="2.1"/><circle cx="474.6" cy="106.9" r="2.1"/><circle cx="480.2" cy="94.5" r="2.1"/><circle cx="477.6" cy="120.3" r="2.1"/><circle cx="479.4" cy="92.1" r="2.1"/><circle cx="479.3" cy="114.4" r="2.1"/><circle cx="479.5" cy="84.7" r="2.1"/><circle cx="474.1" cy="105.5" r="2.1"/><circle cx="477.8" cy="75.0" r="2.1"/><circle cx="478.1" cy="101.6" r="2.1"/><circle cx="483.1" cy="79.4" r="2.1"/><circle cx="483.7" cy="109.3" r="2.1"/><circle cx="484.5" cy="92.9" r="2.1"/><circle cx="482.9" cy="121.7" r="2.1"/><circle cx="486.5" cy="98.8" r="2.1"/><circle cx="481.8" cy="93.3" r="2.1"/><circle cx="478.4" cy="127.1" r="2.1"/><circle cx="474.6" cy="101.9" r="2.1"/><circle cx="484.2" cy="74.8" r="2.1"/><circle cx="481.9" cy="126.3" r="2.1"/><circle cx="476.3" cy="105.8" r="2.1"/><circle cx="481.2" cy="80.9" r="2.1"/><circle cx="487.2" cy="110.3" r="2.1"/><circle cx="482.5" cy="138.6" r="2.1"/><circle cx="478.3" cy="103.2" r="2.1"/><circle cx="485.3" cy="107.7" r="2.1"/><circle cx="479.5" cy="74.4" r="2.1"/><circle cx="474.2" cy="93.3" r="2.1"/><circle cx="475.1" cy="85.2" r="2.1"/><circle cx="487.5" cy="114.4" r="2.1"/><circle cx="475.3" cy="76.6" r="2.1"/><circle cx="485.0" cy="81.5" r="2.1"/><circle cx="474.4" cy="134.2" r="2.1"/><circle cx="479.9" cy="93.5" r="2.1"/><circle cx="477.9" cy="76.1" r="2.1"/><circle cx="478.8" cy="94.2" r="2.1"/><circle cx="475.3" cy="71.3" r="2.1"/><circle cx="479.6" cy="122.1" r="2.1"/><circle cx="484.6" cy="98.7" r="2.1"/><circle cx="481.3" cy="102.6" r="2.1"/><circle cx="475.9" cy="119.6" r="2.1"/><circle cx="485.3" cy="84.9" r="2.1"/><circle cx="486.2" cy="109.9" r="2.1"/><circle cx="480.4" cy="94.3" r="2.1"/><circle cx="479.0" cy="84.8" r="2.1"/><circle cx="474.2" cy="88.7" r="2.1"/><circle cx="475.0" cy="133.6" r="2.1"/><circle cx="479.3" cy="136.8" r="2.1"/><circle cx="475.6" cy="82.1" r="2.1"/><circle cx="487.6" cy="94.2" r="2.1"/><circle cx="483.0" cy="130.2" r="2.1"/><circle cx="478.4" cy="131.5" r="2.1"/><circle cx="482.2" cy="105.2" r="2.1"/><circle cx="476.4" cy="128.0" r="2.1"/><circle cx="486.8" cy="74.2" r="2.1"/><circle cx="481.0" cy="124.7" r="2.1"/><circle cx="483.8" cy="73.2" r="2.1"/><circle cx="476.5" cy="89.6" r="2.1"/><circle cx="480.6" cy="101.0" r="2.1"/><circle cx="484.0" cy="92.7" r="2.1"/><circle cx="479.4" cy="91.3" r="2.1"/><circle cx="474.9" cy="120.4" r="2.1"/><circle cx="480.6" cy="105.8" r="2.1"/><circle cx="485.5" cy="136.0" r="2.1"/><circle cx="480.5" cy="137.3" r="2.1"/><circle cx="487.7" cy="73.3" r="2.1"/><circle cx="481.8" cy="79.9" r="2.1"/><circle cx="486.4" cy="86.8" r="2.1"/><circle cx="474.5" cy="133.3" r="2.1"/><circle cx="482.8" cy="96.1" r="2.1"/><circle cx="481.1" cy="89.6" r="2.1"/><circle cx="479.0" cy="110.0" r="2.1"/><circle cx="486.6" cy="113.7" r="2.1"/><circle cx="475.3" cy="88.8" r="2.1"/><circle cx="480.8" cy="140.0" r="2.1"/><circle cx="478.3" cy="107.1" r="2.1"/><circle cx="487.4" cy="122.4" r="2.1"/><circle cx="484.9" cy="109.0" r="2.1"/><circle cx="476.8" cy="101.2" r="2.1"/><circle cx="475.8" cy="110.7" r="2.1"/><circle cx="474.3" cy="78.0" r="2.1"/><circle cx="476.5" cy="77.7" r="2.1"/><circle cx="487.0" cy="86.4" r="2.1"/><circle cx="486.2" cy="83.9" r="2.1"/><circle cx="485.2" cy="104.9" r="2.1"/><circle cx="479.6" cy="121.4" r="2.1"/><circle cx="480.7" cy="82.4" r="2.1"/><circle cx="482.1" cy="132.4" r="2.1"/><circle cx="485.3" cy="98.3" r="2.1"/><circle cx="474.1" cy="95.5" r="2.1"/><circle cx="476.5" cy="133.0" r="2.1"/><circle cx="482.1" cy="126.1" r="2.1"/><circle cx="476.0" cy="92.7" r="2.1"/><circle cx="487.1" cy="79.4" r="2.1"/><circle cx="474.6" cy="112.8" r="2.1"/><circle cx="487.6" cy="102.8" r="2.1"/><circle cx="477.0" cy="90.1" r="2.1"/><circle cx="476.7" cy="99.1" r="2.1"/><circle cx="479.9" cy="107.6" r="2.1"/><circle cx="482.9" cy="95.1" r="2.1"/><circle cx="487.7" cy="90.0" r="2.1"/><circle cx="480.7" cy="83.5" r="2.1"/><circle cx="486.6" cy="100.6" r="2.1"/><circle cx="486.5" cy="93.5" r="2.1"/><circle cx="487.8" cy="126.8" r="2.1"/><circle cx="479.0" cy="129.2" r="2.1"/><circle cx="480.6" cy="82.8" r="2.1"/><circle cx="474.3" cy="124.8" r="2.1"/><circle cx="479.4" cy="109.5" r="2.1"/><circle cx="479.0" cy="77.5" r="2.1"/><circle cx="475.7" cy="130.3" r="2.1"/><circle cx="485.7" cy="92.2" r="2.1"/><circle cx="477.9" cy="123.0" r="2.1"/><circle cx="475.8" cy="96.0" r="2.1"/><circle cx="475.6" cy="82.3" r="2.1"/><circle cx="474.3" cy="82.1" r="2.1"/><circle cx="484.6" cy="85.1" r="2.1"/><circle cx="481.4" cy="103.7" r="2.1"/><circle cx="481.3" cy="101.9" r="2.1"/><circle cx="479.8" cy="128.5" r="2.1"/><circle cx="487.5" cy="132.4" r="2.1"/><circle cx="479.3" cy="87.3" r="2.1"/><circle cx="480.6" cy="137.0" r="2.1"/><circle cx="483.7" cy="74.0" r="2.1"/><circle cx="487.0" cy="127.5" r="2.1"/><circle cx="486.0" cy="89.2" r="2.1"/><circle cx="486.3" cy="108.7" r="2.1"/><circle cx="476.6" cy="96.9" r="2.1"/><circle cx="487.2" cy="86.6" r="2.1"/><circle cx="485.5" cy="119.6" r="2.1"/><circle cx="478.6" cy="81.7" r="2.1"/><circle cx="485.3" cy="86.7" r="2.1"/><circle cx="487.3" cy="99.2" r="2.1"/><circle cx="484.4" cy="99.7" r="2.1"/><circle cx="484.3" cy="113.3" r="2.1"/><circle cx="485.7" cy="71.4" r="2.1"/><circle cx="486.3" cy="113.0" r="2.1"/><circle cx="484.9" cy="123.5" r="2.1"/><circle cx="475.1" cy="100.8" r="2.1"/><circle cx="476.9" cy="74.9" r="2.1"/><circle cx="475.7" cy="74.5" r="2.1"/><circle cx="480.5" cy="99.4" r="2.1"/><circle cx="474.9" cy="112.7" r="2.1"/><circle cx="481.7" cy="87.3" r="2.1"/><circle cx="486.9" cy="100.8" r="2.1"/><circle cx="487.7" cy="81.9" r="2.1"/><circle cx="474.5" cy="81.2" r="2.1"/><circle cx="483.6" cy="90.5" r="2.1"/><circle cx="476.0" cy="71.2" r="2.1"/><circle cx="486.1" cy="94.4" r="2.1"/><circle cx="474.4" cy="71.0" r="2.1"/><circle cx="475.4" cy="94.1" r="2.1"/><circle cx="478.5" cy="125.1" r="2.1"/><circle cx="474.1" cy="95.9" r="2.1"/><circle cx="483.3" cy="85.8" r="2.1"/><circle cx="476.9" cy="110.5" r="2.1"/><circle cx="484.1" cy="128.8" r="2.1"/><circle cx="487.3" cy="115.6" r="2.1"/><circle cx="480.6" cy="84.8" r="2.1"/><circle cx="480.6" cy="125.9" r="2.1"/><circle cx="488.0" cy="139.9" r="2.1"/><circle cx="478.4" cy="77.9" r="2.1"/><circle cx="486.4" cy="71.2" r="2.1"/><circle cx="484.0" cy="78.6" r="2.1"/><circle cx="474.1" cy="83.4" r="2.1"/><circle cx="478.2" cy="88.6" r="2.1"/><circle cx="484.1" cy="101.3" r="2.1"/><circle cx="474.6" cy="94.1" r="2.1"/><circle cx="486.0" cy="87.4" r="2.1"/><circle cx="486.8" cy="117.3" r="2.1"/><circle cx="484.6" cy="126.1" r="2.1"/><circle cx="485.4" cy="91.1" r="2.1"/><circle cx="482.4" cy="97.6" r="2.1"/><circle cx="485.3" cy="69.9" r="2.1"/><circle cx="480.5" cy="111.1" r="2.1"/><circle cx="479.7" cy="111.1" r="2.1"/><circle cx="483.8" cy="132.0" r="2.1"/><circle cx="480.5" cy="139.7" r="2.1"/><circle cx="478.3" cy="130.8" r="2.1"/><circle cx="477.7" cy="98.4" r="2.1"/><circle cx="480.1" cy="71.8" r="2.1"/><circle cx="479.3" cy="132.7" r="2.1"/><circle cx="484.6" cy="129.3" r="2.1"/><circle cx="485.0" cy="92.0" r="2.1"/><circle cx="485.2" cy="119.1" r="2.1"/><circle cx="485.8" cy="137.5" r="2.1"/><circle cx="479.1" cy="77.3" r="2.1"/><circle cx="479.2" cy="130.1" r="2.1"/><circle cx="485.7" cy="109.5" r="2.1"/><circle cx="476.5" cy="86.8" r="2.1"/><circle cx="483.8" cy="85.0" r="2.1"/><circle cx="481.3" cy="72.4" r="2.1"/><circle cx="483.3" cy="98.4" r="2.1"/><circle cx="483.8" cy="130.2" r="2.1"/><circle cx="483.4" cy="135.0" r="2.1"/><circle cx="477.3" cy="94.8" r="2.1"/><circle cx="474.3" cy="102.5" r="2.1"/><circle cx="487.3" cy="122.9" r="2.1"/><circle cx="486.6" cy="129.0" r="2.1"/><circle cx="481.1" cy="115.7" r="2.1"/><circle cx="483.3" cy="120.2" r="2.1"/><circle cx="475.3" cy="115.4" r="2.1"/><circle cx="480.4" cy="115.6" r="2.1"/><circle cx="482.2" cy="86.9" r="2.1"/><circle cx="483.8" cy="107.7" r="2.1"/><circle cx="477.1" cy="80.1" r="2.1"/><circle cx="475.3" cy="104.8" r="2.1"/><circle cx="487.5" cy="120.0" r="2.1"/><circle cx="485.9" cy="74.6" r="2.1"/><circle cx="476.5" cy="94.2" r="2.1"/><circle cx="485.5" cy="80.5" r="2.1"/><circle cx="485.4" cy="124.1" r="2.1"/><circle cx="476.5" cy="71.1" r="2.1"/><circle cx="485.3" cy="95.3" r="2.1"/><circle cx="479.3" cy="113.9" r="2.1"/><circle cx="478.7" cy="122.8" r="2.1"/><circle cx="476.2" cy="133.7" r="2.1"/><circle cx="482.3" cy="138.4" r="2.1"/><circle cx="482.6" cy="126.7" r="2.1"/><circle cx="481.2" cy="118.6" r="2.1"/><circle cx="475.4" cy="102.8" r="2.1"/><circle cx="485.1" cy="112.3" r="2.1"/><circle cx="478.4" cy="137.5" r="2.1"/><circle cx="477.7" cy="130.4" r="2.1"/><circle cx="483.0" cy="139.4" r="2.1"/><circle cx="476.6" cy="137.9" r="2.1"/><circle cx="486.7" cy="119.5" r="2.1"/><circle cx="483.1" cy="95.1" r="2.1"/><circle cx="485.0" cy="129.8" r="2.1"/><circle cx="478.8" cy="77.5" r="2.1"/><circle cx="480.0" cy="70.1" r="2.1"/><circle cx="477.5" cy="96.8" r="2.1"/><circle cx="477.5" cy="137.3" r="2.1"/><circle cx="479.8" cy="127.8" r="2.1"/><circle cx="485.0" cy="104.2" r="2.1"/><circle cx="481.0" cy="73.9" r="2.1"/><circle cx="485.7" cy="70.5" r="2.1"/><circle cx="475.6" cy="88.0" r="2.1"/><circle cx="478.0" cy="77.1" r="2.1"/><circle cx="474.5" cy="133.8" r="2.1"/><circle cx="486.8" cy="104.5" r="2.1"/><circle cx="474.9" cy="106.5" r="2.1"/><circle cx="481.6" cy="125.3" r="2.1"/><circle cx="483.4" cy="100.4" r="2.1"/><circle cx="476.9" cy="100.5" r="2.1"/><circle cx="487.7" cy="71.3" r="2.1"/><circle cx="487.7" cy="136.0" r="2.1"/><circle cx="477.3" cy="119.4" r="2.1"/><circle cx="476.0" cy="128.5" r="2.1"/><circle cx="483.1" cy="124.8" r="2.1"/><circle cx="481.2" cy="118.0" r="2.1"/><circle cx="482.5" cy="114.4" r="2.1"/><circle cx="482.7" cy="72.3" r="2.1"/><circle cx="487.4" cy="117.3" r="2.1"/><circle cx="484.8" cy="106.1" r="2.1"/><circle cx="478.4" cy="128.9" r="2.1"/><circle cx="484.5" cy="125.0" r="2.1"/><circle cx="480.3" cy="125.3" r="2.1"/><circle cx="487.7" cy="100.1" r="2.1"/><circle cx="480.7" cy="119.2" r="2.1"/><circle cx="474.2" cy="120.9" r="2.1"/><circle cx="486.8" cy="103.3" r="2.1"/><circle cx="477.9" cy="139.6" r="2.1"/><circle cx="485.5" cy="79.0" r="2.1"/><circle cx="482.6" cy="137.1" r="2.1"/><circle cx="484.4" cy="111.3" r="2.1"/><circle cx="484.3" cy="70.0" r="2.1"/><circle cx="486.7" cy="128.7" r="2.1"/><circle cx="485.7" cy="137.5" r="2.1"/><circle cx="483.0" cy="106.0" r="2.1"/><circle cx="478.6" cy="95.6" r="2.1"/><circle cx="480.9" cy="113.4" r="2.1"/><circle cx="477.9" cy="125.0" r="2.1"/><circle cx="478.7" cy="91.3" r="2.1"/><circle cx="480.4" cy="98.6" r="2.1"/><circle cx="479.9" cy="115.9" r="2.1"/><circle cx="478.1" cy="96.7" r="2.1"/><circle cx="478.3" cy="80.7" r="2.1"/><circle cx="478.4" cy="103.9" r="2.1"/><circle cx="476.7" cy="113.0" r="2.1"/><circle cx="482.2" cy="96.7" r="2.1"/><circle cx="475.3" cy="104.6" r="2.1"/><circle cx="477.5" cy="133.7" r="2.1"/><circle cx="476.4" cy="76.1" r="2.1"/><circle cx="483.9" cy="131.9" r="2.1"/><circle cx="477.9" cy="87.6" r="2.1"/><circle cx="475.4" cy="109.8" r="2.1"/><circle cx="485.5" cy="84.7" r="2.1"/><circle cx="480.1" cy="103.3" r="2.1"/><circle cx="485.3" cy="82.1" r="2.1"/><circle cx="478.5" cy="107.1" r="2.1"/><circle cx="478.9" cy="123.1" r="2.1"/><circle cx="481.8" cy="85.7" r="2.1"/><circle cx="475.0" cy="81.6" r="2.1"/><circle cx="487.7" cy="104.8" r="2.1"/><circle cx="475.9" cy="74.3" r="2.1"/><circle cx="486.8" cy="90.1" r="2.1"/><circle cx="483.2" cy="74.0" r="2.1"/><circle cx="484.7" cy="126.8" r="2.1"/><circle cx="476.9" cy="73.3" r="2.1"/><circle cx="486.5" cy="85.8" r="2.1"/><circle cx="481.5" cy="73.3" r="2.1"/><circle cx="479.8" cy="115.7" r="2.1"/><circle cx="476.7" cy="101.0" r="2.1"/><circle cx="476.4" cy="76.8" r="2.1"/><circle cx="486.1" cy="92.7" r="2.1"/><circle cx="487.6" cy="120.1" r="2.1"/><circle cx="479.9" cy="120.1" r="2.1"/><circle cx="484.1" cy="73.1" r="2.1"/><circle cx="483.8" cy="92.7" r="2.1"/><circle cx="480.9" cy="137.0" r="2.1"/><circle cx="480.7" cy="122.3" r="2.1"/><circle cx="481.7" cy="100.9" r="2.1"/><circle cx="478.9" cy="127.2" r="2.1"/><circle cx="484.4" cy="107.4" r="2.1"/><circle cx="479.9" cy="93.0" r="2.1"/><circle cx="481.1" cy="134.7" r="2.1"/><circle cx="476.5" cy="122.6" r="2.1"/><circle cx="487.7" cy="77.8" r="2.1"/><circle cx="475.1" cy="137.8" r="2.1"/><circle cx="484.0" cy="132.8" r="2.1"/><circle cx="483.2" cy="82.1" r="2.1"/><circle cx="478.8" cy="92.4" r="2.1"/><circle cx="487.7" cy="107.0" r="2.1"/><circle cx="474.5" cy="79.3" r="2.1"/><circle cx="477.8" cy="125.8" r="2.1"/><circle cx="478.7" cy="140.4" r="2.1"/><circle cx="483.0" cy="82.6" r="2.1"/><circle cx="482.3" cy="95.1" r="2.1"/><circle cx="484.0" cy="116.7" r="2.1"/><circle cx="486.0" cy="99.3" r="2.1"/><circle cx="474.3" cy="134.9" r="2.1"/><circle cx="481.8" cy="118.4" r="2.1"/><circle cx="479.6" cy="100.1" r="2.1"/><circle cx="483.7" cy="80.3" r="2.1"/><circle cx="481.4" cy="118.1" r="2.1"/><circle cx="478.9" cy="136.4" r="2.1"/><circle cx="474.1" cy="134.5" r="2.1"/><circle cx="478.3" cy="118.8" r="2.1"/><circle cx="480.2" cy="96.0" r="2.1"/><circle cx="478.7" cy="90.3" r="2.1"/><circle cx="479.3" cy="91.1" r="2.1"/><circle cx="483.1" cy="78.2" r="2.1"/><circle cx="478.7" cy="92.0" r="2.1"/><circle cx="485.9" cy="92.8" r="2.1"/><circle cx="479.1" cy="98.3" r="2.1"/><circle cx="480.1" cy="93.1" r="2.1"/><circle cx="480.1" cy="88.5" r="2.1"/><circle cx="486.6" cy="70.9" r="2.1"/><circle cx="482.5" cy="127.9" r="2.1"/><circle cx="487.5" cy="94.8" r="2.1"/><circle cx="474.1" cy="131.9" r="2.1"/><circle cx="487.4" cy="126.0" r="2.1"/><circle cx="476.7" cy="74.5" r="2.1"/><circle cx="486.6" cy="111.8" r="2.1"/><circle cx="474.6" cy="100.2" r="2.1"/><circle cx="486.0" cy="125.6" r="2.1"/><circle cx="482.9" cy="104.3" r="2.1"/><circle cx="483.6" cy="139.0" r="2.1"/><circle cx="479.5" cy="99.2" r="2.1"/><circle cx="479.4" cy="72.5" r="2.1"/><circle cx="476.2" cy="91.6" r="2.1"/><circle cx="476.0" cy="93.2" r="2.1"/><circle cx="482.7" cy="101.1" r="2.1"/><circle cx="478.8" cy="117.8" r="2.1"/><circle cx="474.4" cy="85.4" r="2.1"/><circle cx="476.4" cy="113.0" r="2.1"/><circle cx="476.4" cy="116.7" r="2.1"/><circle cx="476.7" cy="101.6" r="2.1"/><circle cx="480.4" cy="71.0" r="2.1"/><circle cx="486.7" cy="88.2" r="2.1"/><circle cx="482.1" cy="92.5" r="2.1"/><circle cx="484.4" cy="131.6" r="2.1"/><circle cx="475.5" cy="82.9" r="2.1"/><circle cx="483.7" cy="110.5" r="2.1"/><circle cx="486.1" cy="95.8" r="2.1"/><circle cx="487.9" cy="100.6" r="2.1"/><circle cx="484.0" cy="84.6" r="2.1"/><circle cx="482.5" cy="138.5" r="2.1"/><circle cx="487.5" cy="133.8" r="2.1"/><circle cx="475.8" cy="120.6" r="2.1"/><circle cx="485.1" cy="126.3" r="2.1"/><circle cx="484.1" cy="92.0" r="2.1"/><circle cx="484.2" cy="132.4" r="2.1"/><circle cx="479.0" cy="134.2" r="2.1"/><circle cx="475.1" cy="102.9" r="2.1"/><circle cx="476.0" cy="136.0" r="2.1"/><circle cx="483.5" cy="83.9" r="2.1"/><circle cx="478.4" cy="117.2" r="2.1"/><circle cx="487.3" cy="119.1" r="2.1"/><circle cx="475.7" cy="98.0" r="2.1"/><circle cx="485.4" cy="70.9" r="2.1"/><circle cx="480.7" cy="120.5" r="2.1"/><circle cx="478.1" cy="124.6" r="2.1"/><circle cx="477.6" cy="114.4" r="2.1"/><circle cx="478.9" cy="85.0" r="2.1"/><circle cx="479.2" cy="74.0" r="2.1"/><circle cx="477.2" cy="129.7" r="2.1"/><circle cx="477.1" cy="138.6" r="2.1"/><circle cx="487.6" cy="118.9" r="2.1"/><circle cx="479.9" cy="117.8" r="2.1"/><circle cx="482.7" cy="87.3" r="2.1"/><circle cx="483.8" cy="92.1" r="2.1"/><circle cx="478.6" cy="87.3" r="2.1"/><circle cx="487.1" cy="112.7" r="2.1"/><circle cx="478.1" cy="110.1" r="2.1"/><circle cx="476.7" cy="73.4" r="2.1"/><circle cx="474.6" cy="137.3" r="2.1"/><circle cx="477.7" cy="139.2" r="2.1"/><circle cx="474.9" cy="139.6" r="2.1"/><circle cx="482.8" cy="82.3" r="2.1"/><circle cx="482.1" cy="103.7" r="2.1"/><circle cx="474.3" cy="91.0" r="2.1"/><circle cx="487.3" cy="94.0" r="2.1"/><circle cx="484.2" cy="82.6" r="2.1"/><circle cx="481.7" cy="102.9" r="2.1"/><circle cx="487.2" cy="117.3" r="2.1"/><circle cx="481.4" cy="132.7" r="2.1"/><circle cx="476.5" cy="111.4" r="2.1"/><circle cx="484.9" cy="126.8" r="2.1"/><circle cx="487.4" cy="74.5" r="2.1"/><circle cx="474.8" cy="86.2" r="2.1"/><circle cx="481.1" cy="120.4" r="2.1"/><circle cx="477.2" cy="104.2" r="2.1"/><circle cx="486.7" cy="107.2" r="2.1"/><circle cx="475.3" cy="97.5" r="2.1"/><circle cx="485.3" cy="73.0" r="2.1"/><circle cx="476.9" cy="121.0" r="2.1"/><circle cx="483.0" cy="96.8" r="2.1"/><circle cx="483.7" cy="104.7" r="2.1"/><circle cx="484.6" cy="72.5" r="2.1"/><circle cx="474.7" cy="125.2" r="2.1"/><circle cx="480.8" cy="94.4" r="2.1"/><circle cx="475.8" cy="134.3" r="2.1"/><circle cx="475.8" cy="101.9" r="2.1"/><circle cx="476.3" cy="72.1" r="2.1"/><circle cx="476.1" cy="89.3" r="2.1"/><circle cx="487.1" cy="138.5" r="2.1"/><circle cx="481.8" cy="70.4" r="2.1"/><circle cx="477.6" cy="102.1" r="2.1"/><circle cx="480.8" cy="99.3" r="2.1"/><circle cx="474.8" cy="73.1" r="2.1"/><circle cx="477.0" cy="98.9" r="2.1"/><circle cx="482.8" cy="125.0" r="2.1"/><circle cx="483.7" cy="110.0" r="2.1"/><circle cx="482.6" cy="87.2" r="2.1"/><circle cx="487.8" cy="112.4" r="2.1"/><circle cx="487.7" cy="128.7" r="2.1"/><circle cx="485.7" cy="112.9" r="2.1"/><circle cx="480.5" cy="133.4" r="2.1"/><circle cx="484.6" cy="133.6" r="2.1"/><circle cx="477.5" cy="132.1" r="2.1"/><circle cx="486.1" cy="104.3" r="2.1"/><circle cx="477.4" cy="117.8" r="2.1"/><circle cx="487.9" cy="127.9" r="2.1"/><circle cx="474.2" cy="87.9" r="2.1"/><circle cx="485.1" cy="97.0" r="2.1"/><circle cx="481.0" cy="82.1" r="2.1"/><circle cx="485.4" cy="129.3" r="2.1"/><circle cx="481.3" cy="96.4" r="2.1"/><circle cx="485.7" cy="121.9" r="2.1"/><circle cx="483.9" cy="105.3" r="2.1"/><circle cx="482.9" cy="108.8" r="2.1"/><circle cx="487.3" cy="99.0" r="2.1"/><circle cx="475.7" cy="100.0" r="2.1"/><circle cx="487.0" cy="75.1" r="2.1"/><circle cx="481.3" cy="96.1" r="2.1"/><circle cx="483.9" cy="115.6" r="2.1"/><circle cx="483.4" cy="83.9" r="2.1"/><circle cx="479.5" cy="129.2" r="2.1"/><circle cx="481.4" cy="85.3" r="2.1"/><circle cx="487.6" cy="99.5" r="2.1"/><circle cx="480.8" cy="122.2" r="2.1"/><circle cx="486.8" cy="86.9" r="2.1"/><circle cx="474.1" cy="132.6" r="2.1"/><circle cx="482.0" cy="138.2" r="2.1"/><circle cx="483.6" cy="121.3" r="2.1"/><circle cx="479.5" cy="104.6" r="2.1"/><circle cx="475.1" cy="95.6" r="2.1"/><circle cx="485.1" cy="118.3" r="2.1"/><circle cx="484.5" cy="99.4" r="2.1"/><circle cx="479.3" cy="70.6" r="2.1"/><circle cx="475.4" cy="69.3" r="2.1"/><circle cx="485.8" cy="89.2" r="2.1"/><circle cx="484.9" cy="119.1" r="2.1"/><circle cx="485.7" cy="106.7" r="2.1"/><circle cx="485.5" cy="83.0" r="2.1"/><circle cx="477.7" cy="77.3" r="2.1"/><circle cx="482.7" cy="72.7" r="2.1"/><circle cx="480.5" cy="113.0" r="2.1"/><circle cx="479.5" cy="116.6" r="2.1"/><circle cx="479.7" cy="116.7" r="2.1"/><circle cx="483.4" cy="84.6" r="2.1"/><circle cx="488.0" cy="72.3" r="2.1"/><circle cx="480.6" cy="100.5" r="2.1"/><circle cx="479.1" cy="109.1" r="2.1"/><circle cx="482.8" cy="93.1" r="2.1"/><circle cx="482.8" cy="110.6" r="2.1"/><circle cx="479.7" cy="100.0" r="2.1"/><circle cx="483.0" cy="127.3" r="2.1"/><circle cx="483.2" cy="133.7" r="2.1"/><circle cx="484.5" cy="111.7" r="2.1"/><circle cx="476.3" cy="121.6" r="2.1"/><circle cx="483.1" cy="129.9" r="2.1"/><circle cx="479.8" cy="71.7" r="2.1"/><circle cx="486.3" cy="90.9" r="2.1"/><circle cx="482.7" cy="113.0" r="2.1"/><circle cx="485.4" cy="69.8" r="2.1"/><circle cx="485.3" cy="133.1" r="2.1"/><circle cx="477.0" cy="115.8" r="2.1"/><circle cx="475.1" cy="77.5" r="2.1"/><circle cx="484.6" cy="71.5" r="2.1"/><circle cx="474.8" cy="84.0" r="2.1"/><circle cx="487.3" cy="127.4" r="2.1"/><circle cx="483.7" cy="100.2" r="2.1"/><circle cx="479.9" cy="135.7" r="2.1"/><circle cx="483.4" cy="136.2" r="2.1"/><circle cx="475.8" cy="79.0" r="2.1"/><circle cx="482.9" cy="140.6" r="2.1"/><circle cx="486.9" cy="133.8" r="2.1"/><circle cx="474.0" cy="133.2" r="2.1"/><circle cx="487.1" cy="89.9" r="2.1"/><circle cx="478.4" cy="95.8" r="2.1"/><circle cx="479.6" cy="125.3" r="2.1"/><circle cx="487.2" cy="111.4" r="2.1"/><circle cx="485.2" cy="72.7" r="2.1"/><circle cx="479.4" cy="125.7" r="2.1"/><circle cx="487.7" cy="135.9" r="2.1"/><circle cx="474.5" cy="94.5" r="2.1"/><circle cx="483.2" cy="133.0" r="2.1"/><circle cx="481.1" cy="101.0" r="2.1"/><circle cx="486.4" cy="122.5" r="2.1"/><circle cx="474.3" cy="138.4" r="2.1"/><circle cx="478.5" cy="93.7" r="2.1"/><circle cx="480.7" cy="87.0" r="2.1"/><circle cx="475.0" cy="118.3" r="2.1"/><circle cx="483.0" cy="129.4" r="2.1"/><circle cx="485.9" cy="70.9" r="2.1"/><circle cx="486.7" cy="123.3" r="2.1"/><circle cx="476.0" cy="123.1" r="2.1"/><circle cx="481.1" cy="114.6" r="2.1"/><circle cx="487.8" cy="123.6" r="2.1"/><circle cx="475.0" cy="123.2" r="2.1"/><circle cx="483.9" cy="74.6" r="2.1"/><circle cx="478.0" cy="134.9" r="2.1"/><circle cx="486.7" cy="81.1" r="2.1"/><circle cx="482.5" cy="102.5" r="2.1"/><circle cx="486.5" cy="138.2" r="2.1"/><circle cx="474.7" cy="130.0" r="2.1"/><circle cx="482.5" cy="93.8" r="2.1"/><circle cx="479.9" cy="100.7" r="2.1"/><circle cx="475.5" cy="123.4" r="2.1"/><circle cx="479.7" cy="119.9" r="2.1"/><circle cx="484.4" cy="74.4" r="2.1"/><circle cx="482.1" cy="88.0" r="2.1"/><circle cx="482.3" cy="93.4" r="2.1"/><circle cx="477.9" cy="74.7" r="2.1"/><circle cx="481.1" cy="124.2" r="2.1"/><circle cx="480.2" cy="117.2" r="2.1"/><circle cx="486.7" cy="80.8" r="2.1"/><circle cx="486.3" cy="109.3" r="2.1"/><circle cx="480.1" cy="108.8" r="2.1"/><circle cx="481.0" cy="82.9" r="2.1"/><circle cx="478.1" cy="69.3" r="2.1"/><circle cx="481.9" cy="77.3" r="2.1"/><circle cx="475.8" cy="85.6" r="2.1"/><circle cx="487.5" cy="108.8" r="2.1"/><circle cx="479.8" cy="90.2" r="2.1"/><circle cx="474.1" cy="124.6" r="2.1"/><circle cx="478.2" cy="122.6" r="2.1"/><circle cx="487.3" cy="126.1" r="2.1"/><circle cx="478.3" cy="92.0" r="2.1"/><circle cx="479.4" cy="72.9" r="2.1"/><circle cx="487.6" cy="86.7" r="2.1"/><circle cx="485.0" cy="121.7" r="2.1"/><circle cx="479.0" cy="93.5" r="2.1"/><circle cx="476.3" cy="115.7" r="2.1"/><circle cx="479.5" cy="81.8" r="2.1"/><circle cx="479.2" cy="106.0" r="2.1"/><circle cx="486.5" cy="122.9" r="2.1"/><circle cx="481.6" cy="120.0" r="2.1"/><circle cx="486.9" cy="134.7" r="2.1"/><circle cx="487.8" cy="114.9" r="2.1"/><circle cx="486.2" cy="116.5" r="2.1"/><circle cx="479.7" cy="108.0" r="2.1"/><circle cx="479.5" cy="93.7" r="2.1"/><circle cx="481.7" cy="74.3" r="2.1"/><circle cx="483.5" cy="82.3" r="2.1"/><circle cx="485.9" cy="99.7" r="2.1"/><circle cx="485.4" cy="114.9" r="2.1"/><circle cx="478.4" cy="128.6" r="2.1"/><circle cx="484.3" cy="98.5" r="2.1"/><circle cx="479.3" cy="136.2" r="2.1"/><circle cx="484.9" cy="136.9" r="2.1"/><circle cx="474.2" cy="94.8" r="2.1"/><circle cx="485.9" cy="129.0" r="2.1"/><circle cx="483.8" cy="80.1" r="2.1"/><circle cx="476.1" cy="92.8" r="2.1"/><circle cx="477.5" cy="103.2" r="2.1"/><circle cx="478.4" cy="73.8" r="2.1"/><circle cx="481.2" cy="131.3" r="2.1"/><circle cx="486.7" cy="118.6" r="2.1"/><circle cx="487.6" cy="104.4" r="2.1"/><circle cx="482.4" cy="71.7" r="2.1"/><circle cx="475.5" cy="135.1" r="2.1"/><circle cx="487.7" cy="97.7" r="2.1"/><circle cx="487.4" cy="75.0" r="2.1"/><circle cx="475.2" cy="130.4" r="2.1"/><circle cx="483.3" cy="90.4" r="2.1"/><circle cx="483.3" cy="91.3" r="2.1"/><circle cx="483.3" cy="115.0" r="2.1"/><circle cx="484.2" cy="102.4" r="2.1"/><circle cx="474.1" cy="73.8" r="2.1"/><circle cx="478.3" cy="107.3" r="2.1"/><circle cx="478.7" cy="108.1" r="2.1"/><circle cx="483.1" cy="100.4" r="2.1"/><circle cx="475.3" cy="138.5" r="2.1"/><circle cx="477.9" cy="82.8" r="2.1"/><circle cx="476.5" cy="137.1" r="2.1"/><circle cx="474.7" cy="70.7" r="2.1"/><circle cx="480.6" cy="71.3" r="2.1"/><circle cx="476.9" cy="82.2" r="2.1"/><circle cx="480.8" cy="76.7" r="2.1"/><circle cx="476.9" cy="96.7" r="2.1"/><circle cx="485.1" cy="118.9" r="2.1"/><circle cx="475.6" cy="97.6" r="2.1"/><circle cx="484.8" cy="92.2" r="2.1"/><circle cx="483.2" cy="130.6" r="2.1"/><circle cx="476.2" cy="85.3" r="2.1"/><circle cx="479.3" cy="119.0" r="2.1"/><circle cx="479.4" cy="104.1" r="2.1"/><circle cx="480.4" cy="121.7" r="2.1"/><circle cx="483.4" cy="120.6" r="2.1"/><circle cx="474.2" cy="78.1" r="2.1"/><circle cx="476.3" cy="85.7" r="2.1"/><circle cx="483.8" cy="136.3" r="2.1"/><circle cx="475.3" cy="85.6" r="2.1"/><circle cx="485.8" cy="74.6" r="2.1"/><circle cx="479.2" cy="90.4" r="2.1"/><circle cx="474.5" cy="91.2" r="2.1"/><circle cx="484.8" cy="121.9" r="2.1"/><circle cx="477.4" cy="90.8" r="2.1"/><circle cx="488.0" cy="113.6" r="2.1"/><circle cx="486.9" cy="74.7" r="2.1"/><circle cx="486.4" cy="90.4" r="2.1"/><circle cx="486.4" cy="117.7" r="2.1"/><circle cx="475.0" cy="77.5" r="2.1"/><circle cx="474.4" cy="85.4" r="2.1"/><circle cx="479.6" cy="126.4" r="2.1"/><circle cx="479.9" cy="125.4" r="2.1"/><circle cx="479.7" cy="139.8" r="2.1"/><circle cx="482.4" cy="85.7" r="2.1"/><circle cx="485.0" cy="134.6" r="2.1"/><circle cx="485.0" cy="121.1" r="2.1"/><circle cx="487.0" cy="88.1" r="2.1"/><circle cx="483.5" cy="118.9" r="2.1"/><circle cx="486.3" cy="120.3" r="2.1"/><circle cx="475.3" cy="136.0" r="2.1"/><circle cx="474.4" cy="137.2" r="2.1"/><circle cx="480.3" cy="99.9" r="2.1"/><circle cx="486.4" cy="130.8" r="2.1"/><circle cx="479.4" cy="71.8" r="2.1"/><circle cx="475.6" cy="138.9" r="2.1"/><circle cx="475.8" cy="118.2" r="2.1"/><circle cx="477.2" cy="127.6" r="2.1"/><circle cx="486.1" cy="76.4" r="2.1"/><circle cx="478.7" cy="87.1" r="2.1"/><circle cx="486.0" cy="132.8" r="2.1"/><circle cx="487.2" cy="136.8" r="2.1"/><circle cx="484.8" cy="134.8" r="2.1"/><circle cx="486.9" cy="87.9" r="2.1"/><circle cx="477.6" cy="87.3" r="2.1"/><circle cx="476.7" cy="95.5" r="2.1"/><circle cx="477.4" cy="105.8" r="2.1"/><circle cx="474.3" cy="107.6" r="2.1"/><circle cx="487.0" cy="98.2" r="2.1"/><circle cx="476.9" cy="133.0" r="2.1"/><circle cx="482.8" cy="83.9" r="2.1"/><circle cx="478.0" cy="85.1" r="2.1"/><circle cx="481.6" cy="92.1" r="2.1"/><circle cx="480.1" cy="123.9" r="2.1"/><circle cx="484.1" cy="125.4" r="2.1"/><circle cx="476.8" cy="70.6" r="2.1"/><circle cx="478.0" cy="72.9" r="2.1"/><circle cx="475.9" cy="87.2" r="2.1"/><circle cx="478.5" cy="84.6" r="2.1"/><circle cx="485.7" cy="108.0" r="2.1"/><circle cx="487.5" cy="78.0" r="2.1"/><circle cx="474.2" cy="91.4" r="2.1"/><circle cx="485.8" cy="66.1" r="2.1"/><circle cx="484.3" cy="64.3" r="2.1"/><circle cx="475.1" cy="68.7" r="2.1"/><circle cx="476.2" cy="66.4" r="2.1"/><circle cx="486.1" cy="63.2" r="2.1"/><circle cx="476.7" cy="65.8" r="2.1"/><circle cx="486.7" cy="65.2" r="2.1"/><circle cx="481.6" cy="65.2" r="2.1"/><circle cx="487.8" cy="62.5" r="2.1"/><circle cx="481.1" cy="67.8" r="2.1"/><circle cx="475.8" cy="64.3" r="2.1"/><circle cx="482.5" cy="66.0" r="2.1"/><circle cx="480.2" cy="67.5" r="2.1"/><circle cx="475.0" cy="68.9" r="2.1"/><circle cx="485.5" cy="64.9" r="2.1"/><circle cx="486.6" cy="67.9" r="2.1"/><circle cx="487.5" cy="65.1" r="2.1"/><circle cx="483.0" cy="66.1" r="2.1"/><circle cx="482.2" cy="66.3" r="2.1"/><circle cx="476.7" cy="62.9" r="2.1"/><circle cx="487.5" cy="68.6" r="2.1"/><circle cx="484.3" cy="65.2" r="2.1"/><circle cx="483.4" cy="66.3" r="2.1"/><circle cx="483.7" cy="68.1" r="2.1"/><circle cx="485.8" cy="66.4" r="2.1"/><circle cx="478.8" cy="63.0" r="2.1"/><circle cx="475.6" cy="67.8" r="2.1"/><circle cx="487.9" cy="64.4" r="2.1"/><circle cx="474.4" cy="67.3" r="2.1"/><circle cx="477.8" cy="65.5" r="2.1"/><circle cx="480.9" cy="65.3" r="2.1"/><circle cx="474.6" cy="68.7" r="2.1"/><circle cx="478.3" cy="63.4" r="2.1"/><circle cx="486.2" cy="66.5" r="2.1"/><circle cx="482.8" cy="67.7" r="2.1"/><circle cx="482.2" cy="67.7" r="2.1"/><circle cx="474.3" cy="62.2" r="2.1"/><circle cx="480.0" cy="62.5" r="2.1"/><circle cx="475.7" cy="65.9" r="2.1"/><circle cx="479.4" cy="67.3" r="2.1"/><circle cx="479.4" cy="64.2" r="2.1"/><circle cx="479.9" cy="68.8" r="2.1"/><circle cx="478.4" cy="63.1" r="2.1"/><circle cx="484.9" cy="69.2" r="2.1"/><circle cx="480.5" cy="68.9" r="2.1"/><circle cx="486.7" cy="66.8" r="2.1"/><circle cx="478.8" cy="66.0" r="2.1"/><circle cx="476.0" cy="69.2" r="2.1"/><circle cx="479.0" cy="67.2" r="2.1"/><circle cx="486.2" cy="62.2" r="2.1"/><circle cx="479.0" cy="63.7" r="2.1"/><circle cx="485.5" cy="68.8" r="2.1"/><circle cx="483.7" cy="62.9" r="2.1"/><circle cx="477.6" cy="65.9" r="2.1"/><circle cx="476.7" cy="62.1" r="2.1"/><circle cx="475.6" cy="66.9" r="2.1"/><circle cx="480.3" cy="67.0" r="2.1"/><circle cx="483.7" cy="64.4" r="2.1"/><circle cx="478.1" cy="65.7" r="2.1"/><circle cx="487.4" cy="67.2" r="2.1"/><circle cx="474.2" cy="60.5" r="2.1"/><circle cx="485.0" cy="60.1" r="2.1"/><circle cx="476.4" cy="61.1" r="2.1"/><circle cx="488.0" cy="59.5" r="2.1"/><circle cx="475.4" cy="59.8" r="2.1"/><circle cx="486.9" cy="59.8" r="2.1"/><circle cx="479.6" cy="60.0" r="2.1"/><circle cx="478.0" cy="61.4" r="2.1"/><circle cx="474.6" cy="143.2" r="2.1"/><circle cx="477.1" cy="147.5" r="2.1"/><circle cx="479.4" cy="147.8" r="2.1"/><circle cx="487.1" cy="144.8" r="2.1"/><circle cx="487.5" cy="147.5" r="2.1"/><circle cx="475.1" cy="147.9" r="2.1"/><circle cx="481.9" cy="144.1" r="2.1"/><circle cx="474.5" cy="141.0" r="2.1"/><circle cx="475.5" cy="148.5" r="2.1"/><circle cx="482.6" cy="145.3" r="2.1"/><circle cx="481.4" cy="148.2" r="2.1"/><circle cx="486.6" cy="144.5" r="2.1"/><circle cx="486.7" cy="144.2" r="2.1"/><circle cx="476.2" cy="144.9" r="2.1"/><circle cx="482.9" cy="148.6" r="2.1"/><circle cx="485.3" cy="143.2" r="2.1"/><circle cx="484.8" cy="144.8" r="2.1"/><circle cx="481.9" cy="144.2" r="2.1"/><circle cx="481.2" cy="143.5" r="2.1"/><circle cx="482.0" cy="141.5" r="2.1"/><circle cx="479.8" cy="145.4" r="2.1"/><circle cx="481.9" cy="141.5" r="2.1"/><circle cx="486.5" cy="147.5" r="2.1"/><circle cx="478.9" cy="145.2" r="2.1"/><circle cx="480.2" cy="147.5" r="2.1"/><circle cx="480.1" cy="145.9" r="2.1"/><circle cx="486.1" cy="141.5" r="2.1"/><circle cx="477.4" cy="141.0" r="2.1"/><circle cx="480.2" cy="145.1" r="2.1"/><circle cx="484.5" cy="146.7" r="2.1"/><circle cx="479.5" cy="146.3" r="2.1"/><circle cx="486.0" cy="141.6" r="2.1"/><circle cx="481.5" cy="145.4" r="2.1"/><circle cx="475.4" cy="147.3" r="2.1"/><circle cx="479.1" cy="142.1" r="2.1"/><circle cx="476.0" cy="144.8" r="2.1"/><circle cx="480.2" cy="145.4" r="2.1"/><circle cx="479.1" cy="141.6" r="2.1"/><circle cx="478.8" cy="142.8" r="2.1"/><circle cx="485.6" cy="148.8" r="2.1"/><circle cx="486.6" cy="149.2" r="2.1"/><circle cx="484.6" cy="154.0" r="2.1"/><circle cx="484.7" cy="156.5" r="2.1"/><circle cx="486.5" cy="149.8" r="2.1"/><circle cx="486.8" cy="154.3" r="2.1"/><circle cx="476.4" cy="151.8" r="2.1"/><circle cx="486.6" cy="151.2" r="2.1"/><circle cx="476.3" cy="156.3" r="2.1"/><circle cx="477.8" cy="149.1" r="2.1"/><circle cx="485.1" cy="153.0" r="2.1"/><circle cx="476.0" cy="157.6" r="2.1"/><circle cx="487.5" cy="153.2" r="2.1"/><circle cx="487.0" cy="158.0" r="2.1"/><circle cx="474.0" cy="149.1" r="2.1"/></g>
<g fill="#ec2e2e" fill-opacity="0.75"><circle cx="521.7" cy="98.5" r="2.2"/><circle cx="522.6" cy="79.3" r="2.2"/><circle cx="527.7" cy="104.9" r="2.2"/><circle cx="522.1" cy="105.1" r="2.2"/><circle cx="524.4" cy="101.8" r="2.2"/><circle cx="525.5" cy="104.0" r="2.2"/><circle cx="515.7" cy="102.1" r="2.2"/><circle cx="522.4" cy="95.6" r="2.2"/><circle cx="527.3" cy="77.2" r="2.2"/><circle cx="525.8" cy="135.3" r="2.2"/><circle cx="527.2" cy="125.2" r="2.2"/><circle cx="516.6" cy="140.4" r="2.2"/><circle cx="525.2" cy="136.3" r="2.2"/><circle cx="518.2" cy="127.4" r="2.2"/><circle cx="526.6" cy="80.8" r="2.2"/><circle cx="525.3" cy="119.8" r="2.2"/><circle cx="519.6" cy="100.8" r="2.2"/><circle cx="522.4" cy="120.0" r="2.2"/><circle cx="520.9" cy="75.1" r="2.2"/><circle cx="527.5" cy="128.0" r="2.2"/><circle cx="522.1" cy="114.5" r="2.2"/><circle cx="515.4" cy="116.2" r="2.2"/><circle cx="521.8" cy="126.6" r="2.2"/><circle cx="514.6" cy="135.9" r="2.2"/><circle cx="516.2" cy="114.8" r="2.2"/><circle cx="521.2" cy="127.4" r="2.2"/><circle cx="520.8" cy="139.2" r="2.2"/><circle cx="515.3" cy="81.9" r="2.2"/><circle cx="519.1" cy="118.0" r="2.2"/><circle cx="518.3" cy="140.0" r="2.2"/><circle cx="518.3" cy="99.8" r="2.2"/><circle cx="520.5" cy="109.0" r="2.2"/><circle cx="514.8" cy="94.9" r="2.2"/><circle cx="514.8" cy="116.8" r="2.2"/><circle cx="517.6" cy="131.4" r="2.2"/><circle cx="524.3" cy="98.3" r="2.2"/><circle cx="527.4" cy="114.3" r="2.2"/><circle cx="524.9" cy="82.5" r="2.2"/><circle cx="515.4" cy="119.1" r="2.2"/><circle cx="525.8" cy="126.0" r="2.2"/><circle cx="525.8" cy="128.4" r="2.2"/><circle cx="526.1" cy="123.7" r="2.2"/><circle cx="524.5" cy="124.9" r="2.2"/><circle cx="518.0" cy="106.1" r="2.2"/><circle cx="521.2" cy="116.0" r="2.2"/><circle cx="520.5" cy="76.4" r="2.2"/><circle cx="514.8" cy="127.2" r="2.2"/><circle cx="521.9" cy="78.3" r="2.2"/><circle cx="518.0" cy="118.5" r="2.2"/><circle cx="527.6" cy="108.7" r="2.2"/><circle cx="523.6" cy="77.0" r="2.2"/><circle cx="525.6" cy="88.9" r="2.2"/><circle cx="514.8" cy="77.9" r="2.2"/><circle cx="524.3" cy="105.0" r="2.2"/><circle cx="525.5" cy="119.6" r="2.2"/><circle cx="520.8" cy="95.9" r="2.2"/><circle cx="517.8" cy="95.2" r="2.2"/><circle cx="521.1" cy="138.0" r="2.2"/><circle cx="522.0" cy="133.6" r="2.2"/><circle cx="520.4" cy="77.9" r="2.2"/><circle cx="518.8" cy="92.9" r="2.2"/><circle cx="523.7" cy="86.1" r="2.2"/><circle cx="526.8" cy="128.3" r="2.2"/><circle cx="518.1" cy="76.0" r="2.2"/><circle cx="526.7" cy="120.8" r="2.2"/><circle cx="515.1" cy="131.5" r="2.2"/><circle cx="523.9" cy="116.9" r="2.2"/><circle cx="519.1" cy="117.4" r="2.2"/><circle cx="521.6" cy="136.9" r="2.2"/><circle cx="519.3" cy="84.5" r="2.2"/><circle cx="515.4" cy="83.0" r="2.2"/><circle cx="516.6" cy="127.6" r="2.2"/><circle cx="528.1" cy="104.2" r="2.2"/><circle cx="520.1" cy="82.9" r="2.2"/><circle cx="527.6" cy="115.6" r="2.2"/><circle cx="521.6" cy="106.9" r="2.2"/><circle cx="526.9" cy="124.5" r="2.2"/><circle cx="520.5" cy="109.7" r="2.2"/><circle cx="528.2" cy="120.0" r="2.2"/><circle cx="521.0" cy="86.0" r="2.2"/><circle cx="517.9" cy="130.2" r="2.2"/><circle cx="516.8" cy="138.6" r="2.2"/><circle cx="515.3" cy="80.9" r="2.2"/><circle cx="515.8" cy="129.3" r="2.2"/><circle cx="523.8" cy="104.3" r="2.2"/><circle cx="519.4" cy="93.7" r="2.2"/><circle cx="526.5" cy="119.1" r="2.2"/><circle cx="517.1" cy="79.0" r="2.2"/><circle cx="527.4" cy="118.3" r="2.2"/><circle cx="517.0" cy="127.7" r="2.2"/><circle cx="518.1" cy="136.4" r="2.2"/><circle cx="519.1" cy="81.0" r="2.2"/><circle cx="518.0" cy="126.4" r="2.2"/><circle cx="520.1" cy="81.1" r="2.2"/><circle cx="525.5" cy="110.4" r="2.2"/><circle cx="515.3" cy="78.8" r="2.2"/><circle cx="517.7" cy="135.0" r="2.2"/><circle cx="515.0" cy="83.9" r="2.2"/><circle cx="525.2" cy="75.7" r="2.2"/><circle cx="516.0" cy="93.5" r="2.2"/><circle cx="521.4" cy="131.9" r="2.2"/><circle cx="526.5" cy="74.5" r="2.2"/><circle cx="518.7" cy="87.5" r="2.2"/><circle cx="515.9" cy="126.8" r="2.2"/><circle cx="518.0" cy="76.3" r="2.2"/><circle cx="527.5" cy="135.0" r="2.2"/><circle cx="515.6" cy="132.1" r="2.2"/><circle cx="526.4" cy="139.8" r="2.2"/><circle cx="516.0" cy="101.4" r="2.2"/><circle cx="516.6" cy="113.9" r="2.2"/><circle cx="525.1" cy="135.1" r="2.2"/><circle cx="523.3" cy="108.0" r="2.2"/><circle cx="518.8" cy="82.2" r="2.2"/><circle cx="524.1" cy="134.6" r="2.2"/><circle cx="516.4" cy="98.3" r="2.2"/><circle cx="526.6" cy="129.6" r="2.2"/><circle cx="522.4" cy="106.8" r="2.2"/><circle cx="527.5" cy="118.0" r="2.2"/><circle cx="522.6" cy="122.4" r="2.2"/><circle cx="522.3" cy="139.9" r="2.2"/><circle cx="526.3" cy="102.3" r="2.2"/><circle cx="522.5" cy="111.3" r="2.2"/><circle cx="515.5" cy="94.8" r="2.2"/><circle cx="522.9" cy="128.5" r="2.2"/><circle cx="518.4" cy="75.4" r="2.2"/><circle cx="523.2" cy="139.4" r="2.2"/><circle cx="528.3" cy="127.7" r="2.2"/><circle cx="522.8" cy="98.1" r="2.2"/><circle cx="526.0" cy="131.9" r="2.2"/><circle cx="519.3" cy="123.5" r="2.2"/><circle cx="514.5" cy="107.4" r="2.2"/><circle cx="515.0" cy="90.5" r="2.2"/><circle cx="514.6" cy="83.3" r="2.2"/><circle cx="517.4" cy="119.7" r="2.2"/><circle cx="518.1" cy="97.1" r="2.2"/><circle cx="518.8" cy="139.2" r="2.2"/><circle cx="523.5" cy="81.6" r="2.2"/><circle cx="524.8" cy="96.1" r="2.2"/><circle cx="525.1" cy="80.8" r="2.2"/><circle cx="524.8" cy="126.8" r="2.2"/><circle cx="526.3" cy="107.8" r="2.2"/><circle cx="524.4" cy="91.4" r="2.2"/><circle cx="520.7" cy="139.1" r="2.2"/><circle cx="520.1" cy="84.9" r="2.2"/><circle cx="515.4" cy="93.7" r="2.2"/><circle cx="514.5" cy="88.4" r="2.2"/><circle cx="526.3" cy="130.0" r="2.2"/><circle cx="516.4" cy="89.1" r="2.2"/><circle cx="526.4" cy="103.1" r="2.2"/><circle cx="519.9" cy="130.8" r="2.2"/><circle cx="515.1" cy="132.0" r="2.2"/><circle cx="525.9" cy="83.8" r="2.2"/><circle cx="524.3" cy="114.3" r="2.2"/><circle cx="528.3" cy="122.7" r="2.2"/><circle cx="521.9" cy="116.3" r="2.2"/><circle cx="527.3" cy="95.3" r="2.2"/><circle cx="521.4" cy="131.7" r="2.2"/><circle cx="518.0" cy="130.0" r="2.2"/><circle cx="519.9" cy="97.6" r="2.2"/><circle cx="523.5" cy="81.4" r="2.2"/><circle cx="526.8" cy="96.1" r="2.2"/><circle cx="525.7" cy="78.0" r="2.2"/><circle cx="527.3" cy="122.0" r="2.2"/><circle cx="521.8" cy="117.2" r="2.2"/><circle cx="520.8" cy="116.0" r="2.2"/><circle cx="521.7" cy="116.9" r="2.2"/><circle cx="527.4" cy="122.9" r="2.2"/><circle cx="519.4" cy="88.1" r="2.2"/><circle cx="515.1" cy="121.9" r="2.2"/><circle cx="519.8" cy="113.1" r="2.2"/><circle cx="523.4" cy="109.4" r="2.2"/><circle cx="526.0" cy="74.6" r="2.2"/><circle cx="527.5" cy="118.9" r="2.2"/><circle cx="523.9" cy="94.9" r="2.2"/><circle cx="525.7" cy="119.0" r="2.2"/><circle cx="525.7" cy="87.6" r="2.2"/><circle cx="525.6" cy="115.0" r="2.2"/><circle cx="522.7" cy="139.3" r="2.2"/><circle cx="527.5" cy="106.0" r="2.2"/><circle cx="526.8" cy="118.3" r="2.2"/><circle cx="514.4" cy="123.2" r="2.2"/><circle cx="516.0" cy="121.3" r="2.2"/><circle cx="528.2" cy="140.6" r="2.2"/><circle cx="523.6" cy="92.2" r="2.2"/><circle cx="516.3" cy="104.4" r="2.2"/><circle cx="527.1" cy="98.5" r="2.2"/><circle cx="515.5" cy="102.9" r="2.2"/><circle cx="521.8" cy="115.4" r="2.2"/><circle cx="519.7" cy="110.3" r="2.2"/><circle cx="518.3" cy="109.1" r="2.2"/><circle cx="517.6" cy="79.8" r="2.2"/><circle cx="515.5" cy="117.6" r="2.2"/><circle cx="519.6" cy="130.6" r="2.2"/><circle cx="515.7" cy="135.2" r="2.2"/><circle cx="523.0" cy="118.4" r="2.2"/><circle cx="518.8" cy="102.7" r="2.2"/><circle cx="525.0" cy="102.1" r="2.2"/><circle cx="527.4" cy="92.4" r="2.2"/><circle cx="526.7" cy="97.0" r="2.2"/><circle cx="524.7" cy="135.2" r="2.2"/><circle cx="525.2" cy="114.9" r="2.2"/><circle cx="515.6" cy="116.2" r="2.2"/><circle cx="527.9" cy="133.3" r="2.2"/><circle cx="522.4" cy="101.7" r="2.2"/><circle cx="521.9" cy="89.3" r="2.2"/><circle cx="523.7" cy="137.9" r="2.2"/><circle cx="516.9" cy="105.6" r="2.2"/><circle cx="520.9" cy="132.8" r="2.2"/><circle cx="516.0" cy="89.2" r="2.2"/><circle cx="527.2" cy="103.7" r="2.2"/><circle cx="521.3" cy="136.4" r="2.2"/><circle cx="516.2" cy="106.5" r="2.2"/><circle cx="527.9" cy="124.8" r="2.2"/><circle cx="522.4" cy="127.0" r="2.2"/><circle cx="524.9" cy="96.4" r="2.2"/><circle cx="525.5" cy="113.9" r="2.2"/><circle cx="524.0" cy="79.1" r="2.2"/><circle cx="520.5" cy="79.9" r="2.2"/><circle cx="518.2" cy="84.1" r="2.2"/><circle cx="515.0" cy="113.5" r="2.2"/><circle cx="523.0" cy="80.7" r="2.2"/><circle cx="515.8" cy="136.0" r="2.2"/><circle cx="519.5" cy="89.2" r="2.2"/><circle cx="526.8" cy="116.9" r="2.2"/><circle cx="527.0" cy="83.3" r="2.2"/><circle cx="525.8" cy="138.8" r="2.2"/><circle cx="517.0" cy="102.5" r="2.2"/><circle cx="527.5" cy="136.1" r="2.2"/><circle cx="516.3" cy="121.2" r="2.2"/><circle cx="527.2" cy="103.2" r="2.2"/><circle cx="524.8" cy="131.5" r="2.2"/><circle cx="527.9" cy="94.6" r="2.2"/><circle cx="528.1" cy="106.7" r="2.2"/><circle cx="521.7" cy="125.9" r="2.2"/><circle cx="518.7" cy="105.0" r="2.2"/><circle cx="527.2" cy="111.1" r="2.2"/><circle cx="518.7" cy="138.5" r="2.2"/><circle cx="519.0" cy="93.6" r="2.2"/><circle cx="522.3" cy="93.3" r="2.2"/><circle cx="516.3" cy="80.3" r="2.2"/><circle cx="520.7" cy="78.2" r="2.2"/><circle cx="516.2" cy="116.2" r="2.2"/><circle cx="520.6" cy="98.0" r="2.2"/><circle cx="527.0" cy="100.4" r="2.2"/><circle cx="527.2" cy="137.3" r="2.2"/><circle cx="527.7" cy="92.7" r="2.2"/><circle cx="524.5" cy="122.7" r="2.2"/><circle cx="524.8" cy="112.5" r="2.2"/><circle cx="520.3" cy="99.5" r="2.2"/><circle cx="526.8" cy="107.2" r="2.2"/><circle cx="516.2" cy="71.8" r="2.2"/><circle cx="516.6" cy="66.3" r="2.2"/><circle cx="516.0" cy="73.5" r="2.2"/><circle cx="520.0" cy="68.8" r="2.2"/><circle cx="515.1" cy="72.6" r="2.2"/><circle cx="524.2" cy="65.8" r="2.2"/><circle cx="516.9" cy="65.7" r="2.2"/><circle cx="524.0" cy="67.8" r="2.2"/><circle cx="522.2" cy="66.2" r="2.2"/><circle cx="524.0" cy="67.3" r="2.2"/><circle cx="524.1" cy="68.3" r="2.2"/><circle cx="525.3" cy="67.5" r="2.2"/><circle cx="521.0" cy="141.9" r="2.2"/><circle cx="522.3" cy="151.2" r="2.2"/><circle cx="517.8" cy="144.4" r="2.2"/><circle cx="521.3" cy="151.7" r="2.2"/><circle cx="515.6" cy="147.9" r="2.2"/><circle cx="527.7" cy="149.5" r="2.2"/><circle cx="527.3" cy="145.6" r="2.2"/><circle cx="515.3" cy="145.6" r="2.2"/><circle cx="514.5" cy="142.1" r="2.2"/><circle cx="519.8" cy="142.9" r="2.2"/><circle cx="521.7" cy="153.2" r="2.2"/><circle cx="521.0" cy="151.7" r="2.2"/><circle cx="519.0" cy="153.5" r="2.2"/><circle cx="523.0" cy="144.6" r="2.2"/><circle cx="519.9" cy="149.4" r="2.2"/><circle cx="520.0" cy="141.1" r="2.2"/><circle cx="514.8" cy="151.2" r="2.2"/><circle cx="522.6" cy="141.3" r="2.2"/><circle cx="515.5" cy="144.0" r="2.2"/><circle cx="526.3" cy="143.9" r="2.2"/><circle cx="521.0" cy="146.0" r="2.2"/><circle cx="519.3" cy="142.3" r="2.2"/><circle cx="523.6" cy="150.9" r="2.2"/><circle cx="526.7" cy="142.5" r="2.2"/><circle cx="516.7" cy="142.3" r="2.2"/><circle cx="519.9" cy="146.0" r="2.2"/><circle cx="527.9" cy="145.3" r="2.2"/><circle cx="526.4" cy="151.0" r="2.2"/><circle cx="519.8" cy="147.5" r="2.2"/><circle cx="519.4" cy="146.2" r="2.2"/><circle cx="525.7" cy="149.8" r="2.2"/><circle cx="515.5" cy="153.5" r="2.2"/><circle cx="516.0" cy="141.4" r="2.2"/><circle cx="522.3" cy="143.3" r="2.2"/><circle cx="522.3" cy="149.2" r="2.2"/></g>
<text transform="translate(305.2 107) rotate(-90)" font-size="14.3" font-weight="bold" text-anchor="middle">GSVA Score</text>
<circle cx="580.6" cy="63.3" r="3.9" fill="#000"/>
<circle cx="580.6" cy="95.1" r="3.9" fill="#ec2e2e"/>
<text x="590" y="67.5" font-size="11.8" font-weight="bold" text-anchor="start" fill="#000" ><tspan font-style="italic">TP53</tspan> WT</text>
<text x="590" y="99.3" font-size="11.8" font-weight="bold" text-anchor="start" fill="#000" ><tspan font-style="italic">TP53</tspan> Mut</text>
<text x="9.2" y="240" font-size="22" font-weight="bold" text-anchor="middle" fill="#000" >c</text>
<text x="182" y="235.3" font-size="11.9" font-weight="bold" text-anchor="middle" fill="#000" >Estrogen Response Early Signature Genes</text>
<text x="99.7" y="254.2" font-size="11.6" font-weight="bold" text-anchor="middle" fill="#000" >TCGA</text>
<text x="249.8" y="252.7" font-size="11.6" font-weight="bold" text-anchor="middle" fill="#000" >METABRIC</text>
<text transform="translate(8.9 333.1) rotate(-90)" font-size="11.8" font-weight="bold" text-anchor="middle">-Log10 FDR</text>
<text x="172" y="432" font-size="11.8" font-weight="bold" text-anchor="middle" fill="#000" >Log2 FC (TP53 Mut/TP53 WT)</text>
<rect x="27.8" y="267.6" width="132.2" height="134.6" fill="#e4e5e6"/>
<line x1="27.8" x2="160" y1="380.75" y2="380.75" stroke="#f6f6f6" stroke-width="0.5"/>
<line x1="27.8" x2="160" y1="349.05" y2="349.05" stroke="#f6f6f6" stroke-width="0.5"/>
<line x1="27.8" x2="160" y1="317.35" y2="317.35" stroke="#f6f6f6" stroke-width="0.5"/>
<line x1="27.8" x2="160" y1="285.65" y2="285.65" stroke="#f6f6f6" stroke-width="0.5"/>
<line y1="267.6" y2="402.2" x1="49.15" x2="49.15" stroke="#f6f6f6" stroke-width="0.5"/>
<line y1="267.6" y2="402.2" x1="79.25" x2="79.25" stroke="#f6f6f6" stroke-width="0.5"/>
<line y1="267.6" y2="402.2" x1="109.35" x2="109.35" stroke="#f6f6f6" stroke-width="0.5"/>
<line y1="267.6" y2="402.2" x1="139.45" x2="139.45" stroke="#f6f6f6" stroke-width="0.5"/>
<line x1="27.8" x2="160" y1="396.60" y2="396.60" stroke="#f6f6f6" stroke-width="1"/>
<line x1="25.3" x2="27.8" y1="396.60" y2="396.60" stroke="#444" stroke-width="0.6"/>
<text x="24.3" y="400.4" font-size="10.6" font-weight="bold" text-anchor="end" fill="#111" >0</text>
<line x1="27.8" x2="160" y1="364.90" y2="364.90" stroke="#f6f6f6" stroke-width="1"/>
<line x1="25.3" x2="27.8" y1="364.90" y2="364.90" stroke="#444" stroke-width="0.6"/>
<text x="24.3" y="368.7" font-size="10.6" font-weight="bold" text-anchor="end" fill="#111" >5</text>
<line x1="27.8" x2="160" y1="333.20" y2="333.20" stroke="#f6f6f6" stroke-width="1"/>
<line x1="25.3" x2="27.8" y1="333.20" y2="333.20" stroke="#444" stroke-width="0.6"/>
<text x="24.3" y="337" font-size="10.6" font-weight="bold" text-anchor="end" fill="#111" >10</text>
<line x1="27.8" x2="160" y1="301.50" y2="301.50" stroke="#f6f6f6" stroke-width="1"/>
<line x1="25.3" x2="27.8" y1="301.50" y2="301.50" stroke="#444" stroke-width="0.6"/>
<text x="24.3" y="305.3" font-size="10.6" font-weight="bold" text-anchor="end" fill="#111" >15</text>
<line x1="27.8" x2="160" y1="269.80" y2="269.80" stroke="#f6f6f6" stroke-width="1"/>
<line x1="25.3" x2="27.8" y1="269.80" y2="269.80" stroke="#444" stroke-width="0.6"/>
<text x="24.3" y="273.6" font-size="10.6" font-weight="bold" text-anchor="end" fill="#111" >20</text>
<line y1="267.6" y2="402.2" x1="34.10" x2="34.10" stroke="#f6f6f6" stroke-width="1"/>
<line y1="402.2" y2="404.7" x1="34.10" x2="34.10" stroke="#444" stroke-width="0.6"/>
<text x="34.1" y="413.3" font-size="10.6" font-weight="bold" text-anchor="middle" fill="#111" >-2</text>
<line y1="267.6" y2="402.2" x1="64.20" x2="64.20" stroke="#f6f6f6" stroke-width="1"/>
<line y1="402.2" y2="404.7" x1="64.20" x2="64.20" stroke="#444" stroke-width="0.6"/>
<text x="64.2" y="413.3" font-size="10.6" font-weight="bold" text-anchor="middle" fill="#111" >-1</text>
<line y1="267.6" y2="402.2" x1="94.30" x2="94.30" stroke="#f6f6f6" stroke-width="1"/>
<line y1="402.2" y2="404.7" x1="94.30" x2="94.30" stroke="#444" stroke-width="0.6"/>
<text x="94.3" y="413.3" font-size="10.6" font-weight="bold" text-anchor="middle" fill="#111" >0</text>
<line y1="267.6" y2="402.2" x1="124.40" x2="124.40" stroke="#f6f6f6" stroke-width="1"/>
<line y1="402.2" y2="404.7" x1="124.40" x2="124.40" stroke="#444" stroke-width="0.6"/>
<text x="124.4" y="413.3" font-size="10.6" font-weight="bold" text-anchor="middle" fill="#111" >1</text>
<line y1="267.6" y2="402.2" x1="154.50" x2="154.50" stroke="#f6f6f6" stroke-width="1"/>
<line y1="402.2" y2="404.7" x1="154.50" x2="154.50" stroke="#444" stroke-width="0.6"/>
<text x="154.5" y="413.3" font-size="10.6" font-weight="bold" text-anchor="middle" fill="#111" >2</text>
<line x1="27.8" x2="160" y1="383.9" y2="383.9" stroke="#ee3b3b" stroke-width="1.5" stroke-dasharray="6 4"/>
<g fill="#bcbcbc" fill-opacity="0.9"><circle cx="96.6" cy="386.6" r="2.6"/><circle cx="96.3" cy="384.9" r="2.6"/><circle cx="95.9" cy="393.8" r="2.6"/><circle cx="97.3" cy="387.7" r="2.6"/><circle cx="98.7" cy="390.7" r="2.6"/><circle cx="99.3" cy="384.7" r="2.6"/><circle cx="103.4" cy="390.5" r="2.6"/><circle cx="95.5" cy="387.0" r="2.6"/><circle cx="88.1" cy="386.4" r="2.6"/><circle cx="94.8" cy="386.5" r="2.6"/><circle cx="89.9" cy="393.2" r="2.6"/><circle cx="101.6" cy="393.9" r="2.6"/><circle cx="105.9" cy="382.6" r="2.6"/><circle cx="97.8" cy="390.8" r="2.6"/><circle cx="89.5" cy="393.0" r="2.6"/><circle cx="94.9" cy="385.6" r="2.6"/><circle cx="95.5" cy="392.3" r="2.6"/><circle cx="96.3" cy="388.1" r="2.6"/><circle cx="100.3" cy="386.4" r="2.6"/><circle cx="99.7" cy="388.7" r="2.6"/><circle cx="101.5" cy="385.1" r="2.6"/><circle cx="92.9" cy="388.3" r="2.6"/><circle cx="101.8" cy="387.3" r="2.6"/><circle cx="94.2" cy="392.9" r="2.6"/><circle cx="89.2" cy="389.6" r="2.6"/><circle cx="89.4" cy="394.5" r="2.6"/><circle cx="95.7" cy="389.0" r="2.6"/><circle cx="99.5" cy="391.1" r="2.6"/><circle cx="102.1" cy="390.2" r="2.6"/><circle cx="94.6" cy="390.5" r="2.6"/><circle cx="93.3" cy="389.2" r="2.6"/><circle cx="102.7" cy="389.5" r="2.6"/><circle cx="93.3" cy="395.7" r="2.6"/><circle cx="102.0" cy="387.5" r="2.6"/><circle cx="96.5" cy="388.0" r="2.6"/><circle cx="96.5" cy="388.7" r="2.6"/><circle cx="94.3" cy="391.9" r="2.6"/><circle cx="96.7" cy="391.3" r="2.6"/><circle cx="93.3" cy="393.1" r="2.6"/><circle cx="92.3" cy="385.2" r="2.6"/><circle cx="94.8" cy="390.8" r="2.6"/><circle cx="92.5" cy="389.3" r="2.6"/><circle cx="96.8" cy="388.9" r="2.6"/><circle cx="95.8" cy="390.5" r="2.6"/><circle cx="94.2" cy="383.1" r="2.6"/><circle cx="94.5" cy="390.8" r="2.6"/><circle cx="94.4" cy="390.4" r="2.6"/><circle cx="103.2" cy="384.9" r="2.6"/><circle cx="95.4" cy="389.6" r="2.6"/><circle cx="92.7" cy="395.3" r="2.6"/><circle cx="94.1" cy="388.6" r="2.6"/><circle cx="98.4" cy="392.0" r="2.6"/><circle cx="94.5" cy="389.1" r="2.6"/><circle cx="94.7" cy="387.1" r="2.6"/><circle cx="94.2" cy="386.7" r="2.6"/><circle cx="96.1" cy="388.5" r="2.6"/><circle cx="97.2" cy="394.4" r="2.6"/><circle cx="97.4" cy="392.7" r="2.6"/><circle cx="88.0" cy="387.4" r="2.6"/><circle cx="90.6" cy="393.4" r="2.6"/><circle cx="99.0" cy="387.5" r="2.6"/><circle cx="100.4" cy="391.4" r="2.6"/><circle cx="101.2" cy="386.7" r="2.6"/><circle cx="96.0" cy="384.5" r="2.6"/><circle cx="100.6" cy="394.4" r="2.6"/><circle cx="95.2" cy="383.6" r="2.6"/><circle cx="94.8" cy="391.8" r="2.6"/><circle cx="88.5" cy="384.6" r="2.6"/><circle cx="91.9" cy="389.8" r="2.6"/><circle cx="92.7" cy="389.2" r="2.6"/><circle cx="99.5" cy="388.4" r="2.6"/><circle cx="93.3" cy="389.5" r="2.6"/><circle cx="97.1" cy="389.8" r="2.6"/><circle cx="96.6" cy="386.8" r="2.6"/><circle cx="91.9" cy="389.7" r="2.6"/><circle cx="87.7" cy="393.3" r="2.6"/><circle cx="92.0" cy="387.4" r="2.6"/><circle cx="88.9" cy="390.8" r="2.6"/><circle cx="94.0" cy="385.9" r="2.6"/><circle cx="94.8" cy="391.2" r="2.6"/><circle cx="94.6" cy="392.1" r="2.6"/><circle cx="97.6" cy="393.0" r="2.6"/><circle cx="91.2" cy="391.4" r="2.6"/><circle cx="99.4" cy="394.8" r="2.6"/><circle cx="87.9" cy="386.5" r="2.6"/><circle cx="95.7" cy="393.6" r="2.6"/><circle cx="97.1" cy="388.0" r="2.6"/><circle cx="91.8" cy="387.8" r="2.6"/><circle cx="88.2" cy="393.7" r="2.6"/><circle cx="98.2" cy="390.7" r="2.6"/><circle cx="92.4" cy="394.5" r="2.6"/><circle cx="98.9" cy="384.9" r="2.6"/><circle cx="98.8" cy="390.9" r="2.6"/><circle cx="95.4" cy="388.1" r="2.6"/><circle cx="95.4" cy="389.0" r="2.6"/><circle cx="99.8" cy="383.3" r="2.6"/><circle cx="97.1" cy="393.2" r="2.6"/><circle cx="91.2" cy="390.6" r="2.6"/><circle cx="96.1" cy="386.5" r="2.6"/><circle cx="97.9" cy="385.3" r="2.6"/><circle cx="96.3" cy="386.9" r="2.6"/><circle cx="96.2" cy="394.7" r="2.6"/><circle cx="94.7" cy="389.6" r="2.6"/><circle cx="94.8" cy="388.8" r="2.6"/></g>
<g fill="#3d58b5" fill-opacity="0.85"><circle cx="58.8" cy="308.1" r="2.5"/><circle cx="72.7" cy="315.0" r="2.5"/><circle cx="83.9" cy="370.9" r="2.5"/><circle cx="79.4" cy="375.1" r="2.5"/><circle cx="81.9" cy="373.8" r="2.5"/><circle cx="85.6" cy="378.8" r="2.5"/><circle cx="80.1" cy="380.8" r="2.5"/><circle cx="83.1" cy="377.6" r="2.5"/><circle cx="81.9" cy="371.0" r="2.5"/><circle cx="84.4" cy="371.8" r="2.5"/><circle cx="79.4" cy="374.7" r="2.5"/><circle cx="85.6" cy="378.5" r="2.5"/><circle cx="81.4" cy="380.2" r="2.5"/><circle cx="79.9" cy="382.2" r="2.5"/></g>
<g fill="#ee3b3b" fill-opacity="0.7"><circle cx="129.5" cy="273.3" r="2.5"/><circle cx="128.5" cy="316.8" r="2.5"/><circle cx="127.3" cy="320.5" r="2.5"/><circle cx="140.9" cy="320.5" r="2.5"/><circle cx="109.9" cy="324.2" r="2.5"/><circle cx="124.8" cy="327.2" r="2.5"/><circle cx="129.0" cy="332.9" r="2.5"/><circle cx="126.6" cy="333.6" r="2.5"/><circle cx="122.1" cy="334.6" r="2.5"/><circle cx="119.9" cy="335.4" r="2.5"/><circle cx="109.2" cy="336.6" r="2.5"/><circle cx="112.9" cy="334.6" r="2.5"/><circle cx="112.9" cy="337.1" r="2.5"/><circle cx="135.2" cy="339.1" r="2.5"/><circle cx="148.9" cy="340.3" r="2.5"/><circle cx="119.1" cy="341.1" r="2.5"/><circle cx="114.9" cy="344.1" r="2.5"/><circle cx="109.9" cy="346.6" r="2.5"/><circle cx="109.2" cy="347.8" r="2.5"/><circle cx="114.6" cy="350.8" r="2.5"/><circle cx="114.1" cy="352.8" r="2.5"/><circle cx="148.4" cy="353.5" r="2.5"/><circle cx="118.6" cy="356.5" r="2.5"/><circle cx="113.6" cy="356.5" r="2.5"/><circle cx="104.2" cy="357.7" r="2.5"/><circle cx="125.3" cy="359.0" r="2.5"/><circle cx="136.5" cy="360.9" r="2.5"/><circle cx="110.4" cy="360.9" r="2.5"/><circle cx="115.4" cy="362.7" r="2.5"/><circle cx="106.7" cy="363.9" r="2.5"/><circle cx="103.0" cy="366.4" r="2.5"/><circle cx="105.5" cy="368.4" r="2.5"/><circle cx="110.4" cy="368.9" r="2.5"/><circle cx="114.1" cy="368.4" r="2.5"/><circle cx="116.6" cy="370.1" r="2.5"/><circle cx="121.6" cy="368.9" r="2.5"/><circle cx="101.0" cy="370.1" r="2.5"/><circle cx="103.7" cy="371.9" r="2.5"/><circle cx="107.9" cy="372.6" r="2.5"/><circle cx="111.2" cy="371.9" r="2.5"/><circle cx="114.6" cy="373.8" r="2.5"/><circle cx="117.9" cy="374.3" r="2.5"/><circle cx="102.5" cy="375.1" r="2.5"/><circle cx="105.5" cy="376.3" r="2.5"/><circle cx="109.2" cy="375.8" r="2.5"/><circle cx="112.9" cy="377.6" r="2.5"/><circle cx="120.3" cy="376.3" r="2.5"/><circle cx="101.7" cy="378.8" r="2.5"/><circle cx="104.2" cy="380.0" r="2.5"/><circle cx="107.9" cy="380.0" r="2.5"/><circle cx="116.6" cy="380.0" r="2.5"/><circle cx="121.6" cy="380.0" r="2.5"/><circle cx="103.0" cy="382.5" r="2.5"/><circle cx="104.2" cy="366.1" r="2.5"/><circle cx="109.2" cy="367.3" r="2.5"/><circle cx="114.1" cy="367.3" r="2.5"/><circle cx="119.1" cy="368.5" r="2.5"/><circle cx="122.8" cy="371.0" r="2.5"/><circle cx="101.7" cy="372.3" r="2.5"/><circle cx="105.5" cy="373.5" r="2.5"/><circle cx="112.9" cy="371.0" r="2.5"/><circle cx="116.6" cy="374.7" r="2.5"/><circle cx="121.6" cy="377.2" r="2.5"/><circle cx="101.7" cy="377.2" r="2.5"/><circle cx="106.7" cy="378.5" r="2.5"/><circle cx="114.1" cy="380.9" r="2.5"/><circle cx="103.0" cy="380.9" r="2.5"/><circle cx="99.3" cy="382.2" r="2.5"/><circle cx="120.3" cy="379.7" r="2.5"/><circle cx="100.5" cy="376.0" r="2.5"/><circle cx="110.4" cy="374.7" r="2.5"/></g>
<line x1="94.5" x2="94.5" y1="267.6" y2="402.2" stroke="#000" stroke-width="1.3"/>
<ellipse cx="128.4" cy="333.4" rx="29" ry="58.3" transform="rotate(15.4 128.4 333.4)" fill="none" stroke="#ee3b3b" stroke-width="1" stroke-dasharray="3 1.6"/>
<ellipse cx="92.8" cy="395" rx="23.5" ry="12" fill="none" stroke="#a3a3a3" stroke-width="2.6" stroke-dasharray="8 3.5"/>
<rect x="179.9" y="264.2" width="135.1" height="136.1" fill="#e4e5e6"/>
<line x1="179.9" x2="315" y1="376.15" y2="376.15" stroke="#f6f6f6" stroke-width="0.5"/>
<line x1="179.9" x2="315" y1="338.45" y2="338.45" stroke="#f6f6f6" stroke-width="0.5"/>
<line x1="179.9" x2="315" y1="300.75" y2="300.75" stroke="#f6f6f6" stroke-width="0.5"/>
<line y1="264.2" y2="400.3" x1="186.40" x2="186.40" stroke="#f6f6f6" stroke-width="0.5"/>
<line y1="264.2" y2="400.3" x1="227.00" x2="227.00" stroke="#f6f6f6" stroke-width="0.5"/>
<line y1="264.2" y2="400.3" x1="267.60" x2="267.60" stroke="#f6f6f6" stroke-width="0.5"/>
<line y1="264.2" y2="400.3" x1="308.20" x2="308.20" stroke="#f6f6f6" stroke-width="0.5"/>
<line x1="179.9" x2="315" y1="395.00" y2="395.00" stroke="#f6f6f6" stroke-width="1"/>
<line x1="177.4" x2="179.9" y1="395.00" y2="395.00" stroke="#444" stroke-width="0.6"/>
<text x="176.4" y="398.8" font-size="10.6" font-weight="bold" text-anchor="end" fill="#111" >0</text>
<line x1="179.9" x2="315" y1="357.30" y2="357.30" stroke="#f6f6f6" stroke-width="1"/>
<line x1="177.4" x2="179.9" y1="357.30" y2="357.30" stroke="#444" stroke-width="0.6"/>
<text x="176.4" y="361.1" font-size="10.6" font-weight="bold" text-anchor="end" fill="#111" >10</text>
<line x1="179.9" x2="315" y1="319.60" y2="319.60" stroke="#f6f6f6" stroke-width="1"/>
<line x1="177.4" x2="179.9" y1="319.60" y2="319.60" stroke="#444" stroke-width="0.6"/>
<text x="176.4" y="323.4" font-size="10.6" font-weight="bold" text-anchor="end" fill="#111" >20</text>
<line x1="179.9" x2="315" y1="281.90" y2="281.90" stroke="#f6f6f6" stroke-width="1"/>
<line x1="177.4" x2="179.9" y1="281.90" y2="281.90" stroke="#444" stroke-width="0.6"/>
<text x="176.4" y="285.7" font-size="10.6" font-weight="bold" text-anchor="end" fill="#111" >30</text>
<line y1="264.2" y2="400.3" x1="206.70" x2="206.70" stroke="#f6f6f6" stroke-width="1"/>
<line y1="400.3" y2="402.8" x1="206.70" x2="206.70" stroke="#444" stroke-width="0.6"/>
<text x="206.7" y="411.5" font-size="10.6" font-weight="bold" text-anchor="middle" fill="#111" >-1</text>
<line y1="264.2" y2="400.3" x1="247.30" x2="247.30" stroke="#f6f6f6" stroke-width="1"/>
<line y1="400.3" y2="402.8" x1="247.30" x2="247.30" stroke="#444" stroke-width="0.6"/>
<text x="247.3" y="411.5" font-size="10.6" font-weight="bold" text-anchor="middle" fill="#111" >0</text>
<line y1="264.2" y2="400.3" x1="287.90" x2="287.90" stroke="#f6f6f6" stroke-width="1"/>
<line y1="400.3" y2="402.8" x1="287.90" x2="287.90" stroke="#444" stroke-width="0.6"/>
<text x="287.9" y="411.5" font-size="10.6" font-weight="bold" text-anchor="middle" fill="#111" >1</text>
<line x1="179.9" x2="315" y1="387" y2="387" stroke="#ee3b3b" stroke-width="1.5" stroke-dasharray="6 4"/>
<g fill="#bcbcbc" fill-opacity="0.9"><circle cx="246.7" cy="390.3" r="2.6"/><circle cx="245.2" cy="390.7" r="2.6"/><circle cx="245.9" cy="389.3" r="2.6"/><circle cx="247.5" cy="389.8" r="2.6"/><circle cx="246.2" cy="391.9" r="2.6"/><circle cx="247.9" cy="392.9" r="2.6"/><circle cx="241.4" cy="391.8" r="2.6"/><circle cx="245.3" cy="393.4" r="2.6"/><circle cx="244.0" cy="392.0" r="2.6"/><circle cx="245.5" cy="389.0" r="2.6"/><circle cx="243.2" cy="394.1" r="2.6"/><circle cx="244.1" cy="390.0" r="2.6"/><circle cx="243.4" cy="392.5" r="2.6"/><circle cx="241.3" cy="391.8" r="2.6"/><circle cx="245.6" cy="393.1" r="2.6"/><circle cx="242.5" cy="391.0" r="2.6"/><circle cx="244.5" cy="389.5" r="2.6"/><circle cx="247.7" cy="392.6" r="2.6"/><circle cx="244.3" cy="390.1" r="2.6"/><circle cx="248.5" cy="392.1" r="2.6"/><circle cx="248.2" cy="391.2" r="2.6"/><circle cx="249.0" cy="390.4" r="2.6"/><circle cx="249.5" cy="392.7" r="2.6"/><circle cx="247.3" cy="393.2" r="2.6"/><circle cx="246.6" cy="392.8" r="2.6"/><circle cx="249.8" cy="392.3" r="2.6"/><circle cx="243.1" cy="393.7" r="2.6"/><circle cx="247.2" cy="389.1" r="2.6"/><circle cx="248.6" cy="390.8" r="2.6"/><circle cx="242.7" cy="393.4" r="2.6"/><circle cx="241.6" cy="390.0" r="2.6"/><circle cx="246.6" cy="390.6" r="2.6"/><circle cx="245.6" cy="394.2" r="2.6"/><circle cx="247.2" cy="390.3" r="2.6"/><circle cx="242.8" cy="389.8" r="2.6"/><circle cx="246.3" cy="392.8" r="2.6"/><circle cx="248.7" cy="392.2" r="2.6"/><circle cx="244.1" cy="390.1" r="2.6"/><circle cx="244.3" cy="392.9" r="2.6"/><circle cx="241.7" cy="392.8" r="2.6"/><circle cx="247.8" cy="391.8" r="2.6"/><circle cx="247.6" cy="393.3" r="2.6"/><circle cx="248.1" cy="393.8" r="2.6"/></g>
<g fill="#3d58b5" fill-opacity="0.85"><circle cx="211.6" cy="274.6" r="2.5"/><circle cx="217.8" cy="333.6" r="2.5"/><circle cx="229.0" cy="331.7" r="2.5"/><circle cx="233.2" cy="354.0" r="2.5"/><circle cx="233.9" cy="354.5" r="2.5"/><circle cx="239.4" cy="356.5" r="2.5"/><circle cx="232.0" cy="360.9" r="2.5"/><circle cx="235.7" cy="363.9" r="2.5"/><circle cx="241.9" cy="363.4" r="2.5"/><circle cx="238.2" cy="365.2" r="2.5"/><circle cx="230.7" cy="366.4" r="2.5"/><circle cx="237.4" cy="368.9" r="2.5"/><circle cx="236.4" cy="375.8" r="2.5"/><circle cx="238.9" cy="375.1" r="2.5"/><circle cx="241.9" cy="376.3" r="2.5"/><circle cx="244.4" cy="375.8" r="2.5"/><circle cx="239.9" cy="380.0" r="2.5"/><circle cx="241.9" cy="382.5" r="2.5"/><circle cx="240.6" cy="384.3" r="2.5"/><circle cx="243.1" cy="385.8" r="2.5"/><circle cx="233.9" cy="352.9" r="2.5"/><circle cx="239.4" cy="356.9" r="2.5"/><circle cx="232.0" cy="360.3" r="2.5"/><circle cx="236.9" cy="364.8" r="2.5"/><circle cx="241.9" cy="364.1" r="2.5"/><circle cx="230.7" cy="366.1" r="2.5"/><circle cx="235.7" cy="369.8" r="2.5"/><circle cx="239.4" cy="371.0" r="2.5"/><circle cx="234.4" cy="376.0" r="2.5"/><circle cx="239.4" cy="376.0" r="2.5"/><circle cx="244.4" cy="376.0" r="2.5"/><circle cx="236.9" cy="379.7" r="2.5"/><circle cx="240.6" cy="382.2" r="2.5"/><circle cx="241.9" cy="384.7" r="2.5"/><circle cx="239.4" cy="385.9" r="2.5"/></g>
<g fill="#ee3b3b" fill-opacity="0.7"><circle cx="276.1" cy="270.9" r="2.5"/><circle cx="265.5" cy="280.3" r="2.5"/><circle cx="275.4" cy="282.0" r="2.5"/><circle cx="270.4" cy="289.5" r="2.5"/><circle cx="273.4" cy="290.2" r="2.5"/><circle cx="300.2" cy="291.5" r="2.5"/><circle cx="258.8" cy="297.4" r="2.5"/><circle cx="284.8" cy="296.9" r="2.5"/><circle cx="286.1" cy="301.9" r="2.5"/><circle cx="266.7" cy="314.8" r="2.5"/><circle cx="265.5" cy="315.5" r="2.5"/><circle cx="269.2" cy="319.3" r="2.5"/><circle cx="259.3" cy="319.3" r="2.5"/><circle cx="261.7" cy="320.5" r="2.5"/><circle cx="272.9" cy="321.7" r="2.5"/><circle cx="262.2" cy="325.5" r="2.5"/><circle cx="264.2" cy="329.2" r="2.5"/><circle cx="282.1" cy="323.7" r="2.5"/><circle cx="260.5" cy="330.4" r="2.5"/><circle cx="261.7" cy="334.1" r="2.5"/><circle cx="255.5" cy="339.6" r="2.5"/><circle cx="273.4" cy="339.6" r="2.5"/><circle cx="258.0" cy="342.8" r="2.5"/><circle cx="260.5" cy="344.1" r="2.5"/><circle cx="265.5" cy="343.6" r="2.5"/><circle cx="267.9" cy="342.8" r="2.5"/><circle cx="254.3" cy="346.6" r="2.5"/><circle cx="256.8" cy="347.8" r="2.5"/><circle cx="261.7" cy="349.0" r="2.5"/><circle cx="264.2" cy="350.3" r="2.5"/><circle cx="269.2" cy="351.5" r="2.5"/><circle cx="291.5" cy="352.8" r="2.5"/><circle cx="255.5" cy="350.8" r="2.5"/><circle cx="277.9" cy="354.0" r="2.5"/><circle cx="252.3" cy="355.2" r="2.5"/><circle cx="258.8" cy="355.2" r="2.5"/><circle cx="262.2" cy="356.5" r="2.5"/><circle cx="271.2" cy="355.2" r="2.5"/><circle cx="266.7" cy="359.0" r="2.5"/><circle cx="261.7" cy="361.4" r="2.5"/><circle cx="272.9" cy="362.7" r="2.5"/><circle cx="269.2" cy="360.2" r="2.5"/><circle cx="253.1" cy="366.4" r="2.5"/><circle cx="258.0" cy="366.9" r="2.5"/><circle cx="255.5" cy="368.9" r="2.5"/><circle cx="260.5" cy="368.4" r="2.5"/><circle cx="264.2" cy="366.4" r="2.5"/><circle cx="271.7" cy="368.9" r="2.5"/><circle cx="272.9" cy="370.1" r="2.5"/><circle cx="255.5" cy="373.8" r="2.5"/><circle cx="259.3" cy="375.1" r="2.5"/><circle cx="254.3" cy="378.8" r="2.5"/><circle cx="258.0" cy="381.3" r="2.5"/><circle cx="252.3" cy="382.5" r="2.5"/><circle cx="250.6" cy="385.0" r="2.5"/><circle cx="253.8" cy="383.8" r="2.5"/><circle cx="254.3" cy="345.0" r="2.5"/><circle cx="259.3" cy="347.4" r="2.5"/><circle cx="264.2" cy="345.0" r="2.5"/><circle cx="270.4" cy="351.2" r="2.5"/><circle cx="276.6" cy="353.6" r="2.5"/><circle cx="291.5" cy="352.4" r="2.5"/><circle cx="253.1" cy="354.9" r="2.5"/><circle cx="261.7" cy="356.1" r="2.5"/><circle cx="266.7" cy="357.4" r="2.5"/><circle cx="274.1" cy="358.6" r="2.5"/><circle cx="256.8" cy="359.9" r="2.5"/><circle cx="264.2" cy="362.3" r="2.5"/><circle cx="271.7" cy="363.6" r="2.5"/><circle cx="254.3" cy="366.1" r="2.5"/><circle cx="260.5" cy="367.3" r="2.5"/><circle cx="269.2" cy="369.8" r="2.5"/><circle cx="272.9" cy="369.8" r="2.5"/><circle cx="250.6" cy="371.0" r="2.5"/><circle cx="258.0" cy="372.3" r="2.5"/><circle cx="264.2" cy="373.5" r="2.5"/><circle cx="251.8" cy="376.0" r="2.5"/><circle cx="255.5" cy="378.5" r="2.5"/><circle cx="259.3" cy="377.2" r="2.5"/><circle cx="250.6" cy="380.9" r="2.5"/><circle cx="254.3" cy="383.4" r="2.5"/><circle cx="258.0" cy="384.7" r="2.5"/><circle cx="249.3" cy="385.9" r="2.5"/></g>
<line x1="247.4" x2="247.4" y1="264.2" y2="400.3" stroke="#000" stroke-width="1.3"/>
<ellipse cx="277.9" cy="327.5" rx="26.7" ry="63.2" transform="rotate(11.2 277.9 327.5)" fill="none" stroke="#ee3b3b" stroke-width="1" stroke-dasharray="3 1.6"/>
<ellipse cx="245" cy="399.2" rx="17.6" ry="8.6" fill="none" stroke="#a3a3a3" stroke-width="2.5" stroke-dasharray="9 3.5" stroke-dashoffset="3"/>
<text x="333.5" y="241" font-size="21" font-weight="bold" text-anchor="middle" fill="#000" >d</text>
<text x="395.5" y="266.3" font-size="11.8" font-weight="bold" text-anchor="middle" fill="#e8333a" >p53-associated E2</text>
<text x="395.5" y="280.4" font-size="11.8" font-weight="bold" text-anchor="middle" fill="#e8333a" >response genes</text>
<text x="538.7" y="265.6" font-size="11.8" font-weight="bold" text-anchor="middle" fill="#a6a6a6" >Non-p53-associated</text>
<text x="538.7" y="279.9" font-size="11.8" font-weight="bold" text-anchor="middle" fill="#a6a6a6" >E2 response genes</text>
<defs><clipPath id="cy1"><circle cx="398.4" cy="328.2" r="35.4"/></clipPath><clipPath id="cy2"><circle cx="558.5" cy="328.9" r="28"/></clipPath></defs>
<circle cx="374.6" cy="329.3" r="29.4" fill="#bcd6b4"/>
<circle cx="398.4" cy="328.2" r="35.4" fill="#f6d47a" stroke="#fff" stroke-width="0.7"/>
<circle cx="374.6" cy="329.3" r="29.4" fill="#e2cb5d" clip-path="url(#cy1)"/>
<circle cx="536.1" cy="328.8" r="37.2" fill="#bcd6b4"/>
<circle cx="558.5" cy="328.9" r="28" fill="#f6d47a" stroke="#fff" stroke-width="0.7"/>
<circle cx="536.1" cy="328.8" r="37.2" fill="#e2cb5d" clip-path="url(#cy2)"/>
<text x="343.6" y="302" font-size="9.6" text-anchor="start" fill="#111" textLength="23.4" lengthAdjust="spacingAndGlyphs">TCGA</text>
<text x="407.4" y="300.7" font-size="9.6" text-anchor="start" fill="#111" textLength="44.9" lengthAdjust="spacingAndGlyphs">METABRIC</text>
<text x="487.6" y="304.3" font-size="9.6" text-anchor="start" fill="#111" textLength="25.4" lengthAdjust="spacingAndGlyphs">TCGA</text>
<text x="560" y="299.8" font-size="9.6" text-anchor="start" fill="#111" textLength="44.9" lengthAdjust="spacingAndGlyphs">METABRIC</text>
<text x="354" y="332.2" font-size="11.2" text-anchor="middle" fill="#111" textLength="10.8" lengthAdjust="spacingAndGlyphs">11</text>
<text x="386.2" y="331.3" font-size="11.2" text-anchor="middle" fill="#111" textLength="10.8" lengthAdjust="spacingAndGlyphs">70</text>
<text x="418.4" y="331.3" font-size="11.2" text-anchor="middle" fill="#111" textLength="10.8" lengthAdjust="spacingAndGlyphs">24</text>
<text x="515.6" y="333" font-size="11.2" text-anchor="middle" fill="#111" textLength="10.8" lengthAdjust="spacingAndGlyphs">54</text>
<text x="554.2" y="333" font-size="11.2" text-anchor="middle" fill="#111" textLength="10.8" lengthAdjust="spacingAndGlyphs">60</text>
<text x="579" y="333.6" font-size="11.2" text-anchor="middle" fill="#111" textLength="10.8" lengthAdjust="spacingAndGlyphs">13</text>
<text x="14.4" y="472" font-size="22" font-weight="bold" text-anchor="middle" fill="#000" >e</text>
<text x="164" y="456.2" font-size="11.8" font-weight="bold" text-anchor="middle" fill="#000" ><tspan font-style="italic">ESR1</tspan> mRNA Expression</text>
<text x="163.7" y="469.8" font-size="11.8" font-weight="bold" text-anchor="middle" fill="#000" >in <tspan font-style="italic">ESR1</tspan> WT tumors</text>
<text x="109.3" y="485.6" font-size="11.6" font-weight="bold" text-anchor="middle" fill="#000" >POG570</text>
<text x="213" y="488" font-size="11.6" font-weight="bold" text-anchor="middle" fill="#000" >MET500</text>
<text transform="translate(43.5 567.7) rotate(-90)" font-size="12.1" font-weight="bold" text-anchor="middle">Log2 (CPM+1)</text>
<rect x="65.7" y="501" width="81" height="134" fill="#e4e5e6"/>
<line x1="65.7" x2="146.7" y1="609.66" y2="609.66" stroke="#f6f6f6" stroke-width="0.5"/>
<line x1="65.7" x2="146.7" y1="570.38" y2="570.38" stroke="#f6f6f6" stroke-width="0.5"/>
<line x1="65.7" x2="146.7" y1="531.10" y2="531.10" stroke="#f6f6f6" stroke-width="0.5"/>
<line x1="65.7" x2="146.7" y1="629.30" y2="629.30" stroke="#f6f6f6" stroke-width="1"/>
<line x1="65.7" x2="146.7" y1="590.02" y2="590.02" stroke="#f6f6f6" stroke-width="1"/>
<line x1="65.7" x2="146.7" y1="550.74" y2="550.74" stroke="#f6f6f6" stroke-width="1"/>
<line x1="65.7" x2="146.7" y1="511.46" y2="511.46" stroke="#f6f6f6" stroke-width="1"/>
<line y1="501" y2="635" x1="88.00" x2="88.00" stroke="#f6f6f6" stroke-width="1"/>
<line y1="501" y2="635" x1="124.60" x2="124.60" stroke="#f6f6f6" stroke-width="1"/>
<line x1="63.2" x2="65.7" y1="629.30" y2="629.30" stroke="#444" stroke-width="0.6"/>
<line x1="63.2" x2="65.7" y1="590.02" y2="590.02" stroke="#444" stroke-width="0.6"/>
<line x1="63.2" x2="65.7" y1="550.74" y2="550.74" stroke="#444" stroke-width="0.6"/>
<line x1="63.2" x2="65.7" y1="511.46" y2="511.46" stroke="#444" stroke-width="0.6"/>
<line y1="635" y2="637.5" x1="88.00" x2="88.00" stroke="#444" stroke-width="0.6"/>
<line y1="635" y2="637.5" x1="124.60" x2="124.60" stroke="#444" stroke-width="0.6"/>
<text transform="translate(62.50 633.70) scale(0.92 1)" font-size="11.1" font-weight="bold" text-anchor="end" fill="#111">0</text>
<text transform="translate(62.50 594.42) scale(0.92 1)" font-size="11.1" font-weight="bold" text-anchor="end" fill="#111">4</text>
<text transform="translate(62.50 555.14) scale(0.92 1)" font-size="11.1" font-weight="bold" text-anchor="end" fill="#111">8</text>
<text transform="translate(62.50 515.86) scale(0.92 1)" font-size="11.1" font-weight="bold" text-anchor="end" fill="#111">12</text>
<line x1="87.80" x2="87.80" y1="526.00" y2="547.40" stroke="#222" stroke-width="1.0"/>
<line x1="87.80" x2="87.80" y1="572.50" y2="602.80" stroke="#222" stroke-width="1.0"/>
<rect x="73.80" y="547.40" width="28.00" height="25.10" fill="#fff" stroke="#222" stroke-width="1.0"/>
<line x1="73.80" x2="101.80" y1="559.20" y2="559.20" stroke="#222" stroke-width="1.6"/>
<line x1="124.70" x2="124.70" y1="529.40" y2="546.50" stroke="#ec2e2e" stroke-width="1.0"/>
<line x1="124.70" x2="124.70" y1="588.00" y2="622.00" stroke="#ec2e2e" stroke-width="1.0"/>
<rect x="110.60" y="546.50" width="28.20" height="41.50" fill="#fff" stroke="#ec2e2e" stroke-width="1.0"/>
<line x1="110.60" x2="138.80" y1="570.60" y2="570.60" stroke="#ec2e2e" stroke-width="1.6"/>
<g fill="#222" fill-opacity="0.5"><circle cx="85.8" cy="526.8" r="2.6"/><circle cx="92.8" cy="530.1" r="2.6"/><circle cx="84.1" cy="534.9" r="2.6"/><circle cx="90.7" cy="539.9" r="2.6"/><circle cx="94.6" cy="542.1" r="2.6"/><circle cx="81.9" cy="543.2" r="2.6"/><circle cx="87.6" cy="542.1" r="2.6"/><circle cx="92.0" cy="546.9" r="2.6"/><circle cx="80.6" cy="548.7" r="2.6"/><circle cx="86.7" cy="552.0" r="2.6"/><circle cx="93.5" cy="553.5" r="2.6"/><circle cx="89.1" cy="555.7" r="2.6"/><circle cx="84.1" cy="556.8" r="2.6"/><circle cx="88.0" cy="558.3" r="2.6"/><circle cx="91.3" cy="559.6" r="2.6"/><circle cx="90.2" cy="562.3" r="2.6"/><circle cx="84.7" cy="564.4" r="2.6"/><circle cx="85.4" cy="566.6" r="2.6"/><circle cx="92.4" cy="564.4" r="2.6"/><circle cx="81.0" cy="569.9" r="2.6"/><circle cx="83.2" cy="571.5" r="2.6"/><circle cx="86.9" cy="574.3" r="2.6"/><circle cx="88.0" cy="577.6" r="2.6"/><circle cx="86.5" cy="578.7" r="2.6"/><circle cx="80.8" cy="583.1" r="2.6"/><circle cx="81.9" cy="596.9" r="2.6"/><circle cx="83.2" cy="599.5" r="2.6"/><circle cx="83.9" cy="602.8" r="2.6"/><circle cx="93.5" cy="602.1" r="2.6"/><circle cx="83.0" cy="616.3" r="2.6"/><circle cx="82.6" cy="542.6" r="2.6"/><circle cx="89.1" cy="543.6" r="2.6"/><circle cx="90.2" cy="551.3" r="2.6"/><circle cx="87.4" cy="555.7" r="2.6"/><circle cx="84.7" cy="560.1" r="2.6"/><circle cx="93.5" cy="555.7" r="2.6"/><circle cx="86.5" cy="562.3" r="2.6"/></g>
<g fill="#ec2e2e" fill-opacity="0.65"><circle cx="123.1" cy="530.1" r="2.6"/><circle cx="131.4" cy="533.4" r="2.6"/><circle cx="127.4" cy="538.6" r="2.6"/><circle cx="129.0" cy="539.9" r="2.6"/><circle cx="120.4" cy="545.2" r="2.6"/><circle cx="126.3" cy="547.4" r="2.6"/><circle cx="124.2" cy="552.0" r="2.6"/><circle cx="127.9" cy="560.7" r="2.6"/><circle cx="120.4" cy="567.1" r="2.6"/><circle cx="119.3" cy="569.3" r="2.6"/><circle cx="124.2" cy="572.1" r="2.6"/><circle cx="131.4" cy="570.4" r="2.6"/><circle cx="127.4" cy="576.5" r="2.6"/><circle cx="118.0" cy="577.6" r="2.6"/><circle cx="117.6" cy="580.9" r="2.6"/><circle cx="128.5" cy="588.1" r="2.6"/><circle cx="119.8" cy="594.0" r="2.6"/><circle cx="121.5" cy="596.2" r="2.6"/><circle cx="126.3" cy="608.2" r="2.6"/><circle cx="129.2" cy="613.3" r="2.6"/><circle cx="118.7" cy="622.0" r="2.6"/></g>
<rect x="167.4" y="499.2" width="81" height="134.2" fill="#e4e5e6"/>
<line x1="167.4" x2="248.4" y1="608.04" y2="608.04" stroke="#f6f6f6" stroke-width="0.5"/>
<line x1="167.4" x2="248.4" y1="569.12" y2="569.12" stroke="#f6f6f6" stroke-width="0.5"/>
<line x1="167.4" x2="248.4" y1="530.20" y2="530.20" stroke="#f6f6f6" stroke-width="0.5"/>
<line x1="167.4" x2="248.4" y1="627.50" y2="627.50" stroke="#f6f6f6" stroke-width="1"/>
<line x1="167.4" x2="248.4" y1="588.58" y2="588.58" stroke="#f6f6f6" stroke-width="1"/>
<line x1="167.4" x2="248.4" y1="549.66" y2="549.66" stroke="#f6f6f6" stroke-width="1"/>
<line x1="167.4" x2="248.4" y1="510.74" y2="510.74" stroke="#f6f6f6" stroke-width="1"/>
<line y1="499.2" y2="633.4" x1="190.00" x2="190.00" stroke="#f6f6f6" stroke-width="1"/>
<line y1="499.2" y2="633.4" x1="226.70" x2="226.70" stroke="#f6f6f6" stroke-width="1"/>
<line x1="164.9" x2="167.4" y1="627.50" y2="627.50" stroke="#444" stroke-width="0.6"/>
<line x1="164.9" x2="167.4" y1="588.58" y2="588.58" stroke="#444" stroke-width="0.6"/>
<line x1="164.9" x2="167.4" y1="549.66" y2="549.66" stroke="#444" stroke-width="0.6"/>
<line x1="164.9" x2="167.4" y1="510.74" y2="510.74" stroke="#444" stroke-width="0.6"/>
<line y1="633.4" y2="635.9" x1="190.00" x2="190.00" stroke="#444" stroke-width="0.6"/>
<line y1="633.4" y2="635.9" x1="226.70" x2="226.70" stroke="#444" stroke-width="0.6"/>
<text transform="translate(164.20 631.90) scale(0.92 1)" font-size="11.1" font-weight="bold" text-anchor="end" fill="#111">0</text>
<text transform="translate(164.20 592.98) scale(0.92 1)" font-size="11.1" font-weight="bold" text-anchor="end" fill="#111">4</text>
<text transform="translate(164.20 554.06) scale(0.92 1)" font-size="11.1" font-weight="bold" text-anchor="end" fill="#111">8</text>
<text transform="translate(164.20 515.14) scale(0.92 1)" font-size="11.1" font-weight="bold" text-anchor="end" fill="#111">12</text>
<path d="M191.0 511.2V506.4H228.5V511.2" fill="none" stroke="#111" stroke-width="1"/>
<text x="209.6" y="504.3" font-size="8.8" font-weight="bold" text-anchor="middle" letter-spacing="1.2" fill="#222">**</text>
<line x1="189.80" x2="189.80" y1="515.20" y2="533.40" stroke="#222" stroke-width="1.0"/>
<line x1="189.80" x2="189.80" y1="545.40" y2="561.80" stroke="#222" stroke-width="1.0"/>
<rect x="175.55" y="533.40" width="28.50" height="12.00" fill="#fff" stroke="#222" stroke-width="1.0"/>
<line x1="175.55" x2="204.05" y1="538.60" y2="538.60" stroke="#222" stroke-width="1.6"/>
<line x1="226.50" x2="226.50" y1="521.70" y2="540.40" stroke="#ec2e2e" stroke-width="1.0"/>
<line x1="226.50" x2="226.50" y1="564.40" y2="572.00" stroke="#ec2e2e" stroke-width="1.0"/>
<rect x="212.30" y="540.40" width="28.40" height="24.00" fill="#fff" stroke="#ec2e2e" stroke-width="1.0"/>
<line x1="212.30" x2="240.70" y1="552.40" y2="552.40" stroke="#ec2e2e" stroke-width="1.6"/>
<g fill="#222" fill-opacity="0.5"><circle cx="182.7" cy="518.9" r="2.6"/><circle cx="184.9" cy="518.5" r="2.6"/><circle cx="189.9" cy="515.8" r="2.6"/><circle cx="186.4" cy="527.7" r="2.6"/><circle cx="183.8" cy="530.5" r="2.6"/><circle cx="188.6" cy="534.9" r="2.6"/><circle cx="192.6" cy="536.0" r="2.6"/><circle cx="195.8" cy="536.0" r="2.6"/><circle cx="190.8" cy="536.4" r="2.6"/><circle cx="189.3" cy="539.3" r="2.6"/><circle cx="186.4" cy="543.6" r="2.6"/><circle cx="181.6" cy="545.8" r="2.6"/><circle cx="190.8" cy="544.7" r="2.6"/><circle cx="185.5" cy="549.6" r="2.6"/><circle cx="193.0" cy="558.3" r="2.6"/><circle cx="185.3" cy="561.8" r="2.6"/><circle cx="196.3" cy="566.2" r="2.6"/><circle cx="188.2" cy="541.5" r="2.6"/><circle cx="193.6" cy="537.1" r="2.6"/></g>
<g fill="#ec2e2e" fill-opacity="0.65"><circle cx="225.4" cy="522.2" r="2.6"/><circle cx="224.3" cy="532.7" r="2.6"/><circle cx="229.3" cy="530.5" r="2.6"/><circle cx="229.8" cy="532.7" r="2.6"/><circle cx="233.1" cy="548.0" r="2.6"/><circle cx="229.8" cy="549.1" r="2.6"/><circle cx="222.1" cy="549.1" r="2.6"/><circle cx="219.3" cy="553.1" r="2.6"/><circle cx="228.7" cy="555.7" r="2.6"/><circle cx="219.3" cy="561.2" r="2.6"/><circle cx="229.8" cy="561.6" r="2.6"/><circle cx="227.6" cy="567.1" r="2.6"/><circle cx="226.5" cy="570.6" r="2.6"/><circle cx="221.7" cy="571.7" r="2.6"/></g>
<text x="293" y="466.5" font-size="22" font-weight="bold" text-anchor="middle" fill="#000" >f</text>
<text x="464" y="459.8" font-size="11.8" font-weight="bold" text-anchor="middle" fill="#000" >E2 response signatures in merged POG570/MET500</text>
<text x="376.3" y="479.5" font-size="11.8" font-weight="bold" text-anchor="middle" fill="#000" ><tspan font-style="italic">ESR1</tspan> WT</text>
<text x="536.2" y="478.8" font-size="11.8" font-weight="bold" text-anchor="middle" fill="#000" ><tspan font-style="italic">ESR1</tspan> Mutant</text>
<line x1="301" x2="456.7" y1="483.6" y2="483.6" stroke="#111" stroke-width="1.1"/>
<line x1="463.2" x2="618.6" y1="483.5" y2="483.5" stroke="#111" stroke-width="1.1"/>
<text transform="translate(273.9 559.8) rotate(-90)" font-size="11.8" font-weight="bold" text-anchor="middle">GSVA Score</text>
<rect x="298.2" y="489.3" width="52" height="141.5" fill="#e4e5e6"/>
<line x1="298.2" x2="350.2" y1="611.84" y2="611.84" stroke="#f6f6f6" stroke-width="0.5"/>
<line x1="298.2" x2="350.2" y1="577.48" y2="577.48" stroke="#f6f6f6" stroke-width="0.5"/>
<line x1="298.2" x2="350.2" y1="543.12" y2="543.12" stroke="#f6f6f6" stroke-width="0.5"/>
<line x1="298.2" x2="350.2" y1="508.76" y2="508.76" stroke="#f6f6f6" stroke-width="0.5"/>
<line x1="298.2" x2="350.2" y1="629.02" y2="629.02" stroke="#f6f6f6" stroke-width="1"/>
<line x1="298.2" x2="350.2" y1="594.66" y2="594.66" stroke="#f6f6f6" stroke-width="1"/>
<line x1="298.2" x2="350.2" y1="560.30" y2="560.30" stroke="#f6f6f6" stroke-width="1"/>
<line x1="298.2" x2="350.2" y1="525.94" y2="525.94" stroke="#f6f6f6" stroke-width="1"/>
<line x1="298.2" x2="350.2" y1="491.58" y2="491.58" stroke="#f6f6f6" stroke-width="1"/>
<line y1="489.3" y2="630.8" x1="312.30" x2="312.30" stroke="#f6f6f6" stroke-width="1"/>
<line y1="489.3" y2="630.8" x1="335.50" x2="335.50" stroke="#f6f6f6" stroke-width="1"/>
<line x1="295.7" x2="298.2" y1="629.02" y2="629.02" stroke="#444" stroke-width="0.6"/>
<line x1="295.7" x2="298.2" y1="594.66" y2="594.66" stroke="#444" stroke-width="0.6"/>
<line x1="295.7" x2="298.2" y1="560.30" y2="560.30" stroke="#444" stroke-width="0.6"/>
<line x1="295.7" x2="298.2" y1="525.94" y2="525.94" stroke="#444" stroke-width="0.6"/>
<line x1="295.7" x2="298.2" y1="491.58" y2="491.58" stroke="#444" stroke-width="0.6"/>
<line y1="630.8" y2="633.3" x1="312.30" x2="312.30" stroke="#444" stroke-width="0.6"/>
<line y1="630.8" y2="633.3" x1="335.50" x2="335.50" stroke="#444" stroke-width="0.6"/>
<rect x="351.8" y="489.3" width="103.6" height="141.5" fill="#e4e5e6"/>
<line x1="351.8" x2="455.4" y1="611.84" y2="611.84" stroke="#f6f6f6" stroke-width="0.5"/>
<line x1="351.8" x2="455.4" y1="577.48" y2="577.48" stroke="#f6f6f6" stroke-width="0.5"/>
<line x1="351.8" x2="455.4" y1="543.12" y2="543.12" stroke="#f6f6f6" stroke-width="0.5"/>
<line x1="351.8" x2="455.4" y1="508.76" y2="508.76" stroke="#f6f6f6" stroke-width="0.5"/>
<line x1="351.8" x2="455.4" y1="629.02" y2="629.02" stroke="#f6f6f6" stroke-width="1"/>
<line x1="351.8" x2="455.4" y1="594.66" y2="594.66" stroke="#f6f6f6" stroke-width="1"/>
<line x1="351.8" x2="455.4" y1="560.30" y2="560.30" stroke="#f6f6f6" stroke-width="1"/>
<line x1="351.8" x2="455.4" y1="525.94" y2="525.94" stroke="#f6f6f6" stroke-width="1"/>
<line x1="351.8" x2="455.4" y1="491.58" y2="491.58" stroke="#f6f6f6" stroke-width="1"/>
<line y1="489.3" y2="630.8" x1="366.80" x2="366.80" stroke="#f6f6f6" stroke-width="1"/>
<line y1="489.3" y2="630.8" x1="391.40" x2="391.40" stroke="#f6f6f6" stroke-width="1"/>
<line y1="489.3" y2="630.8" x1="415.60" x2="415.60" stroke="#f6f6f6" stroke-width="1"/>
<line y1="489.3" y2="630.8" x1="440.30" x2="440.30" stroke="#f6f6f6" stroke-width="1"/>
<line x1="349.3" x2="351.8" y1="629.02" y2="629.02" stroke="#444" stroke-width="0.6"/>
<line x1="349.3" x2="351.8" y1="594.66" y2="594.66" stroke="#444" stroke-width="0.6"/>
<line x1="349.3" x2="351.8" y1="560.30" y2="560.30" stroke="#444" stroke-width="0.6"/>
<line x1="349.3" x2="351.8" y1="525.94" y2="525.94" stroke="#444" stroke-width="0.6"/>
<line x1="349.3" x2="351.8" y1="491.58" y2="491.58" stroke="#444" stroke-width="0.6"/>
<line y1="630.8" y2="633.3" x1="366.80" x2="366.80" stroke="#444" stroke-width="0.6"/>
<line y1="630.8" y2="633.3" x1="391.40" x2="391.40" stroke="#444" stroke-width="0.6"/>
<line y1="630.8" y2="633.3" x1="415.60" x2="415.60" stroke="#444" stroke-width="0.6"/>
<line y1="630.8" y2="633.3" x1="440.30" x2="440.30" stroke="#444" stroke-width="0.6"/>
<rect x="457.8" y="489.3" width="51.4" height="141.5" fill="#e4e5e6"/>
<line x1="457.8" x2="509.2" y1="611.84" y2="611.84" stroke="#f6f6f6" stroke-width="0.5"/>
<line x1="457.8" x2="509.2" y1="577.48" y2="577.48" stroke="#f6f6f6" stroke-width="0.5"/>
<line x1="457.8" x2="509.2" y1="543.12" y2="543.12" stroke="#f6f6f6" stroke-width="0.5"/>
<line x1="457.8" x2="509.2" y1="508.76" y2="508.76" stroke="#f6f6f6" stroke-width="0.5"/>
<line x1="457.8" x2="509.2" y1="629.02" y2="629.02" stroke="#f6f6f6" stroke-width="1"/>
<line x1="457.8" x2="509.2" y1="594.66" y2="594.66" stroke="#f6f6f6" stroke-width="1"/>
<line x1="457.8" x2="509.2" y1="560.30" y2="560.30" stroke="#f6f6f6" stroke-width="1"/>
<line x1="457.8" x2="509.2" y1="525.94" y2="525.94" stroke="#f6f6f6" stroke-width="1"/>
<line x1="457.8" x2="509.2" y1="491.58" y2="491.58" stroke="#f6f6f6" stroke-width="1"/>
<line y1="489.3" y2="630.8" x1="471.60" x2="471.60" stroke="#f6f6f6" stroke-width="1"/>
<line y1="489.3" y2="630.8" x1="494.80" x2="494.80" stroke="#f6f6f6" stroke-width="1"/>
<line x1="455.3" x2="457.8" y1="629.02" y2="629.02" stroke="#444" stroke-width="0.6"/>
<line x1="455.3" x2="457.8" y1="594.66" y2="594.66" stroke="#444" stroke-width="0.6"/>
<line x1="455.3" x2="457.8" y1="560.30" y2="560.30" stroke="#444" stroke-width="0.6"/>
<line x1="455.3" x2="457.8" y1="525.94" y2="525.94" stroke="#444" stroke-width="0.6"/>
<line x1="455.3" x2="457.8" y1="491.58" y2="491.58" stroke="#444" stroke-width="0.6"/>
<line y1="630.8" y2="633.3" x1="471.60" x2="471.60" stroke="#444" stroke-width="0.6"/>
<line y1="630.8" y2="633.3" x1="494.80" x2="494.80" stroke="#444" stroke-width="0.6"/>
<rect x="511.1" y="489.3" width="103" height="141.5" fill="#e4e5e6"/>
<line x1="511.1" x2="614.1" y1="611.84" y2="611.84" stroke="#f6f6f6" stroke-width="0.5"/>
<line x1="511.1" x2="614.1" y1="577.48" y2="577.48" stroke="#f6f6f6" stroke-width="0.5"/>
<line x1="511.1" x2="614.1" y1="543.12" y2="543.12" stroke="#f6f6f6" stroke-width="0.5"/>
<line x1="511.1" x2="614.1" y1="508.76" y2="508.76" stroke="#f6f6f6" stroke-width="0.5"/>
<line x1="511.1" x2="614.1" y1="629.02" y2="629.02" stroke="#f6f6f6" stroke-width="1"/>
<line x1="511.1" x2="614.1" y1="594.66" y2="594.66" stroke="#f6f6f6" stroke-width="1"/>
<line x1="511.1" x2="614.1" y1="560.30" y2="560.30" stroke="#f6f6f6" stroke-width="1"/>
<line x1="511.1" x2="614.1" y1="525.94" y2="525.94" stroke="#f6f6f6" stroke-width="1"/>
<line x1="511.1" x2="614.1" y1="491.58" y2="491.58" stroke="#f6f6f6" stroke-width="1"/>
<line y1="489.3" y2="630.8" x1="525.90" x2="525.90" stroke="#f6f6f6" stroke-width="1"/>
<line y1="489.3" y2="630.8" x1="550.10" x2="550.10" stroke="#f6f6f6" stroke-width="1"/>
<line y1="489.3" y2="630.8" x1="575.00" x2="575.00" stroke="#f6f6f6" stroke-width="1"/>
<line y1="489.3" y2="630.8" x1="599.40" x2="599.40" stroke="#f6f6f6" stroke-width="1"/>
<line x1="508.6" x2="511.1" y1="629.02" y2="629.02" stroke="#444" stroke-width="0.6"/>
<line x1="508.6" x2="511.1" y1="594.66" y2="594.66" stroke="#444" stroke-width="0.6"/>
<line x1="508.6" x2="511.1" y1="560.30" y2="560.30" stroke="#444" stroke-width="0.6"/>
<line x1="508.6" x2="511.1" y1="525.94" y2="525.94" stroke="#444" stroke-width="0.6"/>
<line x1="508.6" x2="511.1" y1="491.58" y2="491.58" stroke="#444" stroke-width="0.6"/>
<line y1="630.8" y2="633.3" x1="525.90" x2="525.90" stroke="#444" stroke-width="0.6"/>
<line y1="630.8" y2="633.3" x1="550.10" x2="550.10" stroke="#444" stroke-width="0.6"/>
<line y1="630.8" y2="633.3" x1="575.00" x2="575.00" stroke="#444" stroke-width="0.6"/>
<line y1="630.8" y2="633.3" x1="599.40" x2="599.40" stroke="#444" stroke-width="0.6"/>
<text x="295.4" y="632.5" font-size="9.8" font-weight="bold" text-anchor="end" fill="#111" >-0.8</text>
<text x="295.4" y="598.2" font-size="9.8" font-weight="bold" text-anchor="end" fill="#111" >-0.4</text>
<text x="295.4" y="563.8" font-size="9.8" font-weight="bold" text-anchor="end" fill="#111" >0.0</text>
<text x="295.4" y="529.5" font-size="9.8" font-weight="bold" text-anchor="end" fill="#111" >0.4</text>
<text x="295.4" y="495.1" font-size="9.8" font-weight="bold" text-anchor="end" fill="#111" >0.8</text>
<line x1="311.95" x2="311.95" y1="518.60" y2="550.60" stroke="#333" stroke-width="0.9"/>
<line x1="311.95" x2="311.95" y1="580.00" y2="596.70" stroke="#333" stroke-width="0.9"/>
<rect x="303.30" y="550.60" width="17.30" height="29.40" fill="#fff" stroke="#333" stroke-width="0.9"/>
<line x1="303.30" x2="320.60" y1="569.40" y2="569.40" stroke="#333" stroke-width="1.4400000000000002"/>
<line x1="335.45" x2="335.45" y1="525.00" y2="557.90" stroke="#ec2e2e" stroke-width="0.9"/>
<line x1="335.45" x2="335.45" y1="586.00" y2="597.70" stroke="#ec2e2e" stroke-width="0.9"/>
<rect x="326.40" y="557.90" width="18.10" height="28.10" fill="#fff" stroke="#ec2e2e" stroke-width="0.9"/>
<line x1="326.40" x2="344.50" y1="573.80" y2="573.80" stroke="#ec2e2e" stroke-width="1.4400000000000002"/>
<line x1="366.85" x2="366.85" y1="511.40" y2="535.20" stroke="#333" stroke-width="0.9"/>
<line x1="366.85" x2="366.85" y1="588.10" y2="611.00" stroke="#333" stroke-width="0.9"/>
<rect x="357.60" y="535.20" width="18.50" height="52.90" fill="#fff" stroke="#333" stroke-width="0.9"/>
<line x1="357.60" x2="376.10" y1="570.50" y2="570.50" stroke="#333" stroke-width="1.4400000000000002"/>
<line x1="391.35" x2="391.35" y1="519.40" y2="565.70" stroke="#ec2e2e" stroke-width="0.9"/>
<line x1="391.35" x2="391.35" y1="600.50" y2="607.70" stroke="#ec2e2e" stroke-width="0.9"/>
<rect x="382.20" y="565.70" width="18.30" height="34.80" fill="#fff" stroke="#ec2e2e" stroke-width="0.9"/>
<line x1="382.20" x2="400.50" y1="584.90" y2="584.90" stroke="#ec2e2e" stroke-width="1.4400000000000002"/>
<line x1="415.80" x2="415.80" y1="524.90" y2="549.70" stroke="#333" stroke-width="0.9"/>
<line x1="415.80" x2="415.80" y1="576.40" y2="592.90" stroke="#333" stroke-width="0.9"/>
<rect x="406.50" y="549.70" width="18.60" height="26.70" fill="#fff" stroke="#333" stroke-width="0.9"/>
<line x1="406.50" x2="425.10" y1="563.10" y2="563.10" stroke="#333" stroke-width="1.4400000000000002"/>
<line x1="440.00" x2="440.00" y1="527.40" y2="549.70" stroke="#ec2e2e" stroke-width="0.9"/>
<line x1="440.00" x2="440.00" y1="576.40" y2="594.40" stroke="#ec2e2e" stroke-width="0.9"/>
<rect x="430.50" y="549.70" width="19.00" height="26.70" fill="#fff" stroke="#ec2e2e" stroke-width="0.9"/>
<line x1="430.50" x2="449.50" y1="563.40" y2="563.40" stroke="#ec2e2e" stroke-width="1.4400000000000002"/>
<line x1="471.50" x2="471.50" y1="519.00" y2="532.40" stroke="#333" stroke-width="0.9"/>
<line x1="471.50" x2="471.50" y1="552.30" y2="572.10" stroke="#333" stroke-width="0.9"/>
<rect x="462.60" y="532.40" width="17.80" height="19.90" fill="#fff" stroke="#333" stroke-width="0.9"/>
<line x1="462.60" x2="480.40" y1="539.80" y2="539.80" stroke="#333" stroke-width="1.4400000000000002"/>
<line x1="494.85" x2="494.85" y1="525.40" y2="534.40" stroke="#ec2e2e" stroke-width="0.9"/>
<line x1="494.85" x2="494.85" y1="563.40" y2="585.00" stroke="#ec2e2e" stroke-width="0.9"/>
<rect x="486.30" y="534.40" width="17.10" height="29.00" fill="#fff" stroke="#ec2e2e" stroke-width="0.9"/>
<line x1="486.30" x2="503.40" y1="548.00" y2="548.00" stroke="#ec2e2e" stroke-width="1.4400000000000002"/>
<line x1="525.70" x2="525.70" y1="496.30" y2="516.70" stroke="#333" stroke-width="0.9"/>
<line x1="525.70" x2="525.70" y1="534.20" y2="558.60" stroke="#333" stroke-width="0.9"/>
<rect x="516.60" y="516.70" width="18.20" height="17.50" fill="#fff" stroke="#333" stroke-width="0.9"/>
<line x1="516.60" x2="534.80" y1="528.20" y2="528.20" stroke="#333" stroke-width="1.4400000000000002"/>
<line x1="550.15" x2="550.15" y1="525.00" y2="530.60" stroke="#ec2e2e" stroke-width="0.9"/>
<line x1="550.15" x2="550.15" y1="555.00" y2="589.70" stroke="#ec2e2e" stroke-width="0.9"/>
<rect x="540.70" y="530.60" width="18.90" height="24.40" fill="#fff" stroke="#ec2e2e" stroke-width="0.9"/>
<line x1="540.70" x2="559.60" y1="541.50" y2="541.50" stroke="#ec2e2e" stroke-width="1.4400000000000002"/>
<line x1="574.90" x2="574.90" y1="516.80" y2="543.10" stroke="#333" stroke-width="0.9"/>
<line x1="574.90" x2="574.90" y1="567.40" y2="587.30" stroke="#333" stroke-width="0.9"/>
<rect x="565.50" y="543.10" width="18.80" height="24.30" fill="#fff" stroke="#333" stroke-width="0.9"/>
<line x1="565.50" x2="584.30" y1="552.00" y2="552.00" stroke="#333" stroke-width="1.4400000000000002"/>
<line x1="599.50" x2="599.50" y1="526.00" y2="530.30" stroke="#ec2e2e" stroke-width="0.9"/>
<line x1="599.50" x2="599.50" y1="573.30" y2="582.40" stroke="#ec2e2e" stroke-width="0.9"/>
<rect x="590.20" y="530.30" width="18.60" height="43.00" fill="#fff" stroke="#ec2e2e" stroke-width="0.9"/>
<line x1="590.20" x2="608.80" y1="550.30" y2="550.30" stroke="#ec2e2e" stroke-width="1.4400000000000002"/>
<g fill="#000" fill-opacity="0.6"><circle cx="309.1" cy="518.6" r="1.8"/><circle cx="310.8" cy="527.3" r="1.8"/><circle cx="314.0" cy="530.5" r="1.8"/><circle cx="314.6" cy="532.5" r="1.8"/><circle cx="316.0" cy="534.7" r="1.8"/><circle cx="308.0" cy="535.2" r="1.8"/><circle cx="311.9" cy="536.4" r="1.8"/><circle cx="313.3" cy="537.0" r="1.8"/><circle cx="309.8" cy="539.1" r="1.8"/><circle cx="308.8" cy="540.5" r="1.8"/><circle cx="315.3" cy="539.8" r="1.8"/><circle cx="315.8" cy="542.6" r="1.8"/><circle cx="308.0" cy="547.4" r="1.8"/><circle cx="313.3" cy="550.2" r="1.8"/><circle cx="314.6" cy="551.3" r="1.8"/><circle cx="311.9" cy="551.9" r="1.8"/><circle cx="307.7" cy="554.4" r="1.8"/><circle cx="312.6" cy="555.8" r="1.8"/><circle cx="311.9" cy="559.2" r="1.8"/><circle cx="308.4" cy="562.0" r="1.8"/><circle cx="312.6" cy="563.4" r="1.8"/><circle cx="315.3" cy="566.2" r="1.8"/><circle cx="314.6" cy="568.3" r="1.8"/><circle cx="310.5" cy="571.0" r="1.8"/><circle cx="311.9" cy="571.7" r="1.8"/><circle cx="313.3" cy="573.1" r="1.8"/><circle cx="309.8" cy="573.8" r="1.8"/><circle cx="314.6" cy="575.2" r="1.8"/><circle cx="311.2" cy="576.6" r="1.8"/><circle cx="314.0" cy="578.0" r="1.8"/><circle cx="309.1" cy="579.3" r="1.8"/><circle cx="311.2" cy="580.7" r="1.8"/><circle cx="313.3" cy="581.4" r="1.8"/><circle cx="307.7" cy="583.5" r="1.8"/><circle cx="309.8" cy="584.9" r="1.8"/><circle cx="311.9" cy="585.6" r="1.8"/><circle cx="309.1" cy="586.3" r="1.8"/><circle cx="311.2" cy="587.7" r="1.8"/><circle cx="313.3" cy="587.0" r="1.8"/><circle cx="314.6" cy="588.4" r="1.8"/><circle cx="312.6" cy="589.8" r="1.8"/><circle cx="315.3" cy="591.8" r="1.8"/><circle cx="315.3" cy="596.7" r="1.8"/><circle cx="310.5" cy="582.8" r="1.8"/><circle cx="308.4" cy="581.4" r="1.8"/><circle cx="312.6" cy="575.2" r="1.8"/><circle cx="311.6" cy="569.6" r="1.8"/></g>
<g fill="#ec2e2e" fill-opacity="0.75"><circle cx="333.4" cy="525.0" r="1.8"/><circle cx="338.2" cy="531.1" r="1.8"/><circle cx="335.4" cy="537.0" r="1.8"/><circle cx="332.7" cy="539.8" r="1.8"/><circle cx="334.8" cy="542.6" r="1.8"/><circle cx="332.0" cy="546.8" r="1.8"/><circle cx="335.4" cy="551.6" r="1.8"/><circle cx="334.1" cy="553.7" r="1.8"/><circle cx="332.7" cy="555.1" r="1.8"/><circle cx="332.0" cy="558.5" r="1.8"/><circle cx="339.6" cy="563.4" r="1.8"/><circle cx="332.0" cy="566.9" r="1.8"/><circle cx="335.4" cy="566.2" r="1.8"/><circle cx="338.2" cy="566.9" r="1.8"/><circle cx="339.6" cy="568.3" r="1.8"/><circle cx="334.8" cy="570.3" r="1.8"/><circle cx="331.3" cy="573.1" r="1.8"/><circle cx="332.7" cy="576.6" r="1.8"/><circle cx="332.0" cy="579.3" r="1.8"/><circle cx="333.4" cy="582.1" r="1.8"/><circle cx="332.7" cy="584.2" r="1.8"/><circle cx="334.1" cy="585.6" r="1.8"/><circle cx="336.1" cy="586.3" r="1.8"/><circle cx="338.2" cy="586.0" r="1.8"/><circle cx="339.6" cy="587.0" r="1.8"/><circle cx="335.4" cy="587.7" r="1.8"/><circle cx="337.5" cy="589.1" r="1.8"/><circle cx="334.1" cy="589.8" r="1.8"/><circle cx="336.1" cy="590.4" r="1.8"/><circle cx="331.3" cy="592.9" r="1.8"/><circle cx="337.5" cy="594.6" r="1.8"/><circle cx="333.4" cy="597.7" r="1.8"/><circle cx="334.8" cy="584.9" r="1.8"/><circle cx="332.0" cy="584.9" r="1.8"/><circle cx="336.8" cy="584.9" r="1.8"/><circle cx="332.7" cy="578.0" r="1.8"/><circle cx="331.3" cy="575.2" r="1.8"/></g>
<g fill="#000" fill-opacity="0.6"><circle cx="367.2" cy="511.4" r="1.8"/><circle cx="369.7" cy="510.6" r="1.8"/><circle cx="368.1" cy="515.4" r="1.8"/><circle cx="368.9" cy="517.0" r="1.8"/><circle cx="362.0" cy="523.5" r="1.8"/><circle cx="366.4" cy="525.1" r="1.8"/><circle cx="370.5" cy="523.9" r="1.8"/><circle cx="364.0" cy="526.7" r="1.8"/><circle cx="367.2" cy="527.5" r="1.8"/><circle cx="371.3" cy="527.5" r="1.8"/><circle cx="361.6" cy="530.7" r="1.8"/><circle cx="365.6" cy="529.9" r="1.8"/><circle cx="369.7" cy="530.7" r="1.8"/><circle cx="363.2" cy="534.7" r="1.8"/><circle cx="368.1" cy="533.9" r="1.8"/><circle cx="371.3" cy="536.3" r="1.8"/><circle cx="364.8" cy="538.7" r="1.8"/><circle cx="363.2" cy="541.1" r="1.8"/><circle cx="368.1" cy="541.9" r="1.8"/><circle cx="364.0" cy="543.5" r="1.8"/><circle cx="365.6" cy="545.1" r="1.8"/><circle cx="366.4" cy="556.4" r="1.8"/><circle cx="367.2" cy="558.0" r="1.8"/><circle cx="364.0" cy="560.4" r="1.8"/><circle cx="368.9" cy="560.4" r="1.8"/><circle cx="364.8" cy="562.8" r="1.8"/><circle cx="368.9" cy="566.8" r="1.8"/><circle cx="363.2" cy="572.4" r="1.8"/><circle cx="364.8" cy="575.6" r="1.8"/><circle cx="371.3" cy="576.4" r="1.8"/><circle cx="364.0" cy="578.0" r="1.8"/><circle cx="368.1" cy="580.4" r="1.8"/><circle cx="369.7" cy="582.0" r="1.8"/><circle cx="367.2" cy="582.8" r="1.8"/><circle cx="364.0" cy="584.5" r="1.8"/><circle cx="370.5" cy="585.3" r="1.8"/><circle cx="363.2" cy="586.9" r="1.8"/><circle cx="368.9" cy="587.7" r="1.8"/><circle cx="364.8" cy="588.5" r="1.8"/><circle cx="365.6" cy="591.7" r="1.8"/><circle cx="364.0" cy="593.3" r="1.8"/><circle cx="367.2" cy="594.9" r="1.8"/><circle cx="363.2" cy="595.7" r="1.8"/><circle cx="365.6" cy="597.3" r="1.8"/><circle cx="371.3" cy="598.1" r="1.8"/><circle cx="366.4" cy="599.7" r="1.8"/><circle cx="368.1" cy="601.3" r="1.8"/><circle cx="369.7" cy="602.9" r="1.8"/><circle cx="367.2" cy="605.3" r="1.8"/><circle cx="368.1" cy="610.9" r="1.8"/></g>
<g fill="#ec2e2e" fill-opacity="0.75"><circle cx="386.0" cy="519.4" r="1.8"/><circle cx="386.0" cy="523.5" r="1.8"/><circle cx="386.5" cy="525.5" r="1.8"/><circle cx="395.3" cy="529.9" r="1.8"/><circle cx="387.3" cy="544.0" r="1.8"/><circle cx="393.4" cy="555.6" r="1.8"/><circle cx="389.7" cy="561.5" r="1.8"/><circle cx="392.4" cy="560.4" r="1.8"/><circle cx="394.5" cy="565.2" r="1.8"/><circle cx="386.5" cy="570.8" r="1.8"/><circle cx="391.3" cy="569.2" r="1.8"/><circle cx="388.1" cy="574.0" r="1.8"/><circle cx="390.5" cy="575.6" r="1.8"/><circle cx="392.9" cy="576.4" r="1.8"/><circle cx="389.7" cy="578.0" r="1.8"/><circle cx="394.5" cy="583.7" r="1.8"/><circle cx="386.5" cy="587.7" r="1.8"/><circle cx="391.3" cy="586.9" r="1.8"/><circle cx="393.7" cy="589.3" r="1.8"/><circle cx="387.3" cy="592.5" r="1.8"/><circle cx="392.1" cy="594.1" r="1.8"/><circle cx="394.5" cy="593.3" r="1.8"/><circle cx="390.5" cy="596.5" r="1.8"/><circle cx="388.1" cy="599.7" r="1.8"/><circle cx="392.9" cy="600.5" r="1.8"/><circle cx="395.3" cy="601.3" r="1.8"/><circle cx="388.9" cy="602.9" r="1.8"/><circle cx="390.5" cy="605.3" r="1.8"/><circle cx="394.5" cy="603.7" r="1.8"/><circle cx="389.7" cy="607.7" r="1.8"/><circle cx="388.1" cy="602.1" r="1.8"/><circle cx="392.1" cy="603.7" r="1.8"/></g>
<g fill="#000" fill-opacity="0.6"><circle cx="419.7" cy="524.7" r="1.8"/><circle cx="411.7" cy="538.0" r="1.8"/><circle cx="415.4" cy="537.3" r="1.8"/><circle cx="417.3" cy="535.5" r="1.8"/><circle cx="412.9" cy="539.8" r="1.8"/><circle cx="420.4" cy="541.3" r="1.8"/><circle cx="411.1" cy="545.4" r="1.8"/><circle cx="415.4" cy="544.2" r="1.8"/><circle cx="414.2" cy="547.3" r="1.8"/><circle cx="419.1" cy="548.3" r="1.8"/><circle cx="410.4" cy="548.5" r="1.8"/><circle cx="416.6" cy="548.5" r="1.8"/><circle cx="414.8" cy="552.2" r="1.8"/><circle cx="419.1" cy="552.2" r="1.8"/><circle cx="412.3" cy="557.8" r="1.8"/><circle cx="411.7" cy="559.0" r="1.8"/><circle cx="417.9" cy="556.6" r="1.8"/><circle cx="415.4" cy="557.8" r="1.8"/><circle cx="419.7" cy="562.1" r="1.8"/><circle cx="412.9" cy="565.9" r="1.8"/><circle cx="417.3" cy="564.6" r="1.8"/><circle cx="418.5" cy="566.5" r="1.8"/><circle cx="414.8" cy="569.6" r="1.8"/><circle cx="412.3" cy="573.3" r="1.8"/><circle cx="415.4" cy="572.7" r="1.8"/><circle cx="417.9" cy="573.9" r="1.8"/><circle cx="411.7" cy="575.8" r="1.8"/><circle cx="413.5" cy="576.4" r="1.8"/><circle cx="416.6" cy="577.0" r="1.8"/><circle cx="419.1" cy="575.8" r="1.8"/><circle cx="412.9" cy="579.5" r="1.8"/><circle cx="415.4" cy="580.8" r="1.8"/><circle cx="411.1" cy="582.6" r="1.8"/><circle cx="412.9" cy="583.9" r="1.8"/><circle cx="418.5" cy="582.6" r="1.8"/><circle cx="411.7" cy="585.7" r="1.8"/><circle cx="414.8" cy="586.3" r="1.8"/><circle cx="412.3" cy="588.2" r="1.8"/><circle cx="413.5" cy="592.5" r="1.8"/><circle cx="416.6" cy="592.9" r="1.8"/></g>
<g fill="#ec2e2e" fill-opacity="0.75"><circle cx="436.7" cy="527.0" r="1.8"/><circle cx="435.9" cy="538.0" r="1.8"/><circle cx="443.3" cy="538.0" r="1.8"/><circle cx="437.1" cy="544.5" r="1.8"/><circle cx="440.2" cy="545.0" r="1.8"/><circle cx="442.1" cy="546.0" r="1.8"/><circle cx="436.5" cy="549.1" r="1.8"/><circle cx="440.2" cy="551.0" r="1.8"/><circle cx="437.7" cy="552.8" r="1.8"/><circle cx="435.9" cy="554.7" r="1.8"/><circle cx="440.8" cy="554.7" r="1.8"/><circle cx="439.0" cy="555.9" r="1.8"/><circle cx="443.9" cy="557.8" r="1.8"/><circle cx="437.1" cy="561.5" r="1.8"/><circle cx="442.1" cy="560.9" r="1.8"/><circle cx="440.2" cy="563.4" r="1.8"/><circle cx="442.7" cy="564.6" r="1.8"/><circle cx="439.0" cy="565.9" r="1.8"/><circle cx="441.5" cy="567.1" r="1.8"/><circle cx="439.6" cy="569.6" r="1.8"/><circle cx="436.5" cy="574.6" r="1.8"/><circle cx="443.3" cy="573.1" r="1.8"/><circle cx="440.2" cy="575.2" r="1.8"/><circle cx="443.9" cy="579.5" r="1.8"/><circle cx="441.5" cy="578.3" r="1.8"/><circle cx="438.4" cy="580.8" r="1.8"/><circle cx="440.2" cy="582.6" r="1.8"/><circle cx="442.7" cy="582.0" r="1.8"/><circle cx="437.7" cy="583.9" r="1.8"/><circle cx="439.6" cy="585.7" r="1.8"/><circle cx="441.5" cy="590.7" r="1.8"/><circle cx="439.6" cy="593.8" r="1.8"/><circle cx="440.2" cy="592.9" r="1.8"/></g>
<g fill="#000" fill-opacity="0.6"><circle cx="469.0" cy="519.0" r="1.8"/><circle cx="469.6" cy="520.8" r="1.8"/><circle cx="468.8" cy="522.5" r="1.8"/><circle cx="466.7" cy="526.0" r="1.8"/><circle cx="471.1" cy="526.2" r="1.8"/><circle cx="472.5" cy="530.7" r="1.8"/><circle cx="473.7" cy="532.1" r="1.8"/><circle cx="474.8" cy="532.8" r="1.8"/><circle cx="467.6" cy="535.6" r="1.8"/><circle cx="470.2" cy="535.9" r="1.8"/><circle cx="468.4" cy="537.1" r="1.8"/><circle cx="469.6" cy="538.9" r="1.8"/><circle cx="471.3" cy="539.4" r="1.8"/><circle cx="474.3" cy="540.0" r="1.8"/><circle cx="472.5" cy="545.3" r="1.8"/><circle cx="470.8" cy="548.2" r="1.8"/><circle cx="475.4" cy="551.1" r="1.8"/><circle cx="472.5" cy="552.9" r="1.8"/><circle cx="467.3" cy="557.5" r="1.8"/><circle cx="472.3" cy="562.8" r="1.8"/><circle cx="469.9" cy="568.0" r="1.8"/><circle cx="472.5" cy="570.4" r="1.8"/><circle cx="472.3" cy="572.1" r="1.8"/></g>
<g fill="#ec2e2e" fill-opacity="0.75"><circle cx="491.8" cy="525.4" r="1.8"/><circle cx="496.1" cy="531.6" r="1.8"/><circle cx="491.8" cy="542.1" r="1.8"/><circle cx="492.6" cy="553.8" r="1.8"/><circle cx="497.3" cy="566.9" r="1.8"/><circle cx="491.5" cy="584.4" r="1.8"/></g>
<g fill="#000" fill-opacity="0.6"><circle cx="524.2" cy="496.3" r="1.8"/><circle cx="525.0" cy="511.6" r="1.8"/><circle cx="529.0" cy="512.6" r="1.8"/><circle cx="529.7" cy="513.6" r="1.8"/><circle cx="526.1" cy="516.3" r="1.8"/><circle cx="527.5" cy="517.0" r="1.8"/><circle cx="530.4" cy="517.0" r="1.8"/><circle cx="528.2" cy="520.7" r="1.8"/><circle cx="529.0" cy="525.0" r="1.8"/><circle cx="523.1" cy="527.2" r="1.8"/><circle cx="524.6" cy="528.2" r="1.8"/><circle cx="526.1" cy="529.1" r="1.8"/><circle cx="523.9" cy="530.9" r="1.8"/><circle cx="525.3" cy="532.3" r="1.8"/><circle cx="529.0" cy="534.5" r="1.8"/><circle cx="524.6" cy="533.8" r="1.8"/><circle cx="530.4" cy="545.2" r="1.8"/><circle cx="527.5" cy="547.7" r="1.8"/><circle cx="530.7" cy="549.6" r="1.8"/><circle cx="527.2" cy="555.7" r="1.8"/><circle cx="520.5" cy="559.8" r="1.8"/><circle cx="522.0" cy="575.4" r="1.8"/></g>
<g fill="#ec2e2e" fill-opacity="0.75"><circle cx="547.2" cy="524.7" r="1.8"/><circle cx="546.5" cy="530.6" r="1.8"/><circle cx="552.3" cy="541.5" r="1.8"/><circle cx="549.1" cy="555.3" r="1.8"/><circle cx="548.2" cy="589.7" r="1.8"/></g>
<g fill="#000" fill-opacity="0.6"><circle cx="574.0" cy="516.8" r="1.8"/><circle cx="574.0" cy="532.3" r="1.8"/><circle cx="578.4" cy="533.2" r="1.8"/><circle cx="579.4" cy="534.9" r="1.8"/><circle cx="574.4" cy="536.8" r="1.8"/><circle cx="579.0" cy="539.4" r="1.8"/><circle cx="576.4" cy="543.7" r="1.8"/><circle cx="579.4" cy="547.0" r="1.8"/><circle cx="571.2" cy="550.3" r="1.8"/><circle cx="573.1" cy="550.3" r="1.8"/><circle cx="572.5" cy="553.6" r="1.8"/><circle cx="577.1" cy="550.9" r="1.8"/><circle cx="579.0" cy="552.5" r="1.8"/><circle cx="579.7" cy="554.6" r="1.8"/><circle cx="577.1" cy="555.5" r="1.8"/><circle cx="575.8" cy="563.4" r="1.8"/><circle cx="572.5" cy="567.4" r="1.8"/><circle cx="577.1" cy="568.0" r="1.8"/><circle cx="578.4" cy="570.4" r="1.8"/><circle cx="576.0" cy="575.9" r="1.8"/><circle cx="570.5" cy="583.4" r="1.8"/><circle cx="577.7" cy="584.4" r="1.8"/><circle cx="574.0" cy="587.3" r="1.8"/></g>
<g fill="#ec2e2e" fill-opacity="0.75"><circle cx="597.4" cy="525.6" r="1.8"/><circle cx="599.4" cy="526.0" r="1.8"/><circle cx="601.7" cy="542.7" r="1.8"/><circle cx="598.3" cy="558.4" r="1.8"/><circle cx="600.4" cy="577.9" r="1.8"/><circle cx="594.5" cy="582.8" r="1.8"/></g>
<path d="M368.2 494.8V491.9H414.7V494.8" fill="none" stroke="#111" stroke-width="1"/>
<text x="392.2" y="493.1" font-size="8.8" font-weight="bold" text-anchor="middle" letter-spacing="1.2" fill="#222">**</text>
<path d="M368.2 505.4V502.7H391.6V505.4" fill="none" stroke="#111" stroke-width="1"/>
<text x="381.4" y="503.2" font-size="8.8" font-weight="bold" text-anchor="middle" letter-spacing="1.2" fill="#222">**</text>
<path d="M526.2 493.3V490.5H572.2V493.3" fill="none" stroke="#111" stroke-width="1"/>
<text x="549.5" y="494.2" font-size="8.8" font-weight="bold" text-anchor="middle" letter-spacing="1.2" fill="#222">**</text>
<path d="M309 636.2V638.3H338.2V636.2" fill="none" stroke="#111" stroke-width="1.1"/>
<path d="M365.2 636.2V638.3H393.2V636.2" fill="none" stroke="#111" stroke-width="1.1"/>
<path d="M412.6 636.2V638.3H441.1V636.2" fill="none" stroke="#111" stroke-width="1.1"/>
<path d="M470.9 636.2V638.3H499.4V636.2" fill="none" stroke="#111" stroke-width="1.1"/>
<path d="M525.5 636.2V638.3H554.7V636.2" fill="none" stroke="#111" stroke-width="1.1"/>
<path d="M573.7 636.2V638.3H602.4V636.2" fill="none" stroke="#111" stroke-width="1.1"/>
<text transform="translate(315 659.1) rotate(-30)" font-size="10.6" font-weight="bold" text-anchor="middle" fill="#111"><tspan x="0" y="0">General</tspan><tspan x="0" y="13.2">Signature</tspan></text>
<text transform="translate(369.6 657.7) rotate(-30)" font-size="10.6" font-weight="bold" text-anchor="middle" fill="#111"><tspan x="0" y="0">p53-</tspan><tspan x="0" y="13.2">associated</tspan></text>
<text transform="translate(418 661.3) rotate(-30)" font-size="10.6" font-weight="bold" text-anchor="middle" fill="#111"><tspan x="0" y="0">Non-p53-</tspan><tspan x="0" y="13.2">associated</tspan></text>
<text transform="translate(476.8 660.1) rotate(-30)" font-size="10.6" font-weight="bold" text-anchor="middle" fill="#111"><tspan x="0" y="0">General</tspan><tspan x="0" y="13.2">Signature</tspan></text>
<text transform="translate(531.8 659.2) rotate(-30)" font-size="10.6" font-weight="bold" text-anchor="middle" fill="#111"><tspan x="0" y="0">p53-</tspan><tspan x="0" y="13.2">associated</tspan></text>
<text transform="translate(579.6 661.7) rotate(-30)" font-size="10.6" font-weight="bold" text-anchor="middle" fill="#111"><tspan x="0" y="0">Non-p53-</tspan><tspan x="0" y="13.2">associated</tspan></text>
<circle cx="624" cy="522.7" r="3.9" fill="#000"/>
<circle cx="624" cy="554.7" r="3.9" fill="#ec2e2e"/>
<text x="633.5" y="526.9" font-size="11.8" font-weight="bold" text-anchor="start" fill="#000" ><tspan font-style="italic">TP53</tspan> WT</text>
<text x="633.5" y="558.9" font-size="11.8" font-weight="bold" text-anchor="start" fill="#000" ><tspan font-style="italic">TP53</tspan> Mut</text>
</svg>
</body></html>
